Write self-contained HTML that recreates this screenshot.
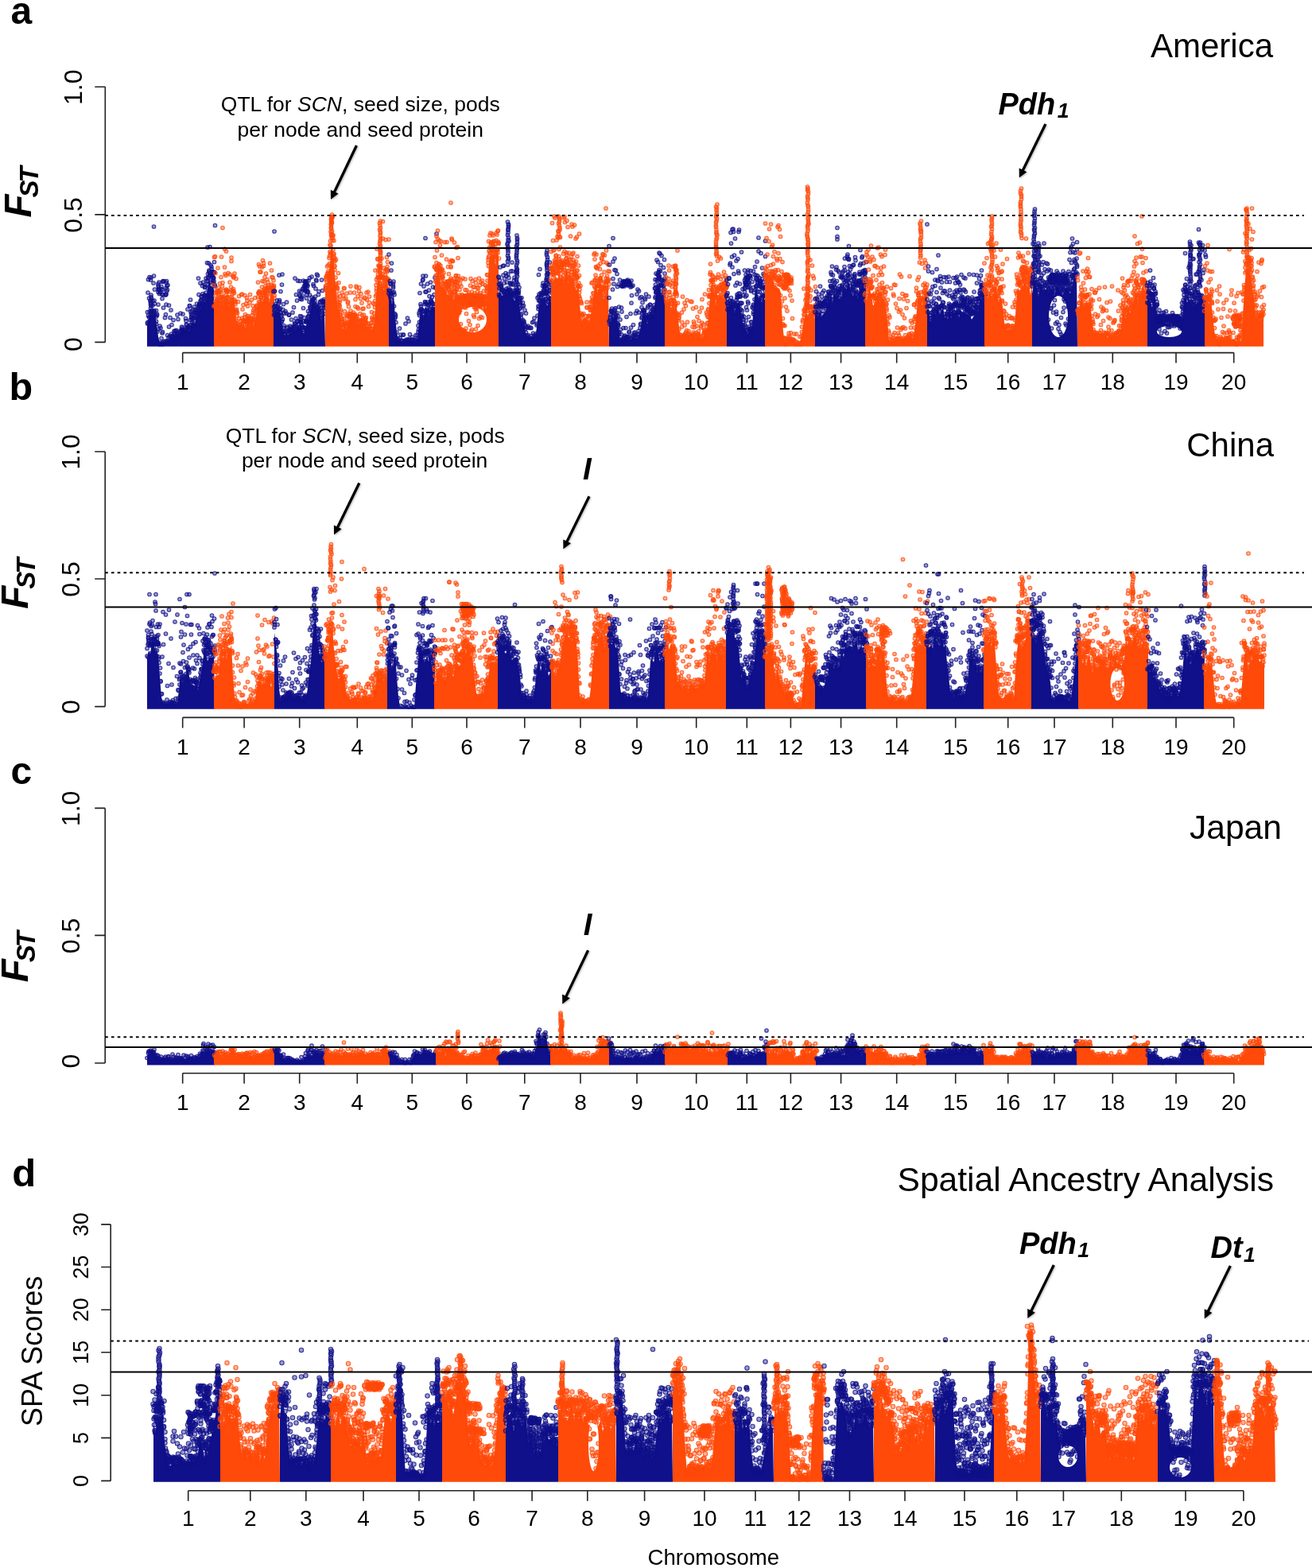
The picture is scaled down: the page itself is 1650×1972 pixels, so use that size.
<!DOCTYPE html>
<html><head><meta charset="utf-8"><title>Fst Manhattan plots</title>
<style>
html,body{margin:0;padding:0;background:#fff;}
svg{display:block;}
text{font-family:"Liberation Sans",Arial,sans-serif;fill:#000;}
.ax{stroke:#222;stroke-width:1.6;fill:none;}
.dt{stroke:#000;stroke-width:2;stroke-dasharray:3.6 4.16;}
.sl{stroke:#000;stroke-width:2;}
.sb{fill:#10108a;}
.so{fill:#ff4a0a;}
.mb,.mo,.mbd,.mod{fill:none;stroke:none;}
.mbd{marker-start:url(#kbd);marker-mid:url(#kbd);marker-end:url(#kbd);}
.mod{marker-start:url(#kod);marker-mid:url(#kod);marker-end:url(#kod);}
.mb{marker-start:url(#kb);marker-mid:url(#kb);marker-end:url(#kb);}
.mo{marker-start:url(#ko);marker-mid:url(#ko);marker-end:url(#ko);}
</style></head><body>
<svg width="1650" height="1972" viewBox="0 0 1650 1972">
<defs>
<marker id="kb" markerUnits="userSpaceOnUse" markerWidth="8" markerHeight="8" refX="4" refY="4" overflow="visible"><circle cx="4" cy="4" r="2.3" fill="#10108a" fill-opacity=".42" stroke="#10108a" stroke-opacity=".8" stroke-width="1.1"/></marker>
<marker id="ko" markerUnits="userSpaceOnUse" markerWidth="8" markerHeight="8" refX="4" refY="4" overflow="visible"><circle cx="4" cy="4" r="2.3" fill="#ff4a0a" fill-opacity=".42" stroke="#ff4a0a" stroke-opacity=".8" stroke-width="1.1"/></marker>
<marker id="kbd" markerUnits="userSpaceOnUse" markerWidth="8" markerHeight="8" refX="4" refY="4" overflow="visible"><circle cx="4" cy="4" r="2.7" fill="#10108a" fill-opacity=".42" stroke="#10108a" stroke-opacity=".8" stroke-width="1.1"/></marker>
<marker id="kod" markerUnits="userSpaceOnUse" markerWidth="8" markerHeight="8" refX="4" refY="4" overflow="visible"><circle cx="4" cy="4" r="2.7" fill="#ff4a0a" fill-opacity=".42" stroke="#ff4a0a" stroke-opacity=".8" stroke-width="1.1"/></marker>
</defs>
<g id="pa">
<path class="sb" d="M185 435.7L185 405.9L187 400.6L189 394.6L191 398.5L193 395.4L195 394.8L197 407.9L199 423.2L201 430.9L203 429.5L205 429.8L207 430.4L209 430.9L211 430.2L213 427.5L215 422.5L217 424.4L219 422.3L221 425L223 421.6L225 423.5L227 417L229 418.1L231 418L233 415.9L235 411L237 415.7L239 415.9L241 405.2L243 405.4L245 406.9L247 398.8L249 393.8L251 389.9L253 385.8L255 379.3L257 380.6L259 378.1L261 363L263 349.5L265 360.2L267 358.4L269 364.1L270 435.7Z"/>
<path class="mb" d="M185.5 407l0-14.5 0 13 .5-37.5 .5 29 0-45.5 1 23.5 0 24 0 5.5 .5-12.5 0-43.5 1 49.5 0-19.5 .5 2.5 0-3 0-26 0 31 0 4.5 .5-3 0 8 0-21.5 0 20.5 0-42.5 0 24.5 .5 24.5 0-3 0-19.5 0 24 .5-5.5 0-4 1-11.5 0 5.5 0 14 1-42 .5 36 0-107 0 107.5 0-45.5 .5 43.5 0-12.5 .5 4 0-18 0 32 2 2 0 6 0-13.5 0 17 1-12.5 0 1.5 .5 20.5 1-34 0-26 0 2.5 0 8 .5-6 0 3 0 49.5 .5-50.5 0-8.5 .5 76 0-61.5 0-5 .5 45.5 0 23 .5-65.5 .5 45 1-49 0 62 0-65 .5 9.5 0 61 .5-12 0-43.5 .5 57.5 0-78.5 0 63 0-53 .5 6 0-17 .5 76 0-42.5 .5-33.5 1 77 .5-31 .5-28.5 0 58 .5-58.5 0 25 .5-40 0 27.5 0-13 0-8 .5 4.5 0-13 0 77 .5-71 .5 69 0-64 0 57 0 9 .5-72 .5 71 .5-5 .5-13.5 0 20.5 0-47.5 1 39 .5-23.5 1-9.5 0 35 .5-5 .5-11.5 0 14.5 .5-.5 .5 2.5 1-1.5 0-21 1 17.5 0-3.5 1-.5 .5 4.5 0 5 .5-9.5 .5 6 .5-6.5 0 7 1-26.5 0 24.5 .5-2 .5-17 0 21 .5-3 .5 7 1-4 .5-5 .5-1 0-22.5 1 20.5 .5-3.5 .5 3.5 0 1.5 .5 3 .5-7 0 5.5 0-22.5 1 21 .5 2.5 0-4 1 2 .5 2.5 .5-18.5 .5 3 .5 10 0-5 0-.5 1.5 4 0-23 1 21.5 0 6 0-4 1.5-28 0 28.5 0-28.5 0 27.5 .5-.5 0-9 .5 16.5 0-42 0 31.5 .5-16 0 16.5 .5-11 0-3 .5 7 0-2.5 .5-8.5 .5 14.5 0-9.5 .5-7 0 11.5 .5 8.5 1-23 0 14 .5 6 .5-12.5 .5 5 0 11 .5-19.5 0 2.5 .5 17 0-15.5 0 5.5 .5 .5 0-6.5 .5-11.5 0 8.5 1 3.5 .5-6.5 0 1.5 .5 4.5 0-43.5 .5 35 0-1 0-13.5 1 12 0-.5 0 .5 .5 5.5 .5-9.5 0-22.5 0 31.5 1-10.5 0-4 .5 9.5 0-5 .5-5 .5-13 .5 10 0 12.5 .5 1 0-28 1 17 0 4 .5-17.5 0 21.5 .5-9 0 2 0-11.5 .5-1 .5 17.5 0-3 .5-25 0 18 1-14.5 .5 18.5 0-.5 0-41 .5-19.5 .5 42.5 0 9 0-13.5 0-4.5 .5 13.5 .5-8.5 0-18.5 .5 9 0 1.5 .5 1.5 .5 4 0-1.5 0-35 1 53 0-30 .5 29 .5-24 0-3 0 19.5 .5-7.5 .5-1.5 0-4.5 .5 11 0-7.5 .5 10.5 0-13.5 0 1 .5 6 0 .5 0 .5 .5 3.5 .5-11 0 0 0-13 .5 28.5 .5-74.5 0 76.5"/>
<path class="so" d="M269 435.7L269 382.5L271 378.3L273 382.6L275 376.6L277 385.1L279 372.9L281 383.7L283 378.3L285 371.1L287 385.4L289 384L291 380.5L293 373.1L295 380.2L297 402L299 404.8L301 412.4L303 413.7L305 409.6L307 409.9L309 413L311 405.5L313 408.9L315 408.6L317 407.6L319 409.4L321 403.5L323 391.9L325 378.9L327 380.5L329 381.8L331 379.7L333 368.1L335 373L337 370.3L339 382L341 362.3L343 368.7L345 376.5L345 435.7Z"/>
<path class="mo" d="M268.5 358.5l.5 26.5 .5-61.5 1 61 0-62 .5 49.5 0-28.5 0 35.5 .5 2 .5-15 0 2 1 9.5 0-1 0 7 .5-15.5 .5 7 0-9.5 0-28.5 .5 32.5 .5-3.5 0-4 0 16.5 0-11.5 .5 13.5 1-24 0 10.5 0 17 0-10 0 7.5 .5-17 1-16 0 30.5 .5-5.5 0-50.5 .5 48 .5 3 0-14 .5 13.5 0-87 0 69 .5 21 1 0 0 7 0-18 0 12 .5 2.5 .5-44 0-23 .5 31.5 .5 36 .5-34 0 18 .5 6.5 0-7 0-48 .5 51 .5 7 0 .5 0 4.5 .5-5.5 0-7.5 .5-.5 .5 23 0-4.5 0-40.5 1 23.5 0 13 0 3 1-38 0 34 0-24 0 24.5 .5-6 0 9 1-21.5 .5-32.5 0-4.5 .5 50 0 3 .5 4 0-16 .5 11.5 0-10 0 3 .5-22 .5 16 .5-14.5 0-1.5 0 19 .5 2 .5 8.5 0-33 .5 46.5 .5-11.5 0 3.5 0-2.5 1 12.5 0-42 .5 41.5 0-1.5 0 13 0-14.5 .5 8.5 .5-4 0 13.5 1-27.5 1 32 0-11 0-28 0 38 .5 2.5 .5 2.5 .5-7.5 .5 .5 0 2 .5-7 .5 12 0-45 1-.5 0 39.5 0-2.5 0-7 .5-11 .5 14 .5-19.5 .5 30.5 0-9.5 0 7 .5-8.5 .5-.5 0-3.5 .5 6 0-33.5 .5 32 0 12 0-20 1-13.5 1-7.5 0 29 0 4 0 1.5 .5-31 0 19.5 .5 3 0 4.5 0-20 1 12.5 0 5 0 2.5 .5-5 1 5.5 0-4.5 0-20.5 .5 23.5 0-33.5 .5 39 0-8.5 1-1 0 6.5 .5-.5 0-29 .5 26 0-6.5 1-12 .5 9 0 8 0-11 .5 15 .5 .5 .5-3.5 0-14 .5 12 .5 2 0-8 0-20 1 22.5 .5-12 .5-1 0 4.5 0 2.5 0-5.5 1 4 .5-34.5 0 18.5 .5-5 .5 0 0 0 0-36 0 47 .5-11.5 0-1.5 .5-31.5 0 31.5 .5-24.5 0 38 .5 2.5 .5-8.5 0 0 0-32 1 39.5 0-7.5 .5-38 0 25 0 16.5 .5-24 0 25.5 .5-51.5 0 41 0 2.5 .5-2.5 .5-34 0-3.5 .5 23 0 10 0 2 .5 5 .5-22.5 .5 18 .5-3.5 0-3.5 .5-15.5 0 29.5 0-5.5 .5-3 1-13.5 0 17 1-4 0-9.5 0 4 0 2.5 .5 0 0 7.5 .5 10 1 4 0-9 0 7 .5-50 0 35 .5-1.5 .5-2.5 1-22 0 18 .5-9.5 0 14 0-3.5 1-10 0 14.5 .5 5 0-7.5 .5 3.5 0-12 .5 6.5 0 2 .5 10.5 0 3.5 .5-8.5"/>
<path class="sb" d="M344 435.7L344 394.9L346 394.9L348 393.9L350 391.1L352 392.7L354 403.8L356 413.7L358 421.8L360 419L362 421.5L364 419.1L366 418.5L368 417.3L370 414.2L372 416.7L374 410.3L376 415L378 408.3L380 414.6L382 419.3L384 411.4L386 406.4L388 404.4L390 391.6L392 383.4L394 380.9L396 381.3L398 389.7L400 386.7L402 392.5L404 403.4L406 389.6L408 391.6L409 435.7Z"/>
<path class="mb" d="M344 366.5l.5 29.5 0-10 .5-95 0 99.5 .5-24.5 0 26 .5-7.5 0 10.5 .5-12.5 0 3 0 4 2 5 0-2.5 0-14 .5 18 0-10.5 0 .5 .5 5.5 .5-3.5 .5-6.5 .5-35.5 .5 31.5 0 11 0-9 .5 13 .5-5 .5 6 0-27 1 30 0 8 0-6 .5-40.5 0 46 .5-59 .5 56.5 .5-12 0 26.5 .5-4 0-29.5 .5 27 0 7 .5-22.5 .5 30.5 .5-4.5 .5-28.5 0 26 1-23.5 .5-14 0 36.5 0 1.5 .5-5.5 .5-1.5 1 9 1-4.5 0-19.5 0 0 .5 19.5 1-5.5 .5 9 0-3.5 0-.5 .5-1 .5-12 0 14 0-4.5 1.5-18.5 0 21 .5-1 .5-1 .5-25.5 0 24 1-4 0 10 .5-66.5 0 60.5 0-3.5 1 11.5 0-10.5 0-7.5 .5-30 1 7.5 0 37.5 0-11.5 .5 9 .5-60 .5 51 .5 8 0 2 .5-6.5 .5-36.5 0 42 0-47 0 46 .5-9 0-49.5 .5 19 0 25 .5 4.5 0-26 .5 28.5 0 1 0-38.5 .5 41 0-34 0 24 .5-21.5 0 33 1-46 0 8.5 0 39.5 .5 3.5 .5-62 0 58.5 0-7.5 0-41.5 0 25 .5 27 0 7.5 .5-62.5 0 40 .5-35.5 0 48 .5-58 0 7 0 51.5 0-46.5 .5-11.5 0 .5 0 4 .5-2 0 1 0 7 0-.5 0 40.5 .5-1 0 .5 .5 0 0-51 0 21.5 0-16.5 .5 5 0 7 0 33 0-36.5 .5-.5 0-8.5 .5 46 0-44.5 0 44.5 .5-12.5 0-24.5 0 32 0-1 .5-.5 0-44.5 1 26.5 .5-8.5 0 23 0-44.5 .5 38 0-1.5 1 4 .5-9.5 0 5 .5-11.5 0-26 0 34.5 1-5.5 .5 2.5 0-2.5 .5-19.5 .5 2 0 21.5 0-5.5 1.5 2.5 .5-5 0 10.5 0 1 .5-21.5 .5-11 .5 1 0 37 .5-45 0 38 .5 4 .5-40.5 .5 39 0 1.5 .5-16.5 .5 19.5 0-23.5 .5 18 0 6.5 1-11.5 0 13 .5-12.5 0 17 .5-6 .5 8.5 0 2.5 .5-24 0-26 .5 35.5 0 8.5 .5-30.5 .5 14.5 .5-.5 0-1 .5 5 0 4.5 .5-9 0-2.5 .5 10.5 0-3.5 1 11 .5-32.5 0 20"/>
<path class="so" d="M409 435.7L409 364.7L411 360.5L413 342.6L415 333.5L417 303.2L419 318.2L421 345L423 372.1L425 387.5L427 390.4L429 404.8L431 414.5L433 409.1L435 413.9L437 407.5L439 402.2L441 401.8L443 406.6L445 404.4L447 403.8L449 406.5L451 407.4L453 405.9L455 399L457 407.1L459 405.3L461 410.7L463 416.5L465 417.1L467 415L469 414.2L471 402.3L473 371.1L475 353.2L477 353.2L479 359.3L481 360.2L483 365.7L485 351.6L487 354.5L489 368.3L489 435.7Z"/>
<path class="mo" d="M409 364.5l.5-5 .5-10.5 0 2.5 .5 13 0-17 .5 6.5 0 4.5 .5-12.5 0-11 .5 8.5 .5 4 .5-6.5 0 3 0-10.5 1-9 .5-2.5 0 9.5 .5-23.5 0 8.5 .5 2.5 0-16 .5-11.5 0 17.5 .5-21.5 0-2.5 0 33 0-22.5 0-13.5 0-5 0 10 0-5 0-7.5 .5 1.5 0 3.5 0 14.5 0-14.5 0 17 0 2.5 .5-25 0-1.5 0 18 0-10.5 0-10 .5 3 0 29.5 0-30 .5 23 0 3.5 .5 15 0-18 .5 26.5 0-2.5 .5-17.5 0 16.5 .5 15 0-7 .5-2.5 0 15 0-4.5 0-6.5 .5 29.5 .5-9 .5-22.5 0 34 .5 13.5 0-11.5 0-6 1 10 0 5.5 0-11 .5 1.5 0 17 1-36 0 39.5 .5-27.5 0 33.5 1-9 0 4 0 1 .5-7.5 0 18 .5-3.5 0 3.5 0-23 .5 17 1 17.5 0-6.5 .5 2 0-34.5 .5 36.5 .5-3 .5-30 0 40 .5-2 0-12.5 0 11 .5-45.5 .5 13.5 0 33 0-46.5 .5 29 .5 15.5 0 0 .5 10.5 0-12 .5-30.5 0 42 1-48 .5 27.5 0 14.5 0-10.5 .5 10 0-4.5 .5-26.5 0 15 0-13.5 .5 17 .5 8.5 0-21 0 12 1-2.5 .5 10 0-7.5 .5 1 0-30.5 0 28 .5 8.5 0-44.5 0 31 .5 12 .5-8 .5 2.5 0 9.5 0-6 .5 0 1 2 .5-7.5 0-2.5 0 12.5 .5-3.5 0-5 .5-29 .5 28 0 3 0 4.5 1-18 0 10 0-19 .5 25 0-1 .5 9 0-12 0-37.5 .5 1.5 0 42 .5-5.5 .5-11.5 .5 19 0-33 .5 15.5 0 22 .5-8 .5 2 0-37.5 .5-5 0 45 .5 3 .5-15 .5-19 0 27.5 .5-33.5 1 11.5 .5 21.5 0-6 0 6 .5-14 .5 12 0 10.5 .5-23 .5 8 .5 9.5 .5-31.5 .5 1.5 0 26 .5 4 0-5 0 1.5 .5 3 .5 .5 0-6 .5-31.5 0 45.5 .5-36.5 .5 29.5 .5 3.5 0 4 .5-47 .5 47 0-28.5 .5 25.5 .5-30.5 0-7.5 .5 41 0-3.5 .5 7.5 0-.5 1-11.5 .5 8 .5-8 0-13.5 .5 8.5 0 8.5 0-10.5 1 18 0 .5 .5-36 0 20 1 12 0-19.5 .5 9 0-20.5 .5 4 0 12 0-20 .5-38.5 .5 32.5 .5-14 .5 4.5 0 7.5 0-19 0 14.5 .5-53 1 42 0-6 0-23.5 0 .5 .5 23 0-4 0-5 .5-6 1 1.5 0 14.5 0-15.5 .5 14 0 7.5 0-75.5 0 8.5 0 51 0-33.5 .5 19.5 0-12 0 28.5 0-59 0 28 0 16.5 0-24.5 0 20.5 0-27.5 .5 38 0 9.5 0-35 0-9.5 0 19 0-1.5 0 31 0-16.5 0-53.5 0 8.5 0 61.5 0-56.5 0 44.5 0-34.5 0 19.5 0-27.5 0 23 0 30.5 0-9 .5 19 .5-9.5 .5-22.5 0 27.5 0-3.5 .5 0 .5 10.5 0-15 .5 5 0-49.5 0 59 0-80.5 .5 84.5 .5-26 .5 14 .5 18 0-8.5 .5-11.5 .5-3 0 9 0-14 0 14 .5-53.5 .5 52.5 0-5 0-10 .5 10.5 .5-11 0-15 .5 18 0-1.5 0-4.5 .5 16.5 0-22.5 .5 23 .5 1 0 6 0-8.5 .5 17 0-67"/>
<path class="sb" d="M489 435.7L489 371.6L491 372.4L493 383L495 367.5L497 400.3L499 417.3L501 428.1L503 428.3L505 431.6L507 430.1L509 430.2L511 429.4L513 429L515 429L517 429.5L519 427.9L521 430L523 429.8L525 426.4L527 404L529 391.2L531 393.7L533 398.9L535 384.6L537 389.9L539 396.7L541 391L543 385.9L545 387.6L547 387.9L547 435.7Z"/>
<path class="mb" d="M489 320l0 45 0 4 1-3.5 .5 .5 0 5.5 0-18 .5 3.5 0 16.5 .5-17 0 19.5 0-7 .5-29 .5-9 0 53.5 0-15 1 12 .5-13.5 .5-6 0-5 0 3 .5-6 .5 13.5 0 17.5 .5-14.5 .5 24 0 6 1-4.5 0 2.5 .5 7 1 12.5 .5 12 .5-4.5 1 2 0 2.5 1 2 .5-19 0 17.5 .5-5.5 1-4 .5 7 1.5 3 .5-2.5 .5-7.5 .5 11 0-11 1 8 .5 0 1-22 .5 21.5 .5 1.5 0-3 1.5-27 .5 27 .5 2 .5-25 0 23.5 .5 2.5 .5-4 .5-5.5 .5 10 1 0 .5-3 .5 1 .5-4.5 1 7 0-4 1 5 .5 0 .5-3.5 1-1.5 .5 2 0-7.5 1 8.5 1-4 0-4.5 1-12 0 8 .5-3 .5-20.5 .5 2.5 0 8.5 .5-14 0-22.5 1 14 0 7 .5-.5 0-32 0 28 1 4 1 3 0-39.5 0 38.5 .5 4.5 0-48.5 0 4.5 1 47 0-38.5 .5 31 1-11.5 0 3 .5-83 0 67.5 0 13.5 .5-33.5 .5 20 .5 15 .5 7 .5-9 0-23 0 33.5 0 .5 .5-8 .5 12.5 0-2.5 .5-9 .5-19 .5 7.5 0 17.5 0 2.5 1-3.5 .5-34 0 29.5 .5-4.5 0-1 0-1.5 .5 1.5 .5 3 .5-8.5 .5 7.5 .5 7.5 0-27.5 .5 29 0-7.5 1 3 0-15 .5 18.5 .5 .5 0-40.5 .5 13 1.5-68"/>
<path class="so" d="M547 435.7L547 353.4L549 349.4L551 341.8L553 350.3L555 361.2L557 363.2L559 364.1L561 371.7L563 372.1L565 371.9L567 367L569 373.1L571 378.3L573 363L575 364.1L577 386.2L579 383.4L581 390.7L583 391.8L585 384.1L587 373.5L589 380.3L591 374.2L593 380.6L595 375L597 385.2L599 389.6L601 379.4L603 382L605 379.1L607 391.8L609 376.6L611 388.8L613 363.7L615 329L617 321L619 318.9L621 320.9L623 333.9L625 317.5L627 321.7L627 435.7Z"/>
<ellipse cx="594.5" cy="402" rx="17.5" ry="16" fill="#fff"/>
<path class="mo" d="M546.5 336l0-1 .5-11.5 .5 30.5 .5-49.5 0 42 .5-8 0 14 .5-15.5 0 2.5 0-9 0-33.5 .5 18 .5 30.5 0-6.5 .5-49 0 10.5 .5 34.5 0 6.5 1 4.5 0-13 0-1 .5 5.5 0-35 0 40.5 1 5 0-6.5 0-33 .5 45.5 0-20 0 3.5 .5-34 0 46.5 0 13.5 .5-23 0-1.5 .5-18 0 40 .5-16.5 .5 4.5 0-10 0 8.5 .5 1 0 7.5 .5 .5 0 4 0 8 .5-25.5 .5 25 .5-5.5 0-8.5 .5-49.5 0 64 .5-11.5 .5 0 0 6.5 .5 0 .5-37.5 .5 47 0-3.5 0-10 0-55 .5 49.5 .5 19 0-18.5 .5-19 0 24 0 1 0 3.5 .5-6.5 0-4 .5-9 0 19 .5-3 0-6 0 3.5 1 9 0-37.5 .5 22.5 0 16.5 .5-33.5 0 1 0 25 0-106 0 95 .5-22.5 .5 39 0-66.5 .5 52.5 0 2.5 0-53.5 0 69 .5-42.5 0 29 0 12.5 .5-41 .5 47 .5-8.5 0 10 .5-14 0 4 0 3.5 .5-20 0-45.5 .5 53 0 3.5 0-6 .5-.5 .5-1 .5-7.5 0 .5 .5-35.5 0 53 .5-14.5 0 5 0 4.5 .5-4 .5-45 .5 14 0 49 0-13 .5 48 0-61.5 0 31.5 .5-27.5 .5 24.5 0 18 0-19 .5-10 0 6.5 0 11.5 .5-9.5 0-16 0 23.5 .5-6 0 11 0-5.5 0-4.5 0 4.5 .5 2 0-30 0 55.5 .5-32 0 11 0-26.5 .5 26 0 28 .5-36 0 8.5 0-6.5 0-9.5 .5 8.5 0 0 0 38 0-35 0-2 0-1 .5-29 0 22.5 0 6.5 .5-7 0 7 0-2 .5 4 0 35 0-42 0 4 0-4 0 9 0-5 .5-2.5 0-2.5 0 43.5 0-41.5 .5 7.5 0 1 0-5.5 0-1 .5 2 0 3 0-10 0 44 .5-34 0-4 0-27 0 13.5 .5 8.5 0-1 0 15 0-5.5 0-2.5 0-4 0 1 .5-3.5 0 40.5 0-31.5 0-7 .5 7.5 0-9 0-1 0 22.5 .5-29.5 0 17.5 .5-9 0 6 0-4.5 0 1 .5-4.5 0 2 0-2 0 1.5 0 1 .5 3 .5 7 0-8.5 0-2.5 0-2 0 0 .5 32.5 0-24.5 0-3.5 0 4 0-11.5 1 4.5 .5 4.5 0 31.5 0-31.5 .5 .5 0-18.5 0 13 0-.5 .5 7 0-2.5 0-25.5 .5 66 0-42.5 0 8 .5-5 .5 3.5 0-4.5 0-1 0-8 0 47.5 0-33 .5-7 0 4 0-25 0 17.5 0 1.5 0 5.5 0-5.5 .5 5 .5 1.5 0-18 0 14.5 0-3 0 3.5 0 .5 .5 0 0-3.5 0 23.5 0-22.5 0 8 .5 .5 0-5.5 .5-5.5 0-10.5 0 25.5 0 12 .5-22.5 0-7 0 5.5 .5 8 0-4.5 0-4 .5-1.5 0 4.5 0 11.5 0-37 .5 30.5 0 4.5 0 27.5 0-35 0-23.5 .5 25 0-6.5 .5 18.5 0-21 .5-10 0 19.5 0-6 0 12.5 0-11.5 .5-4.5 0-4.5 0 12 .5 30.5 0-35 0 2.5 .5-5.5 0 6.5 0 1 0-16.5 .5 13 0 1.5 .5-6 0 29.5 0-18 0-32.5 .5 23.5 .5 9 0-3.5 0-20.5 0 18 .5-8 0 6 .5 24 0-43.5 0 20.5 .5-3.5 0 5 0 4 0-10 0 3 .5 3 0 2.5 0-3 0-4 .5 2 0 8 .5-10 0 5.5 0 .5 0-25.5 0 29 0 17.5 .5-17 0 .5 0-5 0-21 .5 20.5 0-1.5 .5-3.5 0 14.5 0-8.5 0-5 .5 8.5 0-5.5 0 6.5 0-6 0-.5 0-10.5 .5 8 0 8 0-5.5 0-2 .5-1.5 0 7.5 .5-22 0 14.5 0 9 0 .5 0-9.5 0 43 .5-34 .5-10 0 46 0-41.5 1-11 0-5.5 .5 2.5 0-17 0 16 .5 53 0-61.5 0 14 .5-21 .5-19.5 0 4 .5 4 0-10.5 0-20.5 .5 12 0 6.5 .5-10.5 .5-15.5 0 22 1-25 0 12 0 12.5 .5-3.5 0-5.5 .5 7.5 0-11 1-11 0 11 .5 2.5 0 4 0 3 .5-5.5 0-13 .5 7.5 .5 20 0-7.5 .5-12.5 .5 6.5 0 12 .5 8 0-3.5 0-13 .5 5.5 0 2 0-14.5 0 28.5 1-42 0 25.5 0 5.5 0-21.5 1 11.5 0 0 0-19 0 19.5 1-.5 0-23.5 0 27.5 .5-14 0-14 .5 15.5 0 1 .5 18.5"/>
<path class="sb" d="M627 435.7L627 368.8L629 368.1L631 371.7L633 372.4L635 366.7L637 369.3L639 363.7L641 366.8L643 368.2L645 373.2L647 379.5L649 373.6L651 371.1L653 382.8L655 398.5L657 404.7L659 403.8L661 418.8L663 423.2L665 425L667 422.9L669 423.2L671 423L673 426.5L675 411.6L677 390.3L679 381.8L681 381.3L683 374.8L685 372.8L687 383.3L689 384.2L691 371.4L693 380.6L693 435.7Z"/>
<path class="mb" d="M627 348l.5 22.5 0-13 0-8.5 .5 23.5 0-10 .5-10 .5-16.5 0 22 .5-1 .5 5 .5 12 0-13.5 0 7 0-2.5 0-5 1.5 4 0 1 .5-30.5 .5 11.5 .5 21 0 9 0-42 .5 22 .5 10.5 0 2 0-18 0 20 .5-5 1 5.5 0-27.5 .5 28.5 .5-25 0 21.5 0-5.5 .5-8 .5 11 0-58.5 .5-12 0 33 0-23 0 7 0 20.5 0-54 0 42.5 .5-20 0 16.5 0-30 0 4.5 0 22.5 0 30 0-34.5 0-21 .5 72.5 0-63.5 0-16.5 0 1.5 0 42.5 0 38.5 0-40.5 0-38.5 .5 17.5 0 62 0-15.5 1 15.5 .5-9 0 8 .5-8 .5 11.5 0-26.5 0 16.5 0 12.5 1-2.5 .5-37.5 .5 41 0 1 0-15 0 1 0-17 1 28 0-3.5 .5 15 .5-28 0 19 0-2.5 .5 12 0-32 1 28 0-11.5 0 6.5 1-5 0-24.5 0 19 .5 12.5 0-38 0 15 0-26 0-2.5 0 18 0-31 0 58.5 0-34.5 0 25 0-38 0 32.5 .5-38 0 25 0 5 0 20.5 0-10 0-59.5 0 22 0 49 .5-19.5 0 16.5 0-62.5 0 6 0 62 0-57 0-8 0 26 0-2.5 0-28.5 0 43 0-4 1 29 0 7 0-17 .5 13 0-2 .5-2.5 .5 9.5 0-14 0 18 .5 9 0-8 .5 1 0-6.5 .5 5 0-4.5 .5 20.5 0-9 .5 13 .5-25.5 0 20 .5 12 .5-21.5 .5 17.5 0-22 .5 24.5 .5-20.5 .5 21.5 0-2 1 4.5 0-18.5 .5 24 1 4 0-24 .5 17 0 10.5 .5-9.5 .5 11 1-13 0 16 .5-4.5 1-9 1 12.5 .5-13 0 14.5 .5-4 .5-10 1 14 .5-21 1 13.5 0 8 .5-22.5 .5 17 .5 2 0-23.5 .5 26.5 1 2 0-6.5 1 1.5 0-4 .5-10.5 .5-2 .5-10 0-22.5 1 10.5 0 3.5 .5-15.5 0 5 0-32.5 .5 24.5 0 16 1-7 0-1.5 0-39 1 35 0-5 0 14.5 .5-8.5 0-4 .5 9 .5-11 .5 2.5 0 7.5 .5-19 0 18 .5-10 0-11.5 .5 9 1 4.5 0-9.5 0 1.5 0-3 .5 7.5 0-3 1-3.5 0 8 0 1.5 0 9.5 .5-19 0 17 .5-24.5 0 24 0-7 .5-14 0-9.5 0 4.5 0-32 0 40 0-37.5 0 48.5 0-35.5 0 35 0-37 .5-16.5 0 22 0 26 0 21.5 0-44.5 0-5 0 31.5 0-37 .5 19 0-25 0 49 0-20 0-9.5 0-16.5 .5 17.5 0 35 .5-34.5 0 35 .5-5.5 .5-20.5 .5 11 0-3 .5 4.5 0-36 .5 45.5 0 .5 .5-20.5 0-17.5 .5 20 0 10 0 7.5"/>
<path class="so" d="M693 435.7L693 347.8L695 355.9L697 351.3L699 347.9L701 351.5L703 344.9L705 351.9L707 349L709 356.5L711 343.2L713 337.3L715 356.7L717 350.7L719 354.8L721 341.8L723 360.1L725 365.7L727 357.8L729 381.5L731 403.4L733 409.3L735 412.1L737 408.5L739 409.8L741 405.8L743 395.5L745 383.4L747 367.9L749 351.9L751 368.3L753 363.1L755 363L757 361.9L759 376.5L761 371.2L763 360.6L765 356.9L766 435.7Z"/>
<path class="mo" d="M692.5 337l0 14.5 .5-35 .5 37 0-14.5 .5 6.5 0-13 .5-52 .5 57 0 4 .5-39 0 41 0 0 0 0 0-5 .5-23.5 .5 31 0-.5 0-7 .5-66.5 0 42 0 19.5 .5-6 .5 6 0-59.5 0 77 0-20.5 1 12.5 0-13.5 0-3.5 0-4 .5 15 0-16 .5-19 0 30 0 2 .5 6.5 0 12.5 .5-11 0-6 0-38.5 .5 46.5 .5-7 0-38 0-8.5 .5 53 0-49 0-3 0-19.5 0 9 .5 41.5 0 11.5 0-2.5 0-5.5 0-12.5 .5-37.5 0 7.5 0-9.5 0 54.5 0-50 0 19 0 42.5 .5-51 0-2.5 .5 24.5 0 25 0-37.5 0 50.5 .5-1 0-19 .5 6.5 0 4.5 .5-6.5 0 3 .5-1.5 0-5.5 .5-2 0 2 0 22.5 1-10.5 0 14 0-23 .5-13.5 0 32 0 0 .5-77 0 72 0 8 .5-17.5 0 3 .5-23.5 0-43.5 0 59.5 0-1 .5-51.5 .5 50 0 3.5 .5 11.5 .5-19 .5-7.5 0 6.5 .5-4 0 9 0-1 0 4.5 0-55.5 1 63 0 4 0-59 .5 64.5 .5-9 0 8 .5-17 0-5.5 0-8.5 .5 15.5 0 14.5 .5 3.5 0-20.5 .5 4 .5 13.5 0-22 0 27.5 0-57 .5 49 .5 7.5 0-31 0 30 0 3.5 .5-74 0 60.5 0 10.5 .5-14.5 .5-19 0-34.5 0 49 0 4.5 1-11.5 0-9 .5 16 .5 10 0-9.5 0-4.5 0 8.5 .5-55.5 0 62 .5-13 0 21.5 0-11.5 .5 4 .5-46 .5 51.5 0-7.5 0-15 .5 34.5 0-16 0 2 .5-51.5 0 60 0-17.5 .5-18 0 17.5 0 8.5 .5 .5 .5 10 0 1 .5-26 .5 22 0 4.5 0 12 .5-26 0-52.5 0 79 0-5 .5-4 .5 11.5 .5-16 .5 34.5 0-14 0-1 .5 25 .5-22.5 0 14 .5 1.5 .5 14.5 0-5 0-10.5 .5 6 0 6 1-13.5 0 13 1 3.5 0-4.5 .5-3.5 0 1.5 .5-1.5 0 10.5 1-11.5 0-4.5 .5 12 .5-23 0 22 0-28.5 .5 27 0-20 .5 15.5 .5 11 .5-3.5 0-12.5 .5 9 0-9.5 .5 8 .5-19 .5-.5 .5 12.5 0-7.5 0-1.5 .5-9.5 1-23.5 0 29.5 .5 4 0-9.5 0-6 .5 4.5 0-23.5 1 13.5 0 7.5 .5-7 .5-49 .5 40 .5-41.5 0 7.5 0 26 .5 10 .5-16 0 6.5 .5-17 .5-15.5 0 16.5 0 21 0-7.5 1-12.5 .5 29 .5-7 .5-3.5 0 4.5 0-26.5 0 32.5 .5-13.5 0 6 1-1 0 1.5 .5-21 .5 12.5 0-1 0-18.5 0 18.5 0 3 1 10.5 0-10.5 .5-28.5 0 21.5 .5-20 .5 38.5 0-4 .5-41 0 45.5 0-3 .5-1 0-40.5 0 46.5 .5-37.5 .5 45 0-19.5 .5-13 0 20.5 .5-.5 0-1 0-40 0 50.5 1-1 0-4 0-11.5 0 9 .5-102 0 88 .5-35 0 39.5 0 3 .5-27 0 24 .5-7.5 0 6 .5-1.5 0 10.5 .5-29.5 .5 8.5 0 12.5 .5-2 .5 6 .5-16"/>
<path class="sb" d="M766 435.7L766 402.5L768 405.2L770 398.1L772 400.7L774 398.1L776 399.5L778 412.2L780 426.5L782 425.4L784 426.9L786 425L788 425.1L790 426.2L792 428L794 426.5L796 424.4L798 423.9L800 428.9L802 426L804 419.6L806 410.1L808 397.6L810 395L812 400.4L814 407.4L816 400.6L818 396.1L820 395.1L822 395.7L824 375.7L826 364.3L828 360.7L830 355.8L832 374.7L834 375.3L836 366.6L836 435.7Z"/>
<path class="mb" d="M766 404l0-29.5 0-65 .5 23.5 .5 75 .5-9.5 0 4.5 0-2.5 .5-4.5 .5-4.5 0-1 1 1.5 0-4 0 5 1-29 .5-35 0-29.5 0 51 0 47 1 1.5 0-5.5 0-36.5 1-32 0 14.5 0 51.5 0-2 .5 14 .5-8.5 0 5.5 0-12.5 .5-47.5 .5 56.5 0 2.5 1-5.5 0-49 .5 16 0 46 1-9 0 10.5 0 2 0-1.5 .5-51 .5 28.5 0 31.5 .5 2 .5-67.5 .5 50 .5 12.5 .5 13 0-68.5 .5 61.5 0-33.5 .5 39.5 0-34.5 0-32 1 70.5 0-75 0 4.5 .5-1.5 0 .5 0 71 .5-76.5 0 59 0-57.5 0 70.5 .5-70.5 0 70.5 .5-71.5 0 1.5 0 4.5 .5 63 .5 2 0-3 0-67.5 .5 3.5 0-2.5 .5 57 0-54.5 .5 65.5 .5-66 0 41 0-45.5 .5 72 0-1 .5 1 0-67 0-3 .5 4 0-5 0-2 .5 2 0 69.5 .5 3 0-72.5 0 69.5 .5-5.5 0 12.5 .5-75.5 0 62 0-62.5 .5 4 .5-1.5 .5 4 0-2.5 0 72 0-36 .5 31.5 0-14 .5-59 0 28 .5-21 0 11.5 .5 54.5 .5-4 .5-63 .5 64 0-14.5 0 18 1-8 .5 3 0 6 0-6.5 .5 7.5 0-10.5 1 6 0-30 1 35.5 .5-59.5 0 54.5 0-33.5 .5 37 .5-64 .5 59.5 0-2.5 .5-4.5 .5 3 0-53.5 0 27 1.5-18 0 37.5 .5-4.5 .5-1 .5-33.5 .5 13 0 13.5 .5-1.5 0-4.5 .5-13.5 1 9.5 0 2.5 0-2.5 1.5-15 0 23 0-8 0 7.5 0-5.5 1-15.5 .5 19.5 .5-26 .5 30.5 0-1 0-3 .5 5.5 .5 4 .5-19 .5 16 0-18 .5 15.5 .5-2.5 0-25 .5 22 .5 2 .5 0 0-14 .5 .5 .5 8.5 .5 7 1-10 0 5 1 5 .5-3.5 0-1.5 0-4.5 0 4 .5-5 .5-1.5 .5-3.5 .5-21 .5-11 0 23 0-12 .5-4.5 0 15 .5-29 0 23.5 0 .5 .5-2 0 .5 .5-5.5 0-34 0 25 1 1.5 0-8.5 .5 17.5 0-33 0 16.5 .5 4.5 .5-8.5 0 18 0-18 .5-24 0 31.5 0-10 0 7.5 .5 .5 .5 11 0-39.5 .5 39 0-17 .5-7.5 0 18 .5 7 .5-37 0 52.5 0-2.5 .5-19 0 7 0 16 0-22.5 .5 17.5 1 3 0-8.5 0 8 .5-19 0-17.5 0 23.5 0-1 .5 8.5 .5-41 .5 26 0 12 0-20.5 0 6"/>
<path class="so" d="M836 435.7L836 373.6L838 378.2L840 385.5L842 376.6L844 393.8L846 387.5L848 390.8L850 381.2L852 393.2L854 411L856 424.2L858 422.9L860 422.3L862 419.8L864 424L866 422.5L868 426.3L870 426.5L872 421.8L874 425.3L876 423.4L878 425.1L880 422.2L882 426L884 425.7L886 421.8L888 420.5L890 406.9L892 385.1L894 363.3L896 359.1L898 371.2L900 383.2L902 374.8L904 375L906 374.6L908 372.7L910 375.6L912 371.3L914 371.1L914 435.7Z"/>
<path class="mo" d="M836 369l0-4 1.5-16.5 0 27.5 0-3 .5 7 .5-22.5 0 25.5 .5-28 0 24.5 .5-23 .5 26 1-.5 0-31.5 0 17 0-33.5 .5 47.5 0-6.5 0-35 .5 27 .5-9 0 13 1 6.5 0 8.5 .5 6.5 .5-37 0 36 0-9.5 0-4.5 .5-17 0 21 .5 8 0-.5 1-36 0-18 0 42.5 .5-4 0 18.5 .5-10 0 4 0-8.5 .5 1 .5-9 0-34 .5 48.5 0 1.5 .5-48.5 0 28 0-26.5 0-4.5 0 28.5 0-2 0-3 0 11 0-22.5 0 10 0-21.5 .5 14 0 19 0-14 0 14 0 14.5 0-41.5 .5 10 0 6.5 0-14 .5 26.5 0-30 0 32.5 .5-28 .5 51.5 0-80.5 0 79 .5-13 .5 15 0 7 .5-3 .5 .5 0 13.5 .5-17.5 .5 24 1 3.5 0-1.5 0-.5 1.5-29 0 31.5 0-13.5 .5-5.5 .5-32.5 .5 51 1-35 0 32 .5 1.5 .5-13.5 0-28 .5 39 1-35.5 0 33.5 .5 4 .5-6.5 0 9 .5-47 .5 27.5 .5 20 1-3.5 0-5 0 3 1.5 6 0-4.5 .5 3 .5 4 0-49 .5 43 0 4 .5 2.5 .5-49 1 31.5 .5-23 0 34 .5-4 0 3 .5-16.5 .5 15.5 0-13 .5 4.5 .5 12 1 0 .5-5 0-32 .5 23.5 .5 14 .5-3 0-22.5 1 28.5 .5-6 0-4.5 0 3.5 0 7 .5-23.5 1-11.5 0 31 1 0 .5-11 0-2 1-23 0 40.5 .5-21.5 0 19.5 0-49 1 51 .5-19.5 .5 12.5 .5-2 0 .5 .5-4.5 0 1.5 .5-46 .5 47.5 0 7 .5-2.5 .5-5.5 .5-23.5 .5 2.5 0 16 .5-5 .5-.5 0-7.5 .5-8.5 .5-1.5 .5 10.5 0-34.5 0 8.5 .5-2.5 0 11 1-8.5 0-1.5 0-26.5 .5-13 0 10.5 .5 10 0 6 1-5 0 10.5 .5-18 0 6 1 2.5 0-7 0 4.5 0 8.5 .5 6.5 .5-8.5 .5 2.5 .5 10.5 0-.5 0 3 .5-8 .5-14.5 0 19 0 1.5 0 1.5 1-54 0-36 0-3.5 0-20 0 51 0-25.5 0-13 0 37 0-2.5 0 72 0-75 .5-15 0 3 0 57 0 11.5 0-59.5 0 11.5 0-18.5 0-16 0-13.5 0 51 0 63.5 0-109 .5 52 0-54.5 0 7.5 0 91 0 .5 0-48.5 0-19 0-37 .5-5 0 38.5 0 78.5 .5-25 0 14 0-35 0 37.5 1-20.5 0 16.5 0 13.5 .5-1.5 .5-50.5 .5 36.5 0 2.5 .5 5 0 10.5 .5-5 .5-47.5 0 26 0 12 .5 12 0-17.5 0 13.5 1-23.5 0 10 0 3.5 0 3 1-7 0 5 0 11 .5-6.5 .5-6 .5 4 0-22.5 .5 14.5 0 10 0-11 .5 2 0 1 .5 12.5 0-8 .5 0 0-16.5 0 25 .5-17.5 0-4.5 0 7.5 .5 5 .5-2 0 .5 0 9.5"/>
<path class="sb" d="M914 435.7L914 384L916 388.3L918 383.6L920 375.1L922 386.2L924 393.6L926 385.6L928 380.8L930 383L932 394.5L934 406.4L936 413.4L938 414.3L940 420L942 416.4L944 417.5L946 409.8L948 382.5L950 363.1L952 364L954 378.3L956 371.7L958 380.8L960 372.2L962 378.3L963 435.7Z"/>
<path class="mb" d="M913.5 372.5l.5-20.5 0 19 .5 10 .5-12.5 0 7 0 14 .5-9.5 0 1.5 0 3 0-27 1 31 .5-39 0 35.5 0-34.5 .5 36.5 .5-54 0 45.5 .5-47.5 0 51.5 .5-90 .5 82 0-68.5 1 17 0 55.5 .5 1.5 0-91.5 0 47.5 1-48 0 92 0 6 .5-3 0-91.5 .5 94 0-41 .5-23.5 0 68.5 1-89.5 0 82 0 2 0 4 .5-5 0-24 .5 33.5 .5-64.5 0 56.5 0-7 1-3 0-19 0 15 .5 9.5 0-7.5 .5-47 0 48 .5-32.5 0 43 .5-40.5 0 25.5 0-77.5 .5-2.5 0 84 .5 12 .5-16 0-12 0 32.5 .5-16.5 0-.5 0 8.5 1 17 0-8.5 0-8 .5-64.5 .5 80.5 0 2.5 0-19 .5 10 0 5.5 .5 12 0-45 .5 8 0 39.5 0-5.5 .5-3.5 .5-4 .5 17.5 .5-63 0 10.5 0 4 0-5.5 0-21.5 .5 72 0-3.5 0 10.5 0-63 .5 17 0-23 .5 6 0 3 0-1 0-12.5 0 65 0-55.5 0 0 .5 48 0-16.5 0 29 .5-66 0 22 0-13.5 .5-5.5 0 37.5 0-41 0 71 .5-72.5 .5 32 0-29 0-8 .5 12.5 0 6.5 0 0 0-7 0-4.5 0 31.5 0-41.5 .5 83.5 0-25 0-49 .5 66.5 0-2 0-58 .5-8.5 0 12.5 .5 55 0-1.5 0-3 0-64 .5 67.5 0-67 .5 2.5 0-9 .5 64.5 0-39 0 51.5 0-3.5 .5-9 0-40 .5 45.5 0 11 .5-35 0-32 .5 58 1-25 0 5 0 2.5 0-33.5 0 21.5 0-42 0 43.5 1-16.5 .5-22.5 0 31 .5-41 1 15 0 14 .5-5 0-13.5 0 14.5 1-8.5 0-23 0 21 .5 5 0 4.5 .5 16.5 0-29 .5 19.5 0-11 0 18.5 .5 6 0-81 0 17 .5 43.5 .5 17 0-27 .5 18 0-12.5 .5 2.5 0-2 0-2.5 .5 7 .5-41.5 0 35.5 0 7 0 18 1-4.5 .5-37.5 0 33.5 0-20 0 12.5 .5-3.5 0 12.5 .5 1 0-11 .5-7.5 0-10 0 17 .5 10.5 0 .5 1-26.5 0 26 0-11 .5 10.5 0 10 .5-59 0-19.5 0 63 .5 15.5 0-2.5 .5-17"/>
<path class="so" d="M962 435.7L962 351.2L964 347.9L966 349.5L968 353.3L970 347.8L972 351.3L974 358.9L976 367.7L978 364.4L980 362.4L982 368.3L984 406.1L986 426.1L988 429.8L990 428.5L992 426.3L994 426.1L996 429L998 427.1L1000 430.7L1002 431.4L1004 430.6L1006 428.9L1008 422.8L1010 408.8L1012 398.2L1014 393.5L1016 397.4L1018 391.1L1020 394.8L1022 389.1L1024 400.7L1026 389.6L1026 435.7Z"/>
<path class="mo" d="M962 347.5l.5-5 0-61.5 0 56 .5 8.5 0 3.5 1-1.5 0-8.5 0-39.5 .5 49 .5 1 0-29.5 .5 14.5 1 15.5 0 0 0-5 .5-41.5 .5-15.5 0 56.5 .5 9 0-3 1-3.5 0-6 .5-7.5 0-51.5 .5 67.5 .5-39 .5 31 0 11.5 .5-45 0 33 .5 5 0 3 .5-26.5 0 9.5 0 16 1 10 .5-15 0 3 0 16 0-12.5 0-33 .5 31 .5 14.5 0 2 .5-24.5 0 2 .5 23.5 .5 .5 0-13.5 .5 13.5 0-16.5 0-23.5 .5 2 0 37 .5-12 0-67 .5 67.5 0-13.5 0 12.5 .5-68.5 0 35 0 38.5 .5-5 0-5 1-58.5 0 69.5 .5-32.5 0 24 0-1 0 3 .5 6.5 0 13.5 0-74 .5 54.5 .5 33 .5-43.5 .5 37.5 .5-49.5 0 31 .5 47 0-7 .5 8.5 0-53.5 0 1.5 .5 5 0-11 0 73.5 0-15 .5-63.5 0 11.5 0-12 .5 14.5 0 65.5 0-62.5 .5 12 0-27.5 0 62 .5-57 .5 80.5 0-71.5 0 .5 0-15.5 .5 6 0 6.5 0-13.5 0 15.5 0 64.5 0-68.5 0 73.5 0-44.5 0-36 0 9.5 .5-14.5 .5 4 0 4 .5 1.5 0 72.5 0-36 0-45.5 0 3.5 .5 8.5 0 5.5 0-13.5 0-2 0 79.5 .5-81.5 .5 78 0-67 .5-4.5 0-2.5 0-2.5 0 8 0-2.5 0-2.5 0 69 .5 7.5 0-.5 .5-60.5 .5 58 .5-52 0-17.5 0 1.5 .5-4 0 67 0 8.5 .5-75.5 0-2.5 .5 7.5 0-4 .5 25.5 0 51 .5-28.5 .5 26 .5 1.5 1-.5 .5 1.5 0-9 2 13 .5-13 0 9.5 1.5 2 1-.5 2-7.5 0 9 .5 .5 1.5-10.5 .5-11.5 0 6.5 1-15 0 2 1.5-9 0-32.5 0 27 .5 9.5 .5-5 .5-3 0-3 0 2.5 .5-13.5 0 8.5 1-15.5 0 5 0 7 .5-1 .5 3 0-.5 0 0 0-88 0-2.5 .5 24.5 0 11 0-82 0 127.5 0 6 0-145.5 0 124.5 0-28.5 0 60 0-5 0-3 0-41.5 0 35.5 0-92 0 13 0-59 0 131 0-100.5 0 94 0-50 0-58.5 0 135.5 0-38.5 .5-45 0 58.5 0-116.5 0 9 0 114 0-23.5 0-74 0 41.5 0-28.5 0 13 0 33 0 33.5 0-27.5 0 14.5 0-117 0 53.5 0 58.5 0 7.5 0-19.5 0 24 0-59 0-19 0 38 0-69.5 .5 15 0 57.5 0 3 0-63.5 0 41.5 0-28 0 94.5 0-130.5 0 106 0-67.5 0 118 0-86 0-2.5 0-65 0 143.5 0-127.5 .5 84.5 0-63 0-9.5 .5 90.5 0 23 1.5-58.5 0 45.5 0 13 0-.5 0-7 1 12 0-25 .5 21.5 .5 8.5 0-1.5 .5-59.5 1 51 0-38 0 43 .5 4 .5-44 .5 46 .5-5.5 0 4.5 0-5 1 1.5 0-31 .5 14.5 0 8 0 2.5"/>
<path class="sb" d="M1025 435.7L1025 394.5L1027 387.6L1029 399L1031 391.8L1033 398.9L1035 395.8L1037 393.3L1039 389.2L1041 380.1L1043 377L1045 373.4L1047 380.7L1049 362.3L1051 373.4L1053 373.4L1055 376.5L1057 375.9L1059 370.6L1061 361.6L1063 368.4L1065 362.4L1067 351.8L1069 363L1071 368.9L1073 372.4L1075 363.9L1077 373.1L1079 376.2L1081 360.8L1083 363L1085 359.7L1087 355.5L1089 357.9L1089 435.7Z"/>
<path class="mb" d="M1025 376l0 16.5 .5-7 1-19 0 20 1-1.5 0-10 0 20.5 .5-19 0 4 1 15 0 5.5 .5-31 .5 21.5 0-6.5 0 1.5 .5-5.5 0 12 0-12.5 1-20.5 0 25 .5 0 0-4 0 2 1 17 0 1 .5-15 0-13 .5 12 0-7 0 7.5 .5-17.5 0 15.5 0 11.5 .5-4 .5-10 .5-15.5 .5 16.5 0-2 1 0 0-1 .5 6.5 0-3 .5 2 0-10 .5 13 .5-8.5 0 1 0-4.5 .5 8.5 .5-12 0 2.5 1 9.5 0-17 1 5.5 0-1 0-4.5 .5 2 .5 10.5 .5-26 0 23.5 0-2 .5-15.5 .5 .5 0 9 0-26.5 .5 2.5 0 17 .5-2.5 0 8 .5-32.5 .5 18.5 0 19 0 4.5 .5-12 0-19 0 16 1-10 .5 14 0-8 1 3 .5 .5 0-6 .5 19 0-2 .5-33.5 .5-3 0 30 .5 5 0 4 0-21.5 .5-67 0 11 0 3.5 .5 65.5 0 4 .5-30 0 23 .5 5 0-2 .5-.5 .5-1.5 0 6.5 0-28.5 0 32.5 .5-15.5 1 18.5 0-15 0-15 1 28 0-7.5 0-19.5 .5 17 .5-6.5 0-12.5 0 1.5 .5 12.5 0-3 0-15 0 20 1-22 0 8 .5 3 .5 12 .5 2 0-30.5 .5-10.5 0 29.5 0-14.5 0 28 .5-2.5 .5 2 0-.5 .5-14 .5 4.5 0-4.5 .5 9 0-15 .5-24.5 .5-2.5 0 5 0 34.5 .5-13.5 0 0 0 4.5 0-8.5 1-32.5 0 17 0-1 .5 30 .5-6 0-5.5 0-9.5 .5 25.5 .5-21 0 25 .5 2 .5-13.5 0 15 .5-32 1 28.5 0 8.5 .5-25 0 13 0 2.5 .5-6 0 .5 0-24 .5-.5 .5 19 0-2 0 11.5 .5 5.5 0-21 .5 2 0-3.5 .5-21 0 34 0-3.5 .5-26.5 0 40 .5-2 .5-11 .5 16 0-11 0-1.5 0 18 0-23 .5 14.5 .5-10.5 0 2 .5 13.5 0 2 .5-19 .5 0 0-2.5 0 17 .5-17 .5-8.5 0 .5 0 12.5 0-15.5 .5-8.5 .5-19 .5 40.5 0 4 0-27.5 .5 28.5 0-16 0 8.5 0 10 .5-.5 .5-38 .5 27 0-5 0-23.5 .5 33 0-.5 .5-14.5 .5-9.5 0 11 0 15.5 .5-.5 0 1 .5-14 .5-4 .5 4 0 5 0-9.5 .5 2.5 .5 9 .5 3 0-24.5 0 28.5"/>
<path class="so" d="M1088 435.7L1088 369.5L1090 379.2L1092 363.2L1094 364.2L1096 371.3L1098 384.5L1100 382.1L1102 378.6L1104 367.7L1106 380.3L1108 376.3L1110 375.6L1112 379L1114 386.4L1116 402.2L1118 428.7L1120 428.9L1122 428.4L1124 428.3L1126 426.8L1128 423.4L1130 423.2L1132 427.1L1134 426.2L1136 425.2L1138 424.7L1140 425.4L1142 426L1144 424.9L1146 423.4L1148 427.3L1150 414.5L1152 401.8L1154 378.1L1156 376.4L1158 379.5L1160 385L1162 371.1L1164 366.5L1166 371L1166 435.7Z"/>
<path class="mo" d="M1087.5 353.5l0 17 .5-20 .5 18 0-39.5 .5 49 0-18 1-43 0 3.5 .5 55.5 0 6 1-10 0-8 0-41 .5 40.5 0-49.5 .5 25 0 17 .5-5 .5 4.5 .5-28.5 0 31.5 0 3 .5-32.5 .5 22.5 0 3 0 1.5 .5-47 0 53.5 0 12.5 0-12.5 .5-8.5 .5 7.5 .5-1 0-37.5 0 48.5 .5 .5 .5-25.5 .5 41.5 0-16 0-.5 .5 0 0-45 .5 45 .5 3.5 0-6 0-34.5 .5 44.5 .5-5.5 0-39 0 41 1 6.5 0-30 .5 25 .5-13.5 .5 11.5 0-63 0 24.5 0 31.5 .5-.5 1 6.5 0-63 0 52 0-17 1 24 0 13.5 0-25.5 .5 18 0-.5 0-3.5 1-52 0 50 0 3.5 0 5.5 0-36.5 .5-5.5 1-14.5 .5 39 0 4 0 12 0-22 0-10 .5 23.5 .5-6 .5 12.5 .5 .5 0-41 0 46 0-19 1.5-41.5 0 47 0 3.5 .5-57 .5 67 0 3.5 0-17.5 1 21 0-5.5 0 8 .5-30 .5 40.5 0 4.5 .5-28.5 .5 30.5 .5 8.5 .5-19.5 0 22 0 13.5 .5-.5 .5-32.5 .5 27.5 .5 5 .5-8 0-61 .5 65 1.5 4.5 0-7 0 2.5 1-6.5 0-51 .5 2 0 57.5 .5-71.5 0 73.5 .5-13 1-60 .5 67.5 0-44 1 43.5 .5-38 .5 24.5 0 13.5 1-6.5 0 8 1-35 0 29.5 0 4.5 .5-50.5 .5-30.5 .5 81 .5-36 .5 24.5 .5 10.5 0-77 0 80.5 .5-16 1-17 0-26 .5 56.5 0 3 .5-17.5 .5-35.5 .5 53 .5-29 1 21.5 0-8.5 0-41.5 .5 55 1-39 0 37.5 0-53.5 1 52.5 .5 5.5 0-51 .5 47.5 1 1 0-6 .5-1 0 5.5 .5-78 .5 74.5 1-10 0-8.5 1 15.5 0 5 .5-18 0 22.5 1-5 0-2.5 .5 8 .5-1 .5-44.5 .5-1 0 18.5 0 11 .5-7.5 .5-6.5 1 0 0 2.5 .5-38.5 0 4.5 .5 20 .5-5 0-2 .5-27.5 .5 25.5 .5-6 0-.5 0-2.5 .5-20 .5 26 .5-44.5 .5 47.5 0-96.5 .5 19.5 0 18 0-7 0-23 0 15 0-20.5 0 41 0-8.5 0 63 .5-69 0 58 0-46 0-8 0 63.5 0-2.5 0-88 0 20 0-14.5 .5-1.5 0 4.5 0 82 0 8.5 0-107.5 0 20.5 1 77 0-44 1 51.5 .5-24.5 0 18 .5 2.5 0-12 1-1.5 0 6.5 .5-45 0 29.5 .5 5 0-24.5 0 31.5 .5-.5 .5-37 .5 30.5 .5 8.5 0-4 .5-8 .5 13"/>
<path class="sb" d="M1166 435.7L1166 388.7L1168 388.3L1170 404.2L1172 396.3L1174 391.9L1176 395.5L1178 386.8L1180 389.4L1182 394.5L1184 390L1186 385.5L1188 399.7L1190 405.9L1192 401.9L1194 384.9L1196 401.1L1198 395.3L1200 393.6L1202 389.6L1204 391.3L1206 399.8L1208 390.4L1210 393.8L1212 391.4L1214 394.9L1216 395.6L1218 396.2L1220 396.4L1222 401.7L1224 398.5L1226 396.1L1228 390L1230 393.4L1232 377.9L1234 376.1L1236 377.7L1238 381.7L1239 435.7Z"/>
<path class="mb" d="M1166 282l0 103.5 0-9 1 16 .5-57.5 0 6 .5 44 0-3.5 .5-12.5 .5 16 .5 11.5 .5 11.5 0-1 .5-37 0 30 1-6.5 0-14.5 0-14 .5 34.5 0-6.5 .5-50.5 .5 18 .5 34 0-9 .5 5 0-10 .5 8 .5-13.5 .5 16 .5-31.5 0 32 0-39.5 1 30 .5 5.5 0-5 0 7 .5-51 0 29 1 18 0-33.5 .5 1.5 .5 32.5 0-65 .5 53.5 0 14 1-12.5 0 14.5 0-3.5 1 11 0-50.5 0 38 .5-23.5 0-11.5 1 33.5 .5-29 0 29 0 1 1-16.5 0 11.5 1 5 0-4.5 .5 6 0 8 0-28.5 .5-17.5 .5 50 0-12 .5 13 0-33.5 .5 37 1-54 0 52.5 0 2 .5 1 0-50 .5 40 0 9 0-33.5 .5 26 .5-7.5 0 7.5 0-3.5 1-7.5 0 5.5 0 5 0-47.5 .5 24 0 10 .5 3 .5-30.5 0 34.5 0-24 .5 18.5 .5 12 0 2.5 .5-11 .5 0 0 12 .5-8.5 0 4 .5-8.5 0 9 0-23.5 .5 13.5 0-11 .5 15 .5-13 0-26.5 0 46 .5-3 0-8 .5-2 0 11 .5-20.5 0-6 0 15 .5 .5 .5 2 0-28.5 .5-6.5 0 33 0-12.5 .5 11 0-.5 .5 2 0-17.5 .5-17 .5 19 0-14 0 31 0-8 .5 10.5 0-1.5 .5 8.5 0-2.5 0-36 .5 37 0 1 .5-38 0 36.5 .5-6.5 .5-20 0-1 0 32.5 .5-3 0-35.5 .5 10 0 17.5 .5-11.5 0 5.5 0 1.5 .5-35.5 0 41.5 .5-11 0 8.5 .5-2 0-9.5 0 21.5 .5-11.5 .5-5.5 0-3.5 .5 9.5 .5-19.5 0 21.5 0-36.5 0 30 0 .5 1 9 0-23.5 0 16 .5-5 0 2 .5-28 0 28.5 0 13.5 0-5.5 .5-19.5 0 15.5 .5 11 .5-4 .5-3.5 0-2.5 0 4.5 .5-11.5 0 17 0-4.5 .5-5.5 0-9 0-.5 .5 14 0 .5 0-.5 .5 2.5 .5 .5 .5-4 0-42 0 52 .5-16 0-1.5 .5 5.5 .5-5.5 0 15 0-15.5 .5 12 0-.5 0-1.5 .5 4.5 0 .5 1-20 0 21 0-16 0-2.5 .5 15 0-5.5 .5 7.5 0-14.5 .5 13 0 1.5 .5-9.5 0-38.5 .5 38 0-16.5 .5 27.5 .5-2.5 0 1.5 .5-1 0 .5 .5-6.5 0-.5 0 5 .5-15.5 .5 4.5 0 5 .5-29 0 20 0 10.5 0-40.5 1 36 .5 8 0-15 0 14 .5-9.5 0 7.5 0-11.5 0 11 .5-10.5 .5-25.5 .5 18 .5 1 0-4.5 .5 8 .5-26.5 0 28.5 .5-19.5 0 3.5 0 11.5 0-6.5 .5-2.5 0-21.5 0 18.5 .5 12.5 0-10.5 .5 19 .5-8.5 0-12.5 1 19.5 0-3 .5-7 0 0 .5 5.5 .5-9.5 0 10.5 .5 3 0-7.5 .5 .5"/>
<path class="so" d="M1238 435.7L1238 361.8L1240 369.1L1242 376.3L1244 365.9L1246 371.2L1248 373.9L1250 368L1252 362.5L1254 369L1256 379.9L1258 372.6L1260 376.9L1262 395.1L1264 414.5L1266 415.7L1268 414.9L1270 418.7L1272 415.5L1274 414.6L1276 407.7L1278 382.8L1280 360.9L1282 366.8L1284 362.8L1286 360.7L1288 355.5L1290 354.3L1292 361.4L1294 358.5L1296 370.9L1298 355.5L1298 435.7Z"/>
<path class="mo" d="M1237.5 364.5l.5-33.5 .5 26.5 .5 0 0 5 .5-4.5 0 10.5 .5-16.5 0 14 .5 2 .5-43.5 .5 50.5 0 1 .5-30 .5 12.5 0-52 1 53 0-8 0 4.5 .5 13.5 .5-64.5 0 42 0 18 .5-6.5 0-3.5 .5-42 0 40.5 .5 6 0-23 .5 5.5 0 12 0 17 0-55 0-14 0-7.5 0 13.5 0-23 0 74 .5-48.5 0-6 0-13 0-14.5 0 94 0-37 0-34 .5 0 0-3 0 17 0 9 0 9 0-21 0 28 0-21 0-35 0-3 0 8 0 60.5 0-74 0 46.5 0 26 0-75 .5 93.5 0-36 0-3 0 38.5 .5-56.5 1 56.5 .5-2 0-48 .5 56 0-8 0-11.5 .5 12 .5-10.5 0-30 .5 42 0-5.5 .5-2 .5-3 0-48.5 .5 28.5 .5 35.5 0-14.5 .5-15.5 0 31.5 .5 4 0-38.5 .5 35.5 0-22 0 30.5 0-12.5 .5-25 1-1 0 22.5 .5-1 0-2.5 .5 5.5 .5-5 0-48 0 47.5 .5-.5 0 3.5 .5-22.5 .5-1 0 38 0-10.5 0-17.5 .5 27 .5-46 1 28 0 30.5 .5 6 .5-5 0 8 .5 11.5 0 1 1-2.5 0-27.5 1 30.5 0-17.5 .5 15 .5-84.5 0 92 0-17 0 14 .5-3.5 .5-2 .5 0 1 2 0 7 0 1 .5-21.5 .5 19.5 1-17 0 10.5 .5 5.5 .5 1.5 .5-17 0-1 .5 13.5 .5-3.5 0-23.5 .5 29.5 .5 0 0-5 .5 9 1-39.5 .5 22.5 0 8 0-27.5 .5 17 .5-34 .5 20.5 0-9.5 .5-8.5 0-23.5 .5 26 0-22 .5 9 .5-5.5 .5-2 0-26.5 0 32 .5 11 0-49 1 39.5 0-3 0 3 .5-.5 0-35.5 1-61.5 0 99.5 0-68 0-37.5 0 27 0-38 0 40.5 0-43.5 0 18.5 0-2.5 0 67 .5-56.5 0 9 0 67 0-73 0 16 0-22.5 0 83.5 0-58 0-10.5 0 81.5 0-87.5 .5 83 0-118 0 13.5 0 43 0-48.5 0 51 0 43 0-91.5 .5 52 0 38 0 14.5 .5 2.5 .5-19 0 27 0-16 0-5.5 0 1 .5-20 0 15 0-9 0 17 .5 8 1-24 0 20.5 0 1 .5 1.5 0-7 .5-9.5 0 1 0 18.5 .5-4.5 0-8 .5-1 0-4 0 6.5 .5-44 0 58 .5-16 0 1 .5-12.5 .5 33 0-26.5 0 11 0 15 1-45 0 34.5 0-6 .5 7.5 0-13 0 14.5 .5-16 .5 17 0-7.5 .5-6 0 17.5 0-9.5 .5-4 0 6.5 .5 4.5 0-1 1-5.5 0-2.5 0-6 .5 15 0-21 .5 2 0-1.5 0-2.5"/>
<path class="sb" d="M1298 435.7L1298 369L1300 357.2L1302 356.4L1304 362L1306 371.8L1308 360.7L1310 359.9L1312 365.7L1314 364.9L1316 368.5L1318 368.9L1320 366.7L1322 364.3L1324 364.1L1326 372.5L1328 361.9L1330 361.3L1332 365.3L1334 367.3L1336 370.7L1338 367.8L1340 362.4L1342 360.8L1344 366.6L1346 368.9L1348 360.9L1350 351.9L1352 343.6L1354 339.9L1355 435.7Z"/>
<ellipse cx="1331" cy="398" rx="12" ry="26" fill="#fff"/>
<path class="mb" d="M1298 355.5l0 4.5 .5-7 .5-46.5 0 42 0 6.5 .5-6.5 0-4 0-13 .5-9.5 0-21 0 35.5 .5-65 0 11.5 0 13 0 8 0 52.5 0-58.5 0 17.5 0 17 0 24 0-68 .5 50.5 0-48.5 0 20 0 19.5 0-61 0 50 0 2.5 0-14 0-41.5 0 12 0 2.5 .5 71.5 0-65.5 0 37 0 11 0 13 0-54 0-19 0 52 0-63.5 .5 50 0 30 .5 12 .5-28 0 31 0-43 0 36.5 .5 12.5 .5-5.5 .5-48 0 45 0-.5 .5 10 0-38.5 .5 9 0 6.5 0 16.5 .5-52.5 0 14 0 48 0-50.5 0-2.5 0 22.5 .5-25.5 0 19 0-2 0 35 0-30.5 0 6.5 0-17 .5-14 0 33.5 .5 15.5 0 1.5 .5-9 0-28.5 0 37 .5-6 0 8.5 .5-12 1 11.5 0-.5 0-14 .5-13.5 .5 20 .5 13.5 0-2 .5-4.5 0-30.5 .5 14 .5-37.5 0 60.5 0-11.5 1-16.5 .5 20 0 9 0-12 0 13 .5-1.5 0-9 .5 5.5 .5-32.5 .5 39 .5-29 0 19 0-5.5 .5-22.5 .5 34 .5-17 0 18.5 0-3.5 0 38 0-43 .5-20 0 72.5 0-47 .5-10.5 0 12.5 0-14 .5-2.5 .5 9.5 0 63.5 0-70.5 .5-1 0 3 0-6.5 0 2.5 .5 0 0 37.5 0-20.5 0-12.5 0-15 0 13 0 9 .5-7.5 0-4 0-4 0 41 .5-39.5 0 2 0 63 0-58.5 0-8 .5 6 0 11.5 0-8 0-11 .5 1.5 0 20.5 .5 0 0-1.5 0-20 0 1.5 0 8 0-2.5 0-7 0 2 .5 1.5 0 44 0-40.5 0 19 .5-20.5 0 4 0 3.5 .5-4 0-9 0 38.5 0-37.5 0 9.5 .5 15 0-16 0-8 0 0 .5 30.5 0-16.5 .5-12 0 0 0 4 0 9.5 0-12.5 .5 .5 0 56.5 0-60.5 0 12 .5-4.5 .5 41 0-42.5 0 39.5 0-44.5 .5-.5 0-6 .5 22 0-16 0 58 0-52 0-7.5 0 3.5 .5 7 0 7.5 0-4.5 .5-15.5 .5 17 0-7.5 0 60.5 0-60.5 .5-3.5 0-2.5 0 6 .5 15.5 0 40 .5-52 0-3 0-1.5 .5 65.5 0-48 0-8.5 0-14.5 0 9.5 .5-10.5 0 .5 0 9 .5-2 0 5.5 0-8 .5 15.5 0 33.5 0-36 0-14.5 0 71.5 .5-67 0 13.5 .5-14.5 0-2 .5 72.5 0-75 0-2 .5 18 0 .5 0-7.5 0-11.5 0 14 0-5 .5-2.5 0 40.5 0-40.5 0-11 .5 13 0 8 .5 14.5 0-21.5 0 32 0-35 .5 4.5 0-3 .5-3 .5 28.5 0-35 0 9.5 0 7.5 .5-13.5 0 59.5 0-40.5 0-18.5 .5 6 0-8 .5 6 0-.5 0 1.5 0 56 0-54 .5-.5 0-8.5 0 1 0 74.5 .5-70.5 0 3.5 0 2.5 .5 0 0 1.5 .5-5 0 11 .5 21.5 0 15 .5-38 0-21.5 .5 14.5 .5-11.5 0 20 0-38 .5 36 0-6.5 .5-38.5 0 50.5 0 4.5 .5-22.5 0-38 .5 51 .5-4.5 0-48.5 0 37.5 0-17 .5 27 .5-11.5 0-46 1 42 0-25 0 35.5 0-46 0 42 1-9.5 0 7 .5-19.5 .5 24 0-5.5 0-7.5 .5-9 0-10.5 0 28 1-15 0 14.5 .5-3 .5-17.5 .5 8.5 0-29 0 31 0-22 .5 31"/>
<path class="so" d="M1355 435.7L1355 390.2L1357 393L1359 375.9L1361 375.1L1363 386.6L1365 381.2L1367 380.8L1369 384.5L1371 382.5L1373 398.7L1375 414.7L1377 420.2L1379 422L1381 417.8L1383 421.1L1385 418L1387 420.1L1389 422.5L1391 419.7L1393 425.4L1395 419L1397 424.7L1399 424.6L1401 420.6L1403 423.6L1405 422.7L1407 420.6L1409 419.2L1411 401.1L1413 389.7L1415 400.8L1417 394.6L1419 384.9L1421 394.3L1423 387.7L1425 382L1427 373.5L1429 367.9L1431 382.2L1433 370.7L1435 367.6L1437 357.8L1439 363.3L1441 368.8L1443 380.7L1443 435.7Z"/>
<path class="mo" d="M1355 390.5l0-42.5 .5 4.5 .5 42.5 0-5.5 1 1 0-1.5 0-8 .5 0 0-62 0 68.5 1-69.5 0 55 1-2.5 0 8 0-17.5 .5 4 1 9.5 0-3.5 .5-2.5 .5-27.5 0 44 .5-29 .5 20 0 11.5 .5-4 .5-2.5 .5-17 0 8 .5 1 .5 1 0-24.5 0 23.5 .5-32 0 44 1-14.5 .5-32.5 0 6.5 0 26.5 0 .5 1-47 0 55.5 .5-38 0 40.5 1-34.5 0 34.5 0-12.5 .5 17 0-38.5 .5 36 1-8.5 .5 12.5 0-10.5 0 5.5 .5 14 0-34 1 42.5 0-4.5 .5-23.5 0 26.5 .5 10 0-7 1 14.5 .5-54 0 49.5 1-22.5 0-27 .5 51 .5-54 1 58.5 0-5 .5 3 0-23 1 22 0-24 1 28.5 .5-48.5 0-14.5 0 63 .5-6.5 .5 3 1-13 0 7 .5-29.5 1 36 .5-30.5 0 30 1-18 0-15.5 .5 37 0-35 .5 28 .5 5.5 .5-62.5 .5 59.5 0-1.5 1 .5 .5-29 .5 29 0-39 1 48.5 .5-10 0 4 .5-24 0 12 .5 5 .5 5 1-20.5 0 25 .5-46.5 0 48 1.5-5 0-.5 0-6 .5-55.5 0 64 .5 2.5 .5-6 .5 4 0-18.5 1-1 .5 18 0-19.5 .5-1 0 18.5 .5-1 .5 6 .5-7.5 1 6.5 0-5 .5-1.5 1-53.5 0 56.5 .5-30.5 0 26 .5-.5 .5-1 0-6 1 9.5 .5-35 0 33 .5-7 1-12 0 5.5 0-36 0 34.5 .5-14.5 .5-37.5 .5 36.5 0 7.5 .5-25 0 12.5 0-4 .5-16 0 20 0 8.5 .5-31.5 0 37 .5-4 .5-26.5 .5 7.5 0 18.5 .5-5.5 0 10.5 0-6 .5 9.5 0-12 .5-16.5 0 23.5 .5-17 1 12 0-1.5 0-33.5 .5 4.5 0 15 0-20.5 .5 26 .5-.5 0 6 .5-5.5 0-26.5 1.5 39 0-15.5 .5-23 0 30 .5 4 0 1.5 .5-11 0-28 0 36 1 .5 0-4 .5-14.5 0-22 .5 36.5 .5-1 0-5.5 .5-34 0 27.5 .5-34.5 0 30 0-6 .5-62 0 31.5 .5 45.5 0-11 .5 7.5 0-17.5 1-21.5 0 22.5 0 1.5 0-31.5 .5 27.5 .5 5.5 0 13.5 .5-5.5 0-18.5 0-40 .5 51.5 0 21.5 0-8 .5 5 0 2.5 0-18.5 .5 .5 .5 10 0 3.5 .5-6 .5-63.5 0 53 .5 14.5 0-49.5 .5 42 .5 4 .5-17.5 .5-79.5 0 51 .5 33 0-43 0 38 .5-20.5 0 24.5 1-12 0 12.5 .5-4 0 4.5 0-2 .5-1.5 0 1 1 1 .5 5.5 0-2 0 14.5 .5-48 .5 16.5 0 25 .5 5.5 .5-9 0 10 0-10 0 4.5 .5 3 .5 12.5"/>
<path class="sb" d="M1443 435.7L1443 377L1445 376L1447 380L1449 386.5L1451 369.1L1453 376.1L1455 391.8L1457 402.2L1459 400.5L1461 402.7L1463 406.6L1465 404.8L1467 407.5L1469 407.8L1471 400.3L1473 411.3L1475 403.9L1477 406.6L1479 408.4L1481 404.7L1483 410.1L1485 406.1L1487 399.8L1489 376.2L1491 372L1493 380.6L1495 373.6L1497 384.3L1499 382.2L1501 385.9L1503 378.5L1505 384.9L1507 379.6L1509 379.4L1511 379.9L1513 381.2L1515 385.4L1516 435.7Z"/>
<ellipse cx="1470.5" cy="417" rx="15.5" ry="7" fill="#fff"/>
<path class="mb" d="M1442.5 359l.5 21.5 .5-25 .5 12 0 13.5 .5-7.5 0 1 .5-8.5 .5-6.5 0 3 .5 6 0 6.5 .5-18 0 12 0-29 .5 14 .5 27.5 0-3.5 0-8.5 .5 1 0 5 .5-3 0-3 1 8.5 0-6 0-13 1 18 0-27.5 .5 13 0 .5 .5 7.5 0-8 .5-4.5 1 11.5 0-3 .5 2.5 0 6.5 .5 10 .5-1.5 0-.5 .5-4 .5 3.5 .5 14.5 0 4.5 .5-8 0 9 0 .5 .5-.5 .5-5.5 0 6 0 0 .5 0 0-13.5 0 24 0-14.5 .5 4.5 0-4 0-1 0 2 .5-2.5 .5 5.5 0-2 0-2.5 0-1.5 0 7 0-7 .5 2.5 0 .5 .5-.5 0 4.5 0-4 0 18 0-17.5 0 1 0-1.5 0 3.5 .5-3 0 0 .5-8 .5 5.5 .5 6 0-7.5 .5 5.5 0-1 .5-2.5 0-6.5 0 6 0-2.5 1 2 0 5 0-4 .5 2.5 0-3 0 17.5 0-16 .5 1 .5-2 0 7 0-9 0 8.5 .5-14.5 0 10.5 .5 0 .5 17 0-15.5 1-3.5 0 11.5 0-13.5 .5 4.5 0 6.5 .5-12 1 5.5 0 9 0-12 0 2.5 .5-4 .5 2 .5 3.5 0-3 0-2.5 0-.5 .5 8 0-2.5 0-4 .5 11 0-2 .5-8 0 .5 .5 2 .5-4 0 6 0-2.5 0-8.5 .5 5.5 0-2 0 2.5 0 4 .5-3.5 0-2 0-1 .5 2.5 0 0 .5-2.5 0 1.5 0 4 .5 .5 0 7 .5-6 0-6 0 1.5 .5-1 0 6.5 .5 0 .5 .5 0-5.5 0-2.5 .5 5.5 .5-2 0-2 1-1 0 1 0-1.5 .5 8 0 .5 .5-.5 0-5 0-.5 .5 5 0-2 .5 4.5 0-8 0 3.5 0 5.5 0-5.5 0 1.5 0-3.5 .5 2.5 0 2 .5-3 0 10.5 0-7 .5-2.5 0 7 0-4 0-6.5 .5-3 .5 9 .5-5 .5 11.5 0-26.5 0 17.5 0-22.5 .5 5.5 0 26.5 .5-18 0-3 .5-4 0-23.5 0 13 1-11 0 13.5 0-9 1-8.5 0 12 .5-16 0-40 .5 45.5 0-6 .5 9.5 0-2 .5 10 .5-25 0 23 0-3.5 .5-9.5 .5 22.5 0-16.5 .5 1.5 1 4.5 0-6.5 0-29.5 .5 39 .5-41.5 0 35 0-15 .5-47.5 0 56 0-22 0-30 0-6.5 0 27 .5 14 0 35.5 0-23.5 0-28.5 0 14 0-6.5 0-19 0 5 0 16.5 0-18.5 0 5 .5 23 0 34 0-49 0-12 0-8.5 0 38.5 .5-36.5 0-6 0 71 0-17.5 0-8.5 .5 27.5 0-11 0 10.5 1-11.5 0 2.5 .5 12.5 0-58.5 .5 50.5 0 11.5 .5-16.5 0 13.5 0-59 .5 48 0 6 0-15.5 .5 20.5 1-19.5 0 2 0-7.5 0-.5 0 15.5 1-29.5 0 35.5 0 2 .5-7.5 0 11 0-17 .5-11 0 28 .5-41 .5 19.5 0 10.5 .5-7.5 .5-26 0 27 0 2.5 0 4.5 .5-70.5 0-16.5 0 82.5 .5-51 0 60.5 0-26 0-32.5 0 7.5 .5 24.5 0-47 0 28 0 23.5 0-38.5 0 22 0-28 0 23.5 0 18 0-16 .5-15 0 20.5 0 26 .5-11 0-42.5 0 33 0 27.5 0-66.5 0 64 0-70.5 0 43 0-21 0 5.5 0-24 1 71 0-7 .5-20.5 0 26 .5-6.5 .5-58 0 61.5 0 9.5 .5-76 0 70 .5-35 0 35 .5 .5 0-2.5 .5-37.5 1 43 0-67 0 69.5 .5-4 0 2.5 .5-62.5 .5 2.5 0 61.5"/>
<path class="so" d="M1515 435.7L1515 390.2L1517 376.1L1519 381.7L1521 382.2L1523 377.3L1525 395.8L1527 414.8L1529 425.9L1531 426.9L1533 429.9L1535 427L1537 426.7L1539 428.6L1541 426.9L1543 426.8L1545 425.4L1547 425.7L1549 429.1L1551 427.1L1553 428.6L1555 429.9L1557 425.4L1559 429L1561 429.4L1563 396.7L1565 363L1567 339.5L1569 340L1571 341.9L1573 346.8L1575 364.7L1577 373.4L1579 396.7L1581 401.2L1583 404.1L1585 403.9L1587 395.1L1589 398.8L1589 435.7Z"/>
<path class="mo" d="M1514.5 391l0-16.5 0 9 1-10 0-39 .5 44.5 .5-15 .5 10.5 0-10.5 0 2.5 .5 3 0 5 0 7.5 .5-51 .5 9 .5-31.5 0 66.5 1 4.5 0-24.5 .5 17 0 4 0 1 0-4 .5 4 .5 0 .5-35.5 .5 9.5 0 18.5 .5 3.5 0-2 .5-7 .5 16.5 0-1.5 .5-37.5 0 25 0 26.5 0-11.5 1.5 18 0 3.5 .5 0 .5 .5 .5 9 0 10 1-20 .5-1.5 0 24 1-2.5 0 4 .5-61.5 .5 14 .5 50 0 1.5 .5-41.5 1.5 39 0 5 0-73 .5 10 0 57.5 1-1.5 0-2.5 1-24 0 26 1.5 4 0-12 .5 10 .5-39 0 41.5 .5-49 0 29 .5 9 1 8 1-2.5 0 1 1-48.5 .5 41.5 0 9 .5-2 .5-27.5 1 26.5 .5-9 0 9.5 .5-7.5 0-104 1 110.5 0-4.5 0-29 1 38.5 .5-58.5 .5-5.5 .5 64.5 .5-30.5 .5 30 0-28 .5 28.5 0-11 0-18.5 .5 1.5 0 5.5 0 22.5 .5-48.5 0 16 0 10.5 .5-2 0 1.5 .5-9.5 0 11.5 0-12 .5 13.5 0-19.5 0 6.5 .5 13.5 .5 17 0-26 .5-1 0-28.5 0 60.5 0-30.5 .5-6 0 7.5 0-6.5 0 .5 0 10.5 0-.5 0 16 0-14 .5-1 0 19.5 .5-30 .5 3.5 0-33.5 .5 32.5 0 23.5 .5-28.5 0 7 0 23 0-23.5 .5-4 0 25 0-13.5 0-10 0 10 .5 21.5 0-30 0-4.5 0 .5 0 7.5 0 16.5 0-11.5 .5-11 0 1 0 8 0-9 .5 16.5 .5-15 0 21.5 .5-17 0 25 .5-19.5 .5-43 0 43.5 0 6.5 .5-23.5 .5-24 0 25 .5-25.5 0-52.5 .5 61 .5-19.5 0-44.5 .5 47.5 0 2.5 1-70.5 0 49.5 0-6.5 0-8 1 4 0-69 .5 8.5 0-8 0 77 0-33.5 0-30.5 0 7.5 0 19 0-21.5 0 48.5 0-32.5 0-20 .5-3 0 21.5 0 20.5 0-28.5 0 44 0-10 0-56.5 0 39.5 0-11.5 0-32 .5 24.5 0 4.5 0 9 0 20 0-40 0-11 0 45 0 10 0-13 .5 13 0 17.5 0-11 .5-3 0 9 .5-8.5 0-46.5 0 43 .5 9 0-2.5 .5-16.5 0 9 .5 14 0 2 .5 4 0-56 0 41 .5-1 .5 6.5 .5-21.5 0 14.5 0 15 .5-7.5 0-10 0 6 .5-29.5 0-39 0 77.5 .5 8.5 0 12 0-6 .5-5 .5-57.5 0 71 .5 5 0-15 0 6.5 .5 15 .5-4 0 7.5 .5 6 .5-16.5 .5 26.5 0-17 0 9.5 .5 7.5 .5-1.5 .5-8 .5-11 0-31.5 .5 57 0 3.5 0 2 .5-33 .5 28 0-2 .5-67 .5 63 .5 9.5 .5-36.5 0 32.5 .5-3 .5 1.5 .5-65.5 0 61 .5-19 0 28.5 .5-7 0-67 0 67.5 0-69 0 59.5 .5-24.5 0 36 .5-5.5 1 3 0-5.5 .5-29 0 23"/>
</g>
<g id="pb">
<path class="sb" d="M185 891.7L185 828.9L187 817.9L189 822.6L191 807.9L193 809.1L195 818.2L197 821.5L199 824.2L201 851.8L203 876.4L205 884.2L207 886L209 884.6L211 883.7L213 886.6L215 885.2L217 884.1L219 884.7L221 885.8L223 883.7L225 867.2L227 849.7L229 858.6L231 857.8L233 853.3L235 840.3L237 844.8L239 855.5L241 861L243 861.5L245 864.4L247 856.6L249 868.2L251 855.9L253 846.5L255 832.5L257 816.1L259 821.9L261 831.3L263 826.1L265 826.4L267 827.1L269 824.2L270 891.7Z"/>
<path class="mb" d="M185 793l0 32 0-9.5 1-5 .5 16 0-24 0-4 0 3 .5 7.5 0-4 0 1.5 1-59 0 37.5 .5 27 0-1 0-28 .5 39 .5-11 .5-3.5 0-4 0-16 0 6.5 1 3.5 0 12 .5 .5 0-24 0 23 .5-5.5 0-23 .5 22.5 .5 1 .5 6.5 0 3.5 1-11 0 6.5 .5-9 0-43.5 .5 61 0-9.5 0-49 0 61.5 .5-53 0-20.5 0 58.5 .5-17.5 0 21.5 .5 14.5 .5-21 0-3.5 0 18 .5-10.5 .5-22.5 0 24.5 0 1 .5-12 0 10 .5 1.5 0 16 0 2.5 .5-16 0 21 0-45 1 58.5 0-62 .5 55 .5 16.5 0 .5 1 16 .5-.5 .5-46.5 .5 58.5 .5-1.5 0-113.5 .5 41 1 77 0-2 0-1 2-87.5 0 91 0-115 1.5 112 0-5 .5-17.5 1 24.5 .5-52.5 0 49.5 .5-117 1.5 117.5 0-2 1 5.5 0-85 1 80 0-22 .5 23 1-3.5 .5 3 0-44 1 45 .5 .5 .5-103 1 102.5 0-6 1.5-28 .5-77.5 .5 110 .5-15.5 0 10.5 .5-9.5 1-14 .5-101 0 107.5 0-27 .5 19 .5-7.5 .5-10.5 0-34 0 44 .5 3 0-53.5 1-11 0 67.5 0 5 1-35.5 .5 30.5 0 3.5 0-23 .5-20.5 0 45 .5-6 .5 3.5 .5-55.5 0 41.5 0-76 .5 89.5 1-5.5 0-62.5 .5 48 .5 5.5 0-91 .5 27 .5 63.5 .5 2.5 0-24 0 28 .5-3.5 1 5 0-19 0 15 0-94.5 1.5 66 0 41 0-69 .5 71 .5 1 0-59.5 .5-12.5 .5 79 .5-9 .5-15.5 0 16 .5-46.5 0 14.5 .5 31.5 0 5.5 1-20 0 25 0-.5 1-8 0-5 .5-45 .5 50.5 0-27.5 .5 24 0 4.5 .5-2 .5-33 0 34 0-23.5 .5-48 .5 77 .5 3 1-3.5 0-73 0 67 .5-59.5 0 30 1 24 0-5.5 .5 6.5 .5-4.5 0-6.5 .5 0 .5 0 0-10.5 1-25 0 29.5 0-4.5 1-13.5 0-21 .5 23 0-8.5 .5-7.5 .5 5.5 0-5.5 0 18 1-20 0 16 .5-3 0-6.5 .5 14.5 0-12 0 .5 .5 15 0-22 .5 18 0-24 .5-9 0 24.5 0 3 1-11.5 0 9 .5-3.5 0 1 0 9 0-15.5 .5 2.5 0-22.5 .5 29.5 0 0 0-30 .5 36 .5-3 .5 6 0-14.5 0 5.5 .5 3.5 .5 12 0-41.5 0 29.5 .5-44 0 26.5 0 30.5 .5-49.5 0 36.5 .5 3.5 .5 4.5 0-27.5 0 0 .5 20.5 0-5 .5 7 .5-43 .5 34 0 8.5 0-99.5 .5 97"/>
<path class="so" d="M269 891.7L269 853.3L271 852.1L273 849.2L275 849.2L277 826.4L279 826.8L281 829.5L283 815.5L285 829L287 816.3L289 816.9L291 811L293 850.2L295 877L297 883.7L299 883.8L301 886.6L303 886.8L305 884.7L307 883.4L309 884.2L311 885.9L313 886.8L315 884.8L317 883.9L319 885.1L321 877L323 864.7L325 857.1L327 857.7L329 862.4L331 860.6L333 861.7L335 852L337 855.4L339 858.1L341 864L343 851.7L345 858.6L346 891.7Z"/>
<path class="mo" d="M268.5 844.5l.5 0 .5-26 0 22.5 .5-4.5 0 16 .5-13.5 0-23.5 .5 30 0-22.5 .5 19.5 .5-1 0-8.5 .5 11.5 0-22.5 0 19 .5-1.5 0-.5 1 14.5 0-13 .5 7.5 0-6 0-31.5 0 26 .5 6.5 .5-31 .5 19 0-3 .5-10 0-19 .5 17.5 0-12 .5 8.5 .5-21 0 37 0-5.5 1-48.5 0 47.5 0 2.5 1-5 0 2 0-12 .5 1.5 0 18 0-14.5 .5-20 .5 23.5 0 .5 .5-13.5 0 16 0-37 .5 24 0-17 0 14.5 .5-4 .5 10.5 .5-2 .5-10.5 0 15.5 0 12.5 .5-5.5 .5-24 0 9 .5 15 .5-13 0-32.5 0 39.5 0 1 .5-34.5 0 9 1 27.5 0-47.5 .5 34 0-18 .5 30 .5-10 0-3 .5-5.5 .5-2.5 0 7.5 .5-28 0 25.5 0-32.5 .5 34 0 4 .5 12.5 0-1.5 .5 3 0 15.5 0 8.5 .5-86.5 1 103 0-2.5 .5-7.5 .5 20 .5 4.5 .5 10.5 0-5 1.5 0 0-1 0-53.5 1 61 .5-66 0 65 .5-50.5 .5 22.5 0 24.5 1-13.5 .5 14 1 1 .5-42 0 45.5 .5-1.5 .5-13 1-36.5 .5 36 1 9.5 .5-1 .5 3.5 .5-2 .5-19.5 .5-31 0 54 1-51.5 .5 52 1-30.5 0-29.5 0 60 1.5-7 .5 6.5 .5-8.5 0 6.5 1 .5 0-19 .5 8 .5 9 1-4 0 2 .5 4 .5-14 .5-26 1.5 23 0 15 1-5.5 .5-30.5 .5 22 .5-50 .5 31 .5 12 0 4.5 .5-11.5 0-53 0-29 1 85.5 0-47.5 .5 20.5 .5-15 0 35 .5 7 .5-7.5 0 7 .5-10 0-6.5 0 8 .5 12.5 .5-23.5 .5 15 .5-68.5 0 61.5 0 5.5 .5 10.5 0-10 .5-36 .5 46 1-47 0 46 .5-3 0-37.5 .5-42.5 .5 78 .5-4.5 0 8 .5-50 .5 35 0 9 1-5 0-37 .5 41 .5-1 0 3 .5-10.5 0 14.5 .5-77.5 0 43 1 24.5 0-25.5 .5 32.5 0-5.5 .5 1.5 0-7 .5 10 0-6.5 .5 8.5 .5-76.5 .5 73.5 .5-2 0-43 .5-26 0 66 .5-2.5 0 4.5 .5-26 .5-49 .5 81.5 0-24 .5 28 0-7 0-8.5 .5 3"/>
<path class="sb" d="M345 891.7L345 795.6L347 810.5L349 827.2L351 866.1L353 880.7L355 877L357 877L359 878.9L361 874.7L363 875.5L365 875.2L367 875.1L369 879.8L371 878.8L373 879.8L375 876.8L377 874.8L379 878.7L381 880.1L383 880L385 878.3L387 865L389 845.9L391 832.3L393 802.3L395 784L397 775.8L399 806L401 817.7L403 829.5L405 834.3L407 837.4L409 829.8L409 891.7Z"/>
<path class="mb" d="M345 789l0-6.5 .5 3 0-19.5 1 38 .5 .5 0 3.5 0-43.5 .5 14 0 35 .5-4 .5 14 0 1.5 .5-39.5 .5 45.5 0-23 0-.5 0 42 1.5-3 0 17 .5 21 1-7.5 0-40 .5 20 0 25 .5-29 0 26.5 1.5-18.5 0-7 .5 23 .5-9 0 10 .5-47 1 47 0-1 0-1 1-50 0 49.5 .5 6 1-10.5 0-11 0 19 .5-2 .5-4.5 1.5 5 0-5.5 0-.5 .5 3.5 .5-21.5 0 17.5 .5 7 .5-6.5 .5-1.5 0 4 1 2 .5-13 .5 14 0-6 .5 2.5 0-14.5 .5-13.5 0 33 1-3 .5 4 0-58.5 .5 57.5 .5-13 .5 16.5 0-7 1 4 0-50.5 .5 26 .5 20 0 5 1-5.5 .5 3 0-19 0 20 .5-51.5 0 53 1-5 .5-34 0 30.5 1-24 0-13.5 .5 46 .5-8.5 .5 8.5 .5-17.5 0 16 .5-4 0-7.5 .5-36 .5 53 .5-18.5 1 13.5 0-.5 .5 4 .5-55.5 0 50 .5-1 .5-17 0 15.5 0 2.5 .5-34 .5 33.5 .5-41.5 .5-19 0 45 .5 2 0-8 .5-10.5 .5 11 0-10 .5-.5 1-1.5 0-24 0 19 0-46 .5 46.5 .5-8 .5-5 0-36.5 .5-14.5 .5 37 0-32.5 0 35.5 1-16 0-33.5 0 19 0 15.5 .5-6.5 .5-19 .5-24.5 .5 11.5 0-20.5 0 2 0 5.5 .5 25 0 15 0-.5 0-42 0 22 0-13.5 .5 15 0-17 .5 25.5 0 .5 .5-6 0-27 .5 21 0 14 .5-39.5 0 50.5 0-18.5 1.5 30 0 5.5 0-17.5 .5 11.5 0 4 0-8.5 1-2.5 0-2 0 18.5 .5-2 0 17 .5-26 .5 17 0-3.5 .5 10.5 0-14 0 16.5 .5-2 0-34 .5 36.5 0 5 .5-20.5 .5 16 0-2 0-11.5 .5 20 0-13 .5 4 0-6.5 0-1.5 1 19 0-8.5 .5 .5 .5 3.5 0 2 0-10.5 .5 .5 0 9 .5-7"/>
<path class="so" d="M408 891.7L408 822.8L410 832.6L412 820.2L414 810.4L416 794.7L418 788.3L420 817.1L422 832.9L424 847.3L426 857.7L428 847.5L430 844.8L432 852.3L434 858.7L436 874.7L438 876.8L440 879.7L442 881.5L444 877.6L446 880.2L448 879.3L450 883.8L452 881.3L454 884.6L456 883.7L458 880.4L460 881L462 881.1L464 882.6L466 878.4L468 880.4L470 872.4L472 864.7L474 848.6L476 844L478 853.5L480 841L482 856.1L484 855.4L486 851.8L488 858.4L488 891.7Z"/>
<path class="mo" d="M408 827l0-14 .5 5 .5 3.5 0 5 1-40.5 0 44.5 0-8 0-.5 1-37.5 .5 38 0-6.5 0-10.5 .5-18 .5 18 0-2 .5-2 0 .5 0-10 0 14 0-10.5 .5-16.5 0 33 .5-20.5 0 10 .5-5.5 .5-57.5 0 55 0-5.5 0 7 .5-73.5 0-5.5 0 66.5 0-74 0-5.5 0 41 0-20.5 0-31.5 0 8 .5 13.5 0 5.5 0 76.5 0-108 0 18.5 .5 78.5 0-100 0 26 0-16 0 94.5 0-99 .5 7 0 44.5 0 42.5 0-13 .5 6 .5 9 0-56.5 .5 41 .5-44.5 0 70.5 .5-6 0 1.5 0 28.5 .5-60.5 .5 49 .5-66.5 .5 64.5 0 14.5 0-85 0 99 .5 0 .5-26 .5 19 0 9 .5-2.5 .5 .5 .5 1 0 7.5 .5-25.5 0 37 .5-6 0-61.5 0 68 .5 .5 .5-100 .5 87.5 0 5 1-3.5 .5-27 0 28 0-14 .5 12.5 .5-117 0 116.5 0-5 .5-66 0 70 0-137 .5 84.5 0 59.5 .5-8.5 0-25 .5-3.5 0 37 1 5 .5-38 0-35.5 .5 72 1 4 0-7.5 0-12 0 25.5 .5-57 1 31.5 0 36 1 3.5 0 3 .5-4.5 .5-5 .5 11 1.5-4 .5-12.5 .5 19 .5-3.5 1-11 .5 2 .5-8.5 0 16.5 .5-3.5 .5 3 .5-15 .5 17.5 0-18 1.5 15 .5-15.5 .5 12.5 .5 5 1-4 .5 9 .5-14.5 0 8 .5-7.5 0-12.5 .5 17.5 .5 6.5 1-3 .5-4 0-12 .5 17.5 0 2 .5 3.5 .5-19 1 14 0-1 1-3 0-10 .5 10.5 .5-164 0 160 0 2 1 1.5 .5-7 0 5.5 0-7 .5 12.5 .5 .5 0-19.5 .5 17.5 1-21 0 20 .5-1.5 1-2.5 0-17 .5 22.5 0-17.5 1 11 .5 7 .5-2.5 .5-27 .5 8 0 15.5 .5 3.5 .5-26.5 .5 29.5 0-15 0 2.5 .5 5 0-26 .5 7.5 1 13 .5 1.5 0-9.5 0 2 .5-8.5 0 10 .5-18.5 1 .5 .5-98 0 100.5 0-59.5 0 49.5 .5 3 0-10 .5 17 0-16.5 .5 12.5 .5-48 .5-47 0 96.5 0-107 0 15.5 .5 2.5 0 8 0-20 0 6.5 0-4 .5-5.5 0 103 0-94 0 8.5 0 62 .5 27 0-86 0-14.5 .5 103 .5-9 .5 2.5 0-52 .5 18.5 .5 30.5 .5-27 0 32.5 1-78 .5 84.5 .5-106 0 105.5 0-31.5 0 27.5 .5-32.5 .5 32.5 0-7 .5-41 0 4 0 43 .5-109 0 112 .5-59.5 0 53 1-5 0 12 .5-44 .5-.5 0 39.5 .5 6 0-12 .5 17 0-106"/>
<path class="sb" d="M487 891.7L487 831.1L489 829L491 827.8L493 841.4L495 835.1L497 821.2L499 852.1L501 875.6L503 888.9L505 889.2L507 889.5L509 888L511 887.5L513 888.5L515 889.5L517 887.8L519 886.7L521 889.5L523 861.5L525 842.3L527 817.6L529 822L531 815.7L533 834.1L535 832.3L537 822.9L539 831.9L541 822L543 838.1L545 830.9L547 831.1L547 891.7Z"/>
<path class="mb" d="M487 781.5l.5 48.5 0 4.5 0-9.5 .5-35.5 .5 33.5 0-33 0 26.5 .5-12.5 .5 21 0-9.5 0 12.5 .5-58 0 49 0-9 .5 2 1 2.5 0 8.5 0-23.5 0 32 0-12.5 0-53 .5 49 0 3 .5-56 .5 63.5 0 14.5 0-40 .5 32 0-64 0 56 0 0 .5-62 0 14.5 .5 65 .5-30.5 0 18 .5 8.5 .5-49.5 0 23 0 11 .5-8 0-3.5 0-2 0-21.5 0 23 1.5 23 0-3.5 .5-1.5 0-31.5 0 57 .5-19.5 1 32.5 0-31.5 1 43 0-31 1-8 2 0 0 48.5 1.5-38.5 0 18 .5 21.5 2.5-17 .5 11 0 5.5 1.5 .5 .5-45 .5 38.5 2.5-27.5 0 34.5 1-5.5 1-23.5 1 27.5 1-34.5 .5-4 .5 40 2 0 0-9 1-5.5 .5-1 0-18 1.5-57 0 34.5 0 10 .5 11.5 .5-12 .5-21.5 .5-4 0-20 0-12 .5 42 .5-13.5 0 2 .5-45.5 0 47 .5-8.5 0 6 .5 8 0-21.5 0 2 1 17.5 .5-62 0 62 .5-4 .5 1.5 .5-19 0 6.5 0-18 .5 37.5 0-64.5 0 61.5 0-64.5 0 14 .5-5.5 0 3 0-13.5 0 78 .5-70.5 0-10.5 0 60 .5 18.5 .5-8.5 0-13.5 0 15.5 .5 7.5 .5-12 0 .5 .5-.5 0-67.5 0 56.5 .5 9.5 0-2.5 .5-49.5 0 55.5 0-12 .5 .5 .5-41.5 0 42.5 0 7 0 1.5 .5-1 .5-29.5 .5 30.5 0 2.5 .5-34.5 0 32 .5-14.5 .5 19.5 0-17.5 0 11 .5-12 0-36.5 .5 47 0 9.5 0 2 1-30 0 8 1 25 0 3 .5-48 0-31 .5 71 0 10.5 .5-34.5 0 26.5 0-7 .5 .5 .5-2 .5-7.5 0 7.5 0-3 .5 3.5 0 1 .5-8"/>
<path class="so" d="M546 891.7L546 847.4L548 860.6L550 844L552 848.7L554 845.8L556 850.4L558 856.2L560 856.2L562 848.2L564 846.3L566 847.2L568 842.3L570 852L572 836.3L574 832.6L576 836.7L578 837.9L580 831.3L582 823.2L584 815.1L586 822.5L588 809L590 818.8L592 825.5L594 823.8L596 846.9L598 861.2L600 880.1L602 875.1L604 878L606 873.6L608 872.5L610 862.7L612 854.7L614 854.1L616 836.6L618 832.4L620 831.7L622 834.1L624 832.4L626 839.7L627 891.7Z"/>
<path class="mo" d="M546 839.5l.5-15.5 0 18.5 .5-37.5 0 45 1-17.5 0 26.5 0-41.5 .5 41.5 .5-6.5 .5-16 .5-18.5 0 27.5 1 2 .5-31.5 0 33 0-44 0 38 .5 8 .5-8 .5-7 0 11 0-29 1 3.5 .5 21 .5 1.5 0 8 .5-12 .5 1 0-26 .5 39.5 0-49.5 .5 10.5 0 28 0 2 .5 5 .5-9 0 6 .5-31.5 0 42 .5-65.5 0 67.5 .5-5.5 .5-49.5 .5 48 .5-13.5 0-26 0 40.5 .5-23.5 0 15.5 0 1 1-6.5 .5-2.5 0 8 0-30 1 18.5 .5 7.5 0 3.5 .5-113.5 0 0 .5 117 0-14 .5 6 .5 8.5 0-12.5 0-23 1 29.5 .5-2 0-17.5 0-19 .5 33.5 0 7 .5-54.5 0 48.5 .5 16 .5-64 .5 62 .5-26 .5-16.5 0 34.5 .5-30.5 0 15 .5 8 0-4 0 1.5 .5-19 0 2 0-85.5 0 90 1-2.5 0 6 .5-91.5 .5 92.5 0-47.5 0 50.5 .5-6 0 13 0-24.5 .5-68 0 5 0 62 0 28 .5-10.5 .5-6.5 .5 20 .5-42.5 0 26.5 0 3 .5 11 .5-9.5 0-9.5 0 1.5 .5-55 1 63.5 0-72.5 0 69.5 0-5.5 .5-13.5 0 12.5 0-58.5 0 55.5 0-47 0 5 0 14.5 .5 32 .5-57 0 51.5 .5-10.5 0-3 0-43 0 7 0-5.5 0-4 0 3.5 0 46.5 0-34.5 0 46 .5-61 0 52.5 0-17.5 0-18 .5-14.5 0 9 0 2 0 42.5 .5-4 0-12 0-36.5 0 2.5 .5 3 0 17 0 29.5 0-2.5 .5-7 0 .5 0-35 .5-12 0 14.5 0-11.5 0 15.5 0-8.5 .5 51.5 0-56.5 0 1.5 .5 .5 0 10.5 .5 28.5 0-44.5 0-1.5 0 10.5 .5 38.5 0-33.5 0 20 .5-32.5 0 41.5 0-31.5 .5-5 0-2.5 0 16.5 0 31 0-42.5 0 41.5 0 4 .5-20 .5-25 0 2 0 .5 0 40.5 0-48 0 8.5 0-14 .5 8.5 0 41.5 0-24 .5-22.5 0 13.5 0 5.5 .5-18.5 0 53 0 2.5 0-48 0-4.5 .5-5 0 7.5 0 41 0 18.5 1-15.5 0 8.5 0-4 0 3 .5-57.5 0 5.5 .5 31.5 0-29 0 24 .5-30 0 1 0 36 .5 15 0 12 0-62 .5 48 0 1 0-41 0-5.5 .5 66 .5-17 0 22.5 0-68.5 0 67 0-75.5 0 48.5 1 12 .5 20.5 0 1 0 13.5 0-4.5 .5-5 .5-54 .5 78.5 1-24.5 0 27 .5-2 0-18 .5 18 .5 1 .5-19 0 9 1-48.5 .5 60 .5-51 .5 49 0-.5 0-4.5 0-11.5 1.5 15.5 .5-20 0-41.5 0 61 .5-3 .5-6.5 1-69 0 77 0-6.5 .5-55.5 0 53.5 1-3 0-35.5 .5-20 0 29.5 1 21 0 0 .5-30.5 0 4.5 .5 24.5 .5-16 .5 14 0-5 0-30 1 34.5 0-14 0-1 .5-20.5 0 15.5 .5 2.5 .5-5 0-2.5 .5-2 .5-30.5 0 32.5 .5-25 0-.5 0 34.5 .5-8.5 .5-1 .5 1.5 .5 0 0-4.5 .5-33 0 36 .5 9.5 .5-17.5 .5-9 1-15 0 39.5 0-5.5 .5-20.5 .5 28.5 1-3 0-34.5 0 28.5 0-20 .5 1.5 0 18 0 12 .5-2.5 .5 1 0-43.5 1 7 0 34 0-5 0-19 .5 20.5"/>
<path class="sb" d="M626 891.7L626 817.3L628 816.1L630 816.8L632 814.2L634 819L636 821.9L638 816.4L640 811.8L642 823.2L644 831.2L646 834.9L648 826.3L650 829.8L652 840.7L654 850.7L656 873.1L658 876.1L660 876.6L662 877.7L664 880.3L666 880.3L668 878.1L670 880L672 870.2L674 852.3L676 833.5L678 828.6L680 843.8L682 833.4L684 835.4L686 844.3L688 838.4L690 850.1L692 844.9L694 840.1L694 891.7Z"/>
<path class="mb" d="M625.5 820.5l0-42.5 0 33.5 .5-5 .5 2 .5-26 0 33.5 .5-7 .5 8.5 0 0 0-18 .5 4 .5 8 0 1 0-7.5 1 11 0-23 .5 22.5 .5-12.5 .5-1.5 0-25 0 35.5 0 2 .5-4.5 0-12 .5-6.5 0 10.5 .5-2 0 7.5 0-2 0 12 .5-.5 .5-2 0-14 .5-15 0 20.5 .5-23.5 .5 31 0 2 0-6 .5-32.5 0 13 .5 24 0-5.5 .5 5 0-21 1 10.5 0 13.5 0-12.5 .5 10.5 0-3.5 .5-15 .5 12.5 .5 2 .5-10.5 0 6 0 8 0-5.5 .5 7.5 1-.5 0 8.5 .5 1.5 1-6.5 .5-5 0 10.5 0 3.5 .5 6.5 1-12 .5-7.5 0 17.5 0 .5 0-13 .5-1 .5 12 .5-70.5 0 72.5 1-3.5 0-10 0 12 1-1.5 .5 2.5 0-10 0-14.5 1 28.5 .5-9 .5-7.5 .5 21.5 0-5.5 .5 3.5 0 3.5 .5 1.5 1 4 0 3 .5 9.5 .5 10.5 .5-8.5 .5 19.5 1.5-11 0 2.5 1 1 .5 .5 .5 2 1 .5 1-.5 0-4 0-4.5 1.5 12.5 0 1.5 .5-5.5 .5 7.5 1.5-3 .5-7 .5 7 0-4 1 1 1.5-.5 0 4 1-11 0 6 1-8.5 .5 4 .5-8.5 0-10 .5-2 .5-9.5 .5 3 .5-1 0-7 0-29 .5 35 0-29.5 .5 9.5 .5 2.5 1 3 .5-1 0-8 0-36 .5 17 .5 24.5 .5-22.5 0 25.5 0 .5 .5 18.5 .5-24.5 .5-25 .5 37 .5-7 0 5 .5-5.5 .5-2 0-10.5 .5-34 0 35.5 0 10.5 0 9.5 .5-19.5 .5 20.5 .5-11 .5 3 0-4 0-3.5 0 7.5 .5-24.5 .5 35 0-3 1-17.5 0 13.5 .5-11 0 8 0 11 0-9.5 1-6.5 0-32 .5 43 0-3.5 .5 3.5 0 6 0-28 1 25 0-2 .5 5 0-3 .5-4.5 .5-28 .5 18 0 16.5 0-6.5 0 3 0 3.5 .5-52 1-1 0 44 .5 1.5"/>
<path class="so" d="M693 891.7L693 837.9L695 836.2L697 847.5L699 851.3L701 840.9L703 840.5L705 828.8L707 809.5L709 806.2L711 798.5L713 794.8L715 801.7L717 804.3L719 806.5L721 802.5L723 801.3L725 810L727 835L729 875.1L731 881.5L733 881.8L735 882.4L737 882.2L739 883.6L741 880.5L743 865L745 837.2L747 819.9L749 809.3L751 814L753 797L755 802.8L757 793.5L759 810.4L761 814.9L763 800.9L765 799.8L767 797.1L767 891.7Z"/>
<path class="mo" d="M693 790l.5 41 .5 7 0-42 0 43.5 .5-3.5 .5-17.5 0-9 .5 26 0-1 0-3.5 .5-39 .5 52 0 6.5 .5-15 .5-14.5 .5 18.5 0-2.5 0 1 0-80.5 .5 78.5 0-2.5 0 15.5 .5-44 .5 44 0-86.5 .5 73 0-13 0 11.5 .5-34.5 0 45.5 1-9.5 0-35 .5 32.5 .5-3 0-25 0 35.5 0-68 0 71 1-51 .5 45.5 0 0 1.5-47.5 0 26.5 0 6.5 0-103.5 .5 43 0-50.5 0 5 0 6 0 2 0 2 .5-12 0 105.5 0-11 0-80.5 .5 63 0 14 0-74 0 79 1-20 0 10 0-53.5 0 38.5 0 21 .5-19.5 0 1 0 12.5 .5-8.5 .5-3 .5-7.5 0 12 .5-42 0 45.5 0-21 .5 15.5 .5 6 0-12 .5-6.5 .5 6.5 0 2 .5 1.5 .5-20.5 0 22 1 5 0-24 0 24.5 .5 8 0-31.5 .5 7 0 11.5 .5-37.5 0 35 .5 14 0-14.5 0 6 0 9 .5-20 1-2 0 6 .5 10.5 0-7.5 0 4 .5-12 0 11 .5 6 0-13.5 .5 15 0-13 0 11.5 .5 4 .5-5.5 0-14 1 10.5 0-3 .5-3 .5-.5 0-43 0 45.5 .5-2.5 0 8.5 .5-16.5 .5 22 0 3.5 0-55 .5 45 0 6 .5-5.5 0 9 .5 10.5 0 4 .5-12.5 0 12 0-74.5 .5 77.5 0 4.5 .5 15 0-8 0 17 .5 7.5 1 1 0 15 1 13 1.5-8 0 2 .5-1 1-4.5 .5 4.5 .5 1.5 1 4 .5-3.5 .5-1 1 .5 1 .5 1.5 2.5 0-5 1.5-.5 1 1.5 .5-20 .5 1.5 .5-14.5 .5-1 0-10 1-8.5 .5 5 0-18.5 .5 8.5 0-16 0 3 .5-8 .5 2.5 .5-3.5 0-16.5 0 17 0 13.5 .5-24.5 0 7.5 .5 4 0-19 .5-16.5 0 21.5 0 16 .5-12 0 13.5 0 .5 .5-36.5 0 6 0 22 .5 .5 .5-4.5 .5 20.5 0-6 0-2.5 .5-1 0-27 .5 15.5 0-8 0-11 .5 22 0-12.5 1.5 14 0-14 0 15.5 .5-9.5 .5 15 0 .5 0-17.5 .5-3.5 0-10 0 13 .5-5.5 .5 1 .5 9 .5-6 .5 9.5 0 3 .5 6.5 .5-26.5 0 35 0-13 0-7 0-18 0 27.5 .5 10 .5-4.5 0 4 0 6 0-11.5 0-27.5 .5 15 .5-6.5 .5-5 0 6.5 0 18.5 .5-6 .5-12.5 0-3 0 16 .5-24.5 0 25.5 .5-16.5 .5 8.5 0-22.5 .5 28.5 .5-15.5 .5 9 0-4.5 .5-4 .5 9 .5-20"/>
<path class="sb" d="M766 891.7L766 800.2L768 809L770 810.6L772 797.3L774 814.6L776 815L778 831.5L780 864.8L782 877.2L784 878.1L786 880.1L788 878.8L790 877.1L792 875.8L794 878.8L796 875.7L798 878.8L800 877.3L802 876.8L804 876.8L806 879.2L808 880.4L810 880.4L812 877.4L814 881.1L816 859.9L818 831L820 827.7L822 833.4L824 822.3L826 815.6L828 822.7L830 832.5L832 828.1L834 834L836 829.7L837 891.7Z"/>
<path class="mb" d="M766 777.5l0 21.5 .5-.5 0 7.5 .5-9.5 .5-6.5 0 22.5 .5-16 0-6.5 0 7.5 0-47.5 .5 0 0 3.5 0 39 .5 10 0-2.5 .5 10 .5-4.5 0-24.5 0 21 .5-17.5 .5 1 0 20.5 .5-15 0 4 0 3 1-19.5 .5 4 0 6.5 0 .5 .5 3.5 0 13 0 0 .5-45 .5 57.5 .5-13 0-4.5 .5 3 0 13 0-62 .5 53 0-29 0 28.5 .5 11 .5-8 .5 13 0-8.5 0 14 1-44.5 0 41.5 0 21.5 .5 .5 0-41.5 1 4.5 0 49.5 .5 13 .5-37.5 .5 18 0 20.5 0 1.5 .5-44 .5 42 .5 9 .5-42.5 .5 33 .5 2.5 .5-4 0 3.5 .5-12 .5 16.5 0-56.5 0 53 .5-46.5 0 47.5 1-18.5 0 20 .5-23.5 1 24 0-13.5 .5 9 0-30 0 29.5 1-49.5 .5 53.5 0-37 1 38.5 .5-32 0-69 .5 78 0-4.5 0 23 .5-52 .5 55.5 1 .5 .5-25.5 .5 6.5 0 13.5 0-20.5 1-33 0 58 .5-19.5 0-13 .5 24 .5 6.5 0-8 0 6 1 2.5 .5 2.5 0-26.5 1 14.5 0-6.5 0 13 1-7.5 1-22 0 2 0 34.5 .5-1 .5-28.5 .5-40 .5 66 .5-54 .5 43.5 0 10 1.5 1.5 0-35 0 10 1-16.5 0 43 .5 .5 0-9 0 6.5 .5-27 0 27 1-4 .5 7 0-32 .5 23.5 .5 7 .5-73.5 .5 10.5 0 40 .5 21.5 .5 2 .5-56 .5 45 .5-44 0 37.5 .5-7 0-34 .5-31 .5 57.5 0-5 .5-38.5 1 22.5 0-15.5 0 10.5 .5-10.5 .5 7.5 0 .5 .5-34.5 0 38.5 .5-7 .5 5.5 0-5 0-17 .5 14 .5 21 0-8.5 .5-7.5 0 5 .5-34.5 0 .5 .5 24.5 .5-6 0 7.5 0-2 0-35 1 30 0 13 0-39 .5 7 .5 23.5 0-9.5 .5 4 0 11.5 1-30 0 6.5 .5-6.5 0 27.5 0-2.5 .5 4 0 7.5 .5-10 .5-26.5 0 32 .5 12 .5-18.5 0-6.5 0 6.5 .5-28.5 0 29 .5 8.5 .5-11.5 0-20.5 .5 35 0-2 0 6.5 .5-49 .5 32 0 2 0-16.5 .5 23 0 8.5 0-8 1-2 0-9.5 0 21.5 .5-23 .5-4.5 0 7 0 15 0-14 .5 19.5 0-5 1-5 0-34.5"/>
<path class="so" d="M836 891.7L836 827L838 811.3L840 809.7L842 817.4L844 808.2L846 818.9L848 808L850 832.1L852 857.3L854 860.1L856 861.4L858 867.2L860 868L862 863.7L864 867.8L866 871.4L868 860.8L870 864.4L872 864L874 871.3L876 864.7L878 869.3L880 861.7L882 861.8L884 864L886 857.2L888 837.2L890 818L892 833.4L894 821L896 822.1L898 825.7L900 825.9L902 829.6L904 818.6L906 827.1L908 824.2L910 830.1L912 816.8L914 830.7L914 891.7Z"/>
<path class="mo" d="M836 823.5l.5-1.5 0-30.5 0-39 0 64 .5 4 .5-17.5 0-3.5 0-1 0-17 .5 4 0 16 .5 10 1-16 0 4.5 .5-1.5 0 9 .5-7 0-13.5 .5 13.5 0 5.5 0-3 0-61 .5-3 0-7 0 3.5 0 84.5 .5-83 0-18.5 0 100 0-95 0 7 .5-3.5 0 63 0-68.5 0 57.5 .5 25.5 0-.5 0-4 .5 5 .5-41.5 .5 26.5 .5 24 0-7.5 .5-23 .5 28.5 .5 3.5 .5 0 0-3 .5-22.5 0 10.5 .5-7.5 .5 8.5 0 17 .5 0 0-2.5 .5 18.5 0-12 1 18.5 .5-13 .5 15.5 .5-17 0 30 .5 5 .5-9 .5 10 0-11.5 1 12.5 .5-5 .5-1.5 .5-.5 0 3 .5-9 .5 14.5 .5-47 0 27.5 0-32.5 1 51 0 2 .5-34.5 .5 35.5 0 2 .5-14.5 .5 6.5 .5-3 .5-45 .5 43.5 .5 8 0-1 0-5.5 0 7.5 .5-27 1-13 0 43 0-.5 1 1 0-4 1-14.5 .5-14.5 0 39 0-13.5 .5-5.5 1-30 0 34 .5-3.5 .5 7.5 .5-58 .5 1 .5 57 .5-46 0 43 .5 3.5 0 2.5 .5 0 0-49.5 .5 50.5 .5-7 .5-6 .5 13.5 .5-7.5 0 7.5 0 1 .5-12.5 1-24.5 0 6 .5 29.5 .5-4 0-9 .5 14.5 0-5.5 0-28 0 32.5 1.5-6 0-8 1-18 0 24.5 .5-2 .5-27 0 23.5 1.5 9 0-9 0 1 .5 7.5 0-3.5 .5-54.5 0 56.5 .5-48.5 .5 47 .5-.5 0-1.5 1-5 0-4.5 0-19.5 .5 8 0-43 .5 48 .5-20 .5 5.5 .5 7 1-13.5 0-28.5 0 28.5 0-7.5 .5-1 0-24 1-7.5 0 44.5 0-10.5 .5-2.5 0-15.5 .5 34.5 0-3 .5-11 0-27.5 .5-7 .5 41 0-76.5 .5 65.5 .5-3.5 0 13 .5-41 0 32 1-7 .5 12.5 0-2 0-63 0 62 0-7.5 .5 15.5 0-82.5 0 11 .5 69.5 .5-7 0 10 0-71 0 35 .5 38 .5-52.5 0 37 .5-50 0 61 .5 2.5 0-12 1-47.5 0-1.5 .5 52 0 9 0-7.5 .5 1 .5-3.5 .5-66 0 66.5 0-2.5 0-69 .5-2.5 .5 66 0 12.5 0-78 .5 68.5 0 10.5 .5 4 .5-14 .5-36 0 52.5 .5-17 0 15.5 0-5 .5-10.5 .5 5 0-12 0 13 .5 7.5 0-69 .5 59 0 11 1-19.5 0 21.5 .5-7 .5-30.5 0 30.5 0 3.5 0-11.5 .5-43 0 45.5 1-7 .5 6.5 0 2 0 2.5 0-12.5 .5 14 1 11.5 .5-8"/>
<path class="sb" d="M913 891.7L913 798.2L915 791L917 787.2L919 800.3L921 795.2L923 796.1L925 805.1L927 811.9L929 814.1L931 838.5L933 853.7L935 847.9L937 848.7L939 864.5L941 860.7L943 849.8L945 845.4L947 841.2L949 830.6L951 806.8L953 792.2L955 798.9L957 805.1L959 800.3L961 805.4L963 814L963 891.7Z"/>
<path class="mb" d="M913 764.5l.5 24 .5-.5 0-23 .5 30.5 .5-12.5 0-23 .5 19.5 0 4 0-3 0 10.5 1-15.5 0 11.5 1-18.5 0 16 .5 7 0-6.5 0-34 0 42 .5 4.5 .5-7.5 .5 2.5 0-6.5 0-41.5 1 54.5 0-3.5 0-29.5 .5 31.5 .5-38.5 0 34.5 .5-7.5 0-46 0 8.5 0 5 .5-3.5 0 31.5 0-35.5 0-10.5 0 28 0-25.5 .5 49 0-44.5 0 14 0 9 0-4 0-3.5 0 23 0 11 .5 12.5 0-21.5 .5 3.5 .5 3 0-25 .5 31 0-2.5 0-7 0 21 .5-14.5 0-11.5 .5 27.5 .5-14.5 .5 0 0-14 0 24 .5 6.5 0-68 .5 16.5 0 34 0 14.5 .5-25 0 25 0-23.5 0 29.5 .5-23 0 2.5 0 7.5 1 8.5 0 8.5 0-30.5 .5 22.5 0 15 0-21 0 37.5 1 1.5 0-2 1-4.5 .5 21.5 0-20 0 9 1 6.5 .5-6.5 0-2.5 .5 4 .5 3.5 .5-3.5 .5-12.5 0 16.5 .5-22.5 .5 22.5 0 1 .5-27 1 6.5 0 28.5 0 3 .5-28.5 .5 19.5 .5 9 0-4.5 .5-19 .5 12.5 .5-.5 0-13.5 .5 13 .5-25 0 15.5 .5 6 0-23.5 .5 22.5 0-18 1 10.5 .5 4 0-33.5 .5 23.5 0 2.5 .5-2.5 .5-37.5 0 45 .5-6.5 .5-15 0 6 .5-.5 0-23.5 .5 25.5 .5-23.5 0 16 0-6 .5-80 0 81 0-4 0-29.5 0 12.5 1 2.5 0 5 0-19.5 0 27 .5-30 0 10.5 .5-4 0 8.5 0-60 .5 0 0 13.5 0 48.5 .5-13 1 2.5 0-.5 0-13.5 .5 21.5 .5 2 0 4.5 0-30.5 1 29 0-4 0-9.5 .5 2.5 0 15 .5-3.5 0-19 1 19.5 0-6 0-7 .5 9 0-2 .5-18 0-25.5 .5 53.5 1-8 .5-10 0 22.5 0-73.5 0 29 .5 38 0 1 .5 7.5 .5 .5 0-9.5 .5 16.5"/>
<path class="so" d="M962 891.7L962 825.4L964 824.8L966 816.9L968 820.6L970 820.3L972 828.7L974 843L976 854.2L978 840.6L980 852.9L982 860L984 868.2L986 868.8L988 872.6L990 870.8L992 868.8L994 872.6L996 871.5L998 880.7L1000 886L1002 889L1004 889L1006 889.5L1008 881.8L1010 857.6L1012 836.8L1014 821.5L1016 837.5L1018 828.3L1020 839.6L1022 833.7L1024 839.4L1026 833.9L1026 891.7Z"/>
<path class="mo" d="M961.5 826l.5-7 .5-34.5 0 39 .5 2.5 0-29 .5-7.5 .5-39 0 77 .5-60.5 0-30.5 0 36.5 0-44 0 95.5 0-30 0 11 0-53.5 0 2 0-5 0 15 0 22 0-44 0 72.5 0-35.5 .5 18 0-50 0 11.5 0-37 0 63 0-24 0 28 0-70 0 84 0-3 0-23 0-53 0 22 0 25 .5-1.5 0-12.5 0 5.5 0-30.5 0 2.5 0 41 0 16.5 0-65.5 0 55.5 0-42.5 .5 58.5 0-11.5 .5 29.5 0 2.5 0-13.5 0 7 0-98 0 67.5 0-56.5 0 78 0-61.5 0 73.5 0-79 0 58 0-21 .5 18 0-62.5 0 61 0-20 0-5.5 0-32.5 0 17 0 53 0-3 0-76.5 0 57 0 4.5 0-30 0 9 0-3.5 0-25 .5 40.5 0-8 0-21 0 50.5 0-52.5 0 34 0-39.5 0-19 0 53 0 28.5 0-44 0-5 .5 60.5 0-95 0 70 .5 33 0-65 0-21.5 0 43.5 0-47.5 0 62 0-60 0 10 0 8 0-3 0-9.5 .5 2 0 41 0-52 0 75 0 12 0-46 0-24.5 0 8 0 28 0 1 0 12 0-30 .5 58 0-60.5 0-14.5 0 25 0-5.5 0 8.5 0 22.5 0-8 0-31 0 26 0-57.5 0 73.5 0-56 .5-1 0 76.5 .5-9 0 4.5 0 2 1 16 0-19.5 .5 16 .5-52.5 0-8 0 65 .5-10.5 0-41.5 .5 43 0-3 0 10 .5-1 .5-2.5 0 21.5 .5-35.5 0 31 .5 4.5 .5-62.5 0 65 .5-10.5 .5-13.5 0-20.5 .5 30 0-2.5 1-5.5 .5 15.5 .5-5.5 0-26 0 38.5 .5-20.5 1 19.5 .5 3.5 .5 5 0-2 0-38 .5 25 .5-21.5 0-81 0 28 0 2 .5 91.5 0-111 0 1.5 0-13.5 0 126 .5-127.5 0 19.5 0-2.5 0-11.5 0 11.5 0-9 0 17 .5 96.5 0-99 0 12.5 0-24.5 0 16.5 0 2 .5 94.5 .5 6.5 .5-122.5 0 23 0 57.5 0-70 0-8.5 0 81.5 0 36.5 0-95 0-6.5 .5-14 0-10.5 0 26.5 0-22.5 0-6.5 0 0 0 47.5 .5-44.5 0 19 0 1.5 0-7 0 118 0-86.5 1-29.5 0-14 0 3 0 14 .5 116 0-20 0 19 .5-127.5 0 24.5 0-18 0 113.5 0-104.5 0 2.5 0-14.5 0 112.5 .5-95 .5 98 0 6 .5-8.5 0-95 0-1.5 0 105 .5-115.5 0 103 .5-100 0 13.5 0-10.5 0 8.5 0 4 0-10 .5 70.5 0-81.5 0-1.5 0 110 .5 9 .5-45.5 0 5 0-64 0-7 0-5 0 14 0-4 .5-7 0 113.5 .5-31 0 30.5 .5-100 0-8 0 108.5 0-13.5 0 14.5 .5-37 .5-78 0 10 0-6.5 .5 3 0 45.5 0 65.5 .5-116 0 36 0 78 0-107 1 66.5 .5 48 .5-16 0 6.5 .5-31.5 .5 46.5 .5-2 0 4.5 0-40 1.5 38.5 .5-1 .5-16 .5 16.5 .5-39 0 41 1.5-10 0 7 .5-36.5 .5 40 0-42 1 33.5 0 2.5 1 1 .5-21 .5 4.5 .5-5.5 0-1.5 .5-6 0-54.5 .5 3.5 0 42 1-3.5 0-23 .5-1.5 0 12.5 .5-13 0 9.5 .5-16.5 .5 14.5 .5-3 0-10.5 .5 13 0 .5 .5-10.5 .5 0 0 24.5 0-8.5 1.5-38.5 0 24.5 0 8 .5 4.5 0 2.5 .5-11.5 0-23.5 0 24 1-13.5 0 20 .5 4 0-66 0 73.5 .5-32 0 25 0-9 .5 4.5 .5 3 0-8 .5 .5 .5-31 .5 16.5 0 20.5 .5-6.5 0 7 .5 9.5 .5 2.5 0-22 0 20 1-68 0 69.5 .5-12 0 7.5 .5-14.5"/>
<path class="sb" d="M1025 891.7L1025 853.9L1027 858.1L1029 862.9L1031 865.9L1033 860.7L1035 866.6L1037 861.2L1039 852.8L1041 850.9L1043 834.7L1045 835.4L1047 831.1L1049 841.1L1051 834.5L1053 840L1055 839.5L1057 825.8L1059 819L1061 826.3L1063 809.9L1065 815.8L1067 815.1L1069 812.6L1071 819.1L1073 812.1L1075 810.3L1077 802.6L1079 818L1081 815.3L1083 810.2L1085 819.9L1087 818.7L1089 813.9L1090 891.7Z"/>
<path class="mb" d="M1024.5 851l1-2.5 .5 5.5 1 3.5 .5 2 0-6.5 1 5.5 1 8 0-22 0 20 0-2.5 .5-7 1-3.5 0 13 1.5-14 0 4 0-2.5 1 2.5 .5-3.5 0 3.5 .5 1 0-3 .5 15.5 .5-28.5 0 .5 .5 25 0 .5 1-25.5 0 15.5 .5 1 .5-6.5 0-14.5 .5-12 .5 27 0-24 .5 19 .5-17 .5 24.5 .5-11 0 10.5 .5-17 0 2.5 .5-.5 0-5 .5-4 0-28.5 .5 20.5 .5 18 .5-5.5 0-46 .5 9 .5 43 .5-86.5 0 37 .5 35 .5 9 .5-8 0 2.5 0-12.5 1 15.5 0-3.5 .5-.5 0 17.5 .5-90.5 0 86.5 .5-13 .5 7.5 .5-2.5 .5-37 0 33.5 0 7.5 .5-50 .5 43.5 0 8.5 0-22 1-59.5 0 82 0-46.5 .5 35.5 0 12.5 .5-32.5 0 25 0-2.5 1-43.5 0 56.5 .5-9 0-14.5 .5-38 0 6.5 0 35 .5 4 .5-9 .5-45.5 0 56.5 0-21 0-53 .5 53 0-22 .5 24.5 .5 9.5 0-4.5 .5-15.5 0 18 0-13 0-41 .5 54.5 0-13.5 .5 6 .5-44.5 .5 34 0 9.5 0-.5 .5 9 0-38 .5 21 0-21.5 .5-27 .5 58 0-17 0 3.5 0 3.5 0-27 .5 23.5 0 4.5 1 17 0-3 .5-49 0 15.5 .5-5.5 0 36.5 .5-4.5 0 7.5 .5-11.5 0-6.5 .5 18 .5-26 0 17 .5-8.5 0-44 0 59.5 .5 0 1 4.5 0-4 .5-59 0 60 .5-45 0 48 0-60.5 .5 50 .5-17.5 0 11 .5-8.5 0 2 .5-14 0 25 0-6 1-5 .5 1.5 0 13 0 3 0-7 1-7 0-3.5 0 2 .5-45.5 .5 6 0 39.5 .5-10.5 .5 10.5 .5 3 0-12.5 0 7.5 0 6 .5 11 .5-5 0 12.5 .5-32.5 .5 30.5 0-11.5 1-3 .5 1.5 0-26.5 0 9.5 0 11.5 0-4 0 12.5 1-10.5 .5-4 0 3 0-14.5 0 15 .5 20.5 .5-1.5 .5-16 0 9.5 .5-8 0 6 .5 13 0-17 .5 .5 0 3.5 0 9 0-8.5 .5 12 0-16.5 1-3.5 0 6 0-14 0 17.5 .5-12 .5-4 0-40.5 .5 51.5 0 9.5 .5-15 0 1 .5-34.5 0 43 0 0"/>
<path class="so" d="M1089 891.7L1089 815.9L1091 827.4L1093 840.1L1095 825.3L1097 835.3L1099 837.7L1101 836.9L1103 823.9L1105 825.1L1107 832.9L1109 827.9L1111 820.6L1113 832.4L1115 860L1117 879.5L1119 883L1121 880.7L1123 879.2L1125 882.4L1127 880.2L1129 880.9L1131 880.2L1133 880.2L1135 878.1L1137 880.1L1139 882.9L1141 881.9L1143 878.7L1145 880.8L1147 864L1149 845L1151 812.8L1153 817L1155 816.7L1157 811.7L1159 813L1161 811.3L1163 815.7L1165 822.6L1166 891.7Z"/>
<path class="mo" d="M1089 818.5l0-20.5 .5 16 .5-2 1 1.5 0-32.5 .5 44.5 0-6 .5-19.5 0 25 .5 6.5 0 3 0-2.5 .5 8.5 .5-21 0-4.5 .5-33 0 51.5 0 .5 1-22.5 .5 5 0 8 0-5 0-4 .5 16.5 0-46 1 42.5 0-4.5 .5 5.5 0-31 0 31 1.5-2.5 0 14 0-17 .5 7 0 2 .5-23.5 0 22 .5 2 .5-50.5 0 53 .5-44.5 .5 32 0-6.5 .5 1 .5-1.5 0-27 0 32 1-8 0-34.5 .5 18.5 0 28.5 0-9 .5 5.5 0-7 .5 3 .5 6.5 0-37.5 .5 31 .5 7.5 0 7 .5-8.5 .5-5 0 10 0-9 0-20.5 .5-2.5 0 7.5 0 17.5 0-27.5 0-2 .5-4 0 7.5 0-6 0 40 0-28.5 .5 2 .5 22 0-16.5 0 4.5 .5-16 0-11.5 0 23 0 0 .5-17 0 27.5 0-6.5 .5-23 0 4.5 0 6 .5-12.5 0 18 0 16 .5 3 .5-18.5 0-14.5 0 39.5 .5 8 0-42 0 23 .5-32 0 2 0 8.5 0-4.5 .5 45.5 0-2 .5 24.5 0-13.5 .5-55 .5-3.5 0 78.5 0-36 .5-34.5 0-3 0 44 .5 40 1 4.5 .5-9.5 0-81.5 .5 91.5 .5-88.5 0 83 .5 5 0-8 .5 6 .5-20.5 0 17 1.5-37.5 0 36.5 0 .5 0-27 1.5 28.5 .5-4 0 7.5 .5-61 0 54.5 .5 8 .5-23.5 1-32 1 50.5 .5-10 .5-24.5 0 39.5 .5-8.5 1 3.5 0 2 .5-12 .5-2 0 14 1.5 1.5 .5-36.5 .5 31 1-1.5 0-27 .5-146 .5 126 0 53 .5-22 0 20 1-15 .5 16.5 .5-132 .5 103 0 33 1-2.5 .5-58.5 0 58 .5-45 .5 40 1 2.5 .5-38.5 0 34.5 1-140.5 .5 141.5 0 5.5 .5-1 .5-6 .5 1 0 1 .5-36.5 1 26 .5-14.5 .5-28.5 0 23.5 .5-67.5 0 36.5 .5 27 0-16.5 0 1.5 .5-13.5 0-6.5 .5-6 .5-4.5 0 10 .5-43.5 0 48 0-1 .5-33.5 0 39 .5-34 0 24 0-8.5 .5-11.5 .5 18.5 0 12.5 .5-37 0 14 0 22 .5-26.5 0 12.5 0-5.5 .5-7.5 0 5 0 16 .5-15 0 3.5 0-6.5 .5-49.5 0 22 .5 48 0-.5 .5-20.5 0-39 0 33.5 0 7 .5 16.5 .5-11 0-11.5 0 14 0-5.5 .5 18 .5-35 0 14.5 0-23 0 33.5 .5-3.5 .5 2 0 8.5 0-67.5 .5 61.5 0 .5 .5-25.5 0 22 .5-3.5 0 8 0-20 .5 15 0 8 .5-24 0 30.5 0-2 0-8 1-49.5 0 46.5 0-4 0 20 .5-49 0 38.5 .5-13 .5 19 0 1.5 .5-7.5 0-27.5 0 32 .5 9 .5-12 0-55 0 63.5"/>
<path class="sb" d="M1165 891.7L1165 810.7L1167 812.9L1169 815.6L1171 809.3L1173 816.6L1175 800.6L1177 803.7L1179 807.7L1181 811.4L1183 811L1185 803.2L1187 815.8L1189 810L1191 833.6L1193 849.8L1195 870.3L1197 872.4L1199 877.6L1201 873.8L1203 873.4L1205 874.4L1207 873.6L1209 874.9L1211 874.3L1213 876.1L1215 863.1L1217 859L1219 831.7L1221 828.2L1223 824.9L1225 836.1L1227 830.7L1229 846.8L1231 836.1L1233 846.2L1235 843.2L1237 832.5L1238 891.7Z"/>
<path class="mb" d="M1164.5 711l.5 96 .5 3.5 0-52 .5 9 0 39 .5-6 .5-.5 0-3 .5-25 0-22.5 0 58 0 12 .5 0 .5-3 0-70.5 0 56 .5-16 0-43.5 0 64 0-8 1 17.5 0-18 0-4 0-19 .5 21 0-11 0 9.5 .5 0 .5-.5 0 4 0 10.5 .5-12 0-15 1.5 32.5 0-53.5 0 46.5 0-16.5 .5 12.5 .5-5 0-27 .5 20.5 0 9.5 .5-7.5 0-15.5 .5 19 .5-3.5 0-16.5 0 28.5 0-22 .5-.5 0 16 .5 2 1-4 0-20 0 13.5 .5-17 0 24 0-75.5 0 79 .5-13 0 4 .5 22 0-48.5 .5-43.5 0 71.5 0 1.5 0-48.5 .5 40.5 0 15.5 .5 4.5 0 5.5 .5-6 0-1.5 0-31 0-9.5 0 34 1 16 0-17.5 .5-41.5 0 52 .5-42.5 0 34 .5 3 0-18.5 0 15.5 .5 1.5 0-28.5 1 35.5 .5-3 0-19.5 0 31 .5-8.5 0-7 0-17.5 .5 30 .5-27 .5 16 .5-3.5 0 9 0-19 .5 7 0 .5 0 19.5 .5-39.5 .5 41.5 0-16.5 0-24 0 57.5 0-12.5 1 23 0-5.5 .5-19 0-68.5 1 91.5 0 9.5 .5-30 .5 14 .5 13 0 14.5 1 4.5 .5 7 .5-45 0 4.5 0 39 0-3 1-86 .5 85.5 0-1 1-53.5 0 40.5 0 20.5 1-3 .5-16.5 0-92.5 0 107 1.5-.5 .5-42.5 0 42.5 0-2.5 0 2 .5-2.5 1 .5 0 3.5 1-3 .5 8 .5-8 .5-3.5 0 3 1 4.5 0-8.5 .5-38.5 .5 51.5 0-136 0 134.5 0-44 .5 39 1 4.5 .5-118 .5 112.5 0-5.5 0-70 1 51.5 0 32 0-3.5 .5 .5 1-4.5 .5-19 .5 22.5 .5-19 0-1 0 9.5 .5-1.5 .5-11 .5-21.5 0 15.5 0 7.5 1 6 .5-35.5 .5-30 0 45.5 0-34.5 0 28 .5-6 .5-7.5 0 3.5 .5-5 .5-30 0 40.5 .5-34.5 .5 33.5 .5 3 .5-12 0 3 .5-7.5 0 8.5 0-14 .5 22.5 .5-36.5 0 30 .5 8 0 2.5 1-57.5 0 50 1-62 0-10.5 .5 69.5 .5-6 0 12.5 0-1.5 .5 11.5 0-2.5 0-19 .5-21 0 34 .5 13.5 .5-7 0 5.5 .5-58.5 0 54.5 .5-9 0-18 0 15.5 .5-72.5 0 68.5 .5 5 .5-33 0 42 .5 9.5 0-61.5 .5 50 0 10 1.5-6.5 0-76 .5 78.5 0-34 0-16.5 .5 48.5 .5-68 .5 56 0 1 0 1 0-21.5 1.5 13.5 0 4.5 0 10.5 .5-63.5"/>
<path class="so" d="M1237 891.7L1237 817.2L1239 803.8L1241 810.4L1243 809.1L1245 805.7L1247 813.3L1249 802L1251 810L1253 837.4L1255 863.9L1257 877.8L1259 877L1261 883.1L1263 882L1265 876.9L1267 877.6L1269 880.3L1271 875.4L1273 879.3L1275 879.4L1277 844L1279 818.5L1281 804L1283 809.1L1285 816.4L1287 810.5L1289 807L1291 796.3L1293 797.6L1295 796.3L1297 805.3L1298 891.7Z"/>
<path class="mo" d="M1237 816.5l0 1.5 0-62 .5 43 .5-4.5 .5-26 .5-13 0 49 0-7.5 0-16.5 .5 11.5 .5 11.5 .5-35 0 35 .5-28.5 0 25.5 .5 2 0 7 .5 1 0-19 0-15 1 4 0 32 .5-5 0-10.5 0 3.5 .5 3.5 0-51.5 .5 14.5 0 15 0 12.5 .5 9 0-50.5 1 57 0-13.5 0 0 .5-10 0 29.5 .5-42.5 .5 29.5 0-12.5 0 11.5 1-6 0 11.5 0-20.5 .5 19 .5-11 0-42 0 39.5 1-38 0 47.5 0-18 .5 11.5 0 1.5 0 4 1 5.5 0 7.5 0-4.5 .5-.5 .5 29 0-29.5 0 28 1 18 0-12.5 .5-1 0 10 0 8 .5-8 0 15.5 .5-5.5 .5 16.5 1 1.5 0-30.5 0 12.5 1 20 0-39.5 .5 8.5 .5 24 .5-2.5 0-23 .5 35 .5-48.5 .5 26 .5 19.5 0-34.5 .5 36.5 .5-2.5 0-11.5 1 16 0-16 .5-15 .5 26 .5-20 .5 17.5 .5-3.5 .5 3.5 0-29.5 1 28 0 5.5 1-21 0-12.5 0 28 1 3.5 .5-25 0 24 .5-2 .5-5 .5 3 .5-1.5 .5-34 0 37 0 4 1-14 .5 13.5 .5-1 .5-14 0 19 1-38 .5 14 0-26 .5 11.5 0-38.5 .5 31.5 0 1 0-16.5 .5 2.5 .5-18.5 .5-7 0 5.5 0-2.5 .5 6 0-17 .5 9.5 0 4 .5-25 0 19.5 0-36.5 0 16 .5 23.5 0-16.5 .5-16.5 0 10 0 28 0-37.5 .5 20.5 .5-55.5 0 62 .5-6 0 10 0-17 0 20 0-19 .5 30 0-6.5 .5-50 0 47 .5-16.5 0 3 0-21 0 24.5 0 7 .5-1.5 0-56.5 0-18 .5 8 0 3 0-8.5 0 18.5 0 2 0 53 .5-1.5 0 12 0-73.5 0 2 0 48.5 .5-58.5 0 70.5 0-3.5 .5 13.5 0-21.5 0 10 .5-43 0 39.5 0 3.5 .5-30 .5 20 0-47.5 .5 65.5 0-9 0 9 .5-60.5 .5 27.5 0 22.5 0-10.5 1-1 0 8 0-40 .5 34.5 .5-11 0 20 0-39 0 23 0 8.5 .5 5.5 0-15 .5 14 0-13.5 1 6.5 0 12.5 0-74 0 46.5 0 10 0-29 .5 39 .5-4 .5-49 0 53 0-21 0 22 1 9 0 0 1-41.5 0 30 0 6 0 6 1-22 0 27.5 0-19"/>
<path class="sb" d="M1297 891.7L1297 791.9L1299 802.4L1301 803.4L1303 808.5L1305 799.2L1307 794L1309 792.7L1311 804.7L1313 815L1315 834.9L1317 843L1319 847.2L1321 858.3L1323 878.9L1325 881.4L1327 878.6L1329 875.7L1331 877.4L1333 877.8L1335 880.2L1337 876L1339 878.9L1341 878.4L1343 878.2L1345 882.5L1347 879.6L1349 862.4L1351 845L1353 829.5L1355 824.7L1357 816.5L1357 891.7Z"/>
<path class="mb" d="M1297 764l.5 16.5 0 10 0-10 0 3.5 .5-20.5 0 20.5 0-30.5 .5 19.5 0 25 0-17 0 1.5 1 10 0-24.5 0 23.5 0-10 .5-22.5 0 20 0 11.5 0-43 .5 42 .5-21 0 12.5 0-2 .5 25 0-37 0 18.5 0-12.5 .5 28 .5-20 0 21 0-14.5 .5-29.5 0 51 0-25.5 0 4.5 .5 2.5 0-14.5 .5 26 0 2.5 .5-19 0-1.5 0 .5 .5-13.5 0 16 .5-12.5 .5 3 0 9 0-8.5 .5-3.5 0 23.5 0-23.5 .5 18.5 .5-10 0-6 0-25.5 0 4 .5 42.5 0-18.5 0-2.5 .5-.5 0 16 1-5.5 0-16.5 0 14 0 2 .5 11 .5-3 .5-18 0 27.5 0-31.5 .5 24 0 3.5 1-8.5 0 15 0-19.5 .5 7 0 16 0-63 1 76 .5-3.5 0-10 0 14.5 0 7 .5 7 .5-2 .5-7 0-.5 .5-16.5 .5-8.5 0 36.5 .5 4 0-15.5 .5 10.5 0 2 .5-26 0 20.5 1 14 0-5 .5 7 0-40 0 34 .5-64 .5 60.5 0 9.5 .5-1.5 0-38.5 .5 53.5 .5-29.5 0-3.5 0 46.5 1-26 0-9 .5 37.5 1 1.5 .5-2.5 0-4.5 0-43.5 .5 52 .5-2.5 .5-10 1-49.5 0 51.5 .5-10 .5 14.5 .5 1 .5-27 1 5 0-28.5 0 48.5 1.5-1.5 0 1.5 0-2 1 6.5 0-12.5 .5-21 .5 28.5 .5-.5 0 5.5 .5-5.5 0 0 0 1 1-43.5 .5 43.5 1 0 0-33 .5-23.5 0 0 .5 31.5 .5 30 0-4.5 0-53 1 16 .5 35 .5-6 .5-10 .5 16.5 .5-.5 .5-1.5 0 .5 .5-40.5 .5 45.5 .5 4 0-20.5 .5 18.5 0-24.5 .5 8.5 .5 11.5 1 6.5 .5-14 0 10 0-4 .5-12 .5-36.5 0 36.5 1-20 0 9 1-55.5 .5 43.5 0 4.5 0-28.5 .5-55.5 0 12 0 61.5 0-6 .5-11.5 .5 10 0-4.5 .5-10.5 0 0 0-7 1 6.5 0-2 .5 6.5 0-24 .5 36 0-8.5 0-37.5 .5 39.5 0-8.5 0-17 0 22 0-18 .5 7 0 12 .5-55.5 0 40"/>
<path class="so" d="M1356 891.7L1356 815.6L1358 827L1360 831.4L1362 834.6L1364 822.2L1366 837.1L1368 828.2L1370 823.9L1372 837.5L1374 846L1376 827.8L1378 838.1L1380 840.7L1382 837.8L1384 835.8L1386 838.2L1388 830.3L1390 838.1L1392 843.5L1394 842.2L1396 826.4L1398 836.6L1400 839.6L1402 826L1404 829.7L1406 838.4L1408 841.2L1410 840.2L1412 830.6L1414 829.5L1416 799.2L1418 811.7L1420 806.4L1422 817.2L1424 806.7L1426 801.9L1428 798.4L1430 810.3L1432 818.9L1434 817.2L1436 812.4L1438 806.6L1440 816.2L1442 812.6L1444 818.9L1444 891.7Z"/>
<ellipse cx="1405.2" cy="860.3" rx="8.7" ry="20.6" fill="#fff"/>
<path class="mo" d="M1356.5 786.5l0 27 0-7 .5 14.5 0 1.5 .5-24 .5 16 .5 13 0-8.5 0-11 0 2 .5 16.5 0 7 .5-16 0 11 0-17.5 .5 15.5 .5-3.5 .5 6 0-10.5 0-10 .5 29.5 0-15 .5-10 .5-13.5 .5 26 0-1.5 .5-18.5 .5 5.5 0-6 0 5.5 0 0 .5-24 0 40 .5-7 0 1 .5-3.5 0 15 .5-5.5 .5-13.5 0 7 1-.5 0-8 0-14.5 0 9 .5 8.5 0 1.5 0-1 .5 11.5 .5-18.5 .5-1.5 0 3 0 5 .5-21.5 0 13.5 0 8.5 1 6 0-3 0-33.5 .5-10 .5 65.5 .5-66 0 58.5 .5 4 .5 3 0-17.5 0 23 .5-7.5 .5-31.5 0 22 .5-11 .5 5.5 .5-5.5 0 6.5 .5 3 0-37.5 0-16.5 1 57 0 2.5 .5 5.5 1-8 .5 8.5 0-58.5 0 7.5 .5 41 0 13.5 .5-22.5 0 12.5 .5-67 .5 63.5 0 3 0-2.5 0-20.5 .5 23 .5-4.5 0 6.5 .5-8.5 0 6.5 .5-21.5 .5 25 .5 1 .5-4.5 0-18 .5 20 0 .5 1-20.5 0 18 .5-16.5 0 19.5 0-9 1 4.5 .5-10 0 14.5 0-36.5 .5 38.5 0-10.5 .5 3 .5-7.5 0-10.5 .5 30 0-51 1 40.5 0 3.5 .5-69 0 79 0-5 .5-42.5 0 19.5 0 13.5 .5 5.5 .5 8.5 0 1.5 0-50 0 47 1.5-31 .5 14 0 3.5 .5-3 0-2 0-3 0 54 .5-56.5 .5 24 0-16.5 .5-18 .5 61 0-40.5 .5 .5 0 3 0-25 .5 35 0-21 .5 56.5 0-43.5 0 3.5 0-10.5 .5 12.5 0 41 1-46 0-3.5 .5-15.5 0 46.5 0 2 .5-36 0 1 .5-20 .5 17.5 .5-4 .5 20.5 0-14.5 .5-3.5 .5-12 0 46.5 .5-23.5 0-7.5 0 9.5 .5-.5 0 30 0-48 .5 56 0-52 .5 15.5 0-.5 .5-7.5 .5-21.5 0 31.5 .5 18.5 0 4.5 0-30.5 .5-8.5 .5 15 0-12 0 2 .5 9.5 0-6.5 0 39 1-48.5 0 43 0-43.5 .5 1 0-5 0 0 .5-.5 .5 37 0-39 .5-3.5 0 34.5 .5-30.5 .5 4.5 0 0 0 24 0-15 .5-8.5 .5-8.5 0-31 .5-21 0 33.5 .5 1.5 .5-11 0-13.5 .5 28.5 .5 4 0-19.5 .5 19.5 .5-1.5 0-55.5 .5-4 0 48.5 0 13 1-.5 .5-7.5 0 13 0-47.5 0 52 0-49.5 .5 29 0 20.5 1-6 .5-16.5 0 20 0 4 .5-7 0 8 0-71.5 1 60 0-56.5 0 45 0-55 0-3 0 29.5 0-43.5 0 35 0 32.5 0-65 .5 8.5 0 18.5 0 41 0-51 0 55.5 .5-67.5 0 14.5 0 3 0 45.5 0-46 0 8 .5-28 0 62 .5 10.5 0-26 .5 19.5 0 1.5 .5 9 .5-22.5 .5 19 .5-9.5 .5-15 0 21 .5-7.5 0 19.5 0 .5 0-39 .5 38 .5 8.5 0-23 .5 10 .5 16 0-36 0 16 .5 13 0-13.5 0 2 0-49 .5 45 .5 7 0 7 0 6.5 1-1.5 0-10.5 0-46.5 .5 9 0 52.5 .5-25.5 0 20 0 5 .5-44.5 0-24.5 .5 59 .5-5.5 .5-36 0 30.5 0-1.5 .5 9 0-26 0 22.5 0-9 1 0 0-20 .5 22.5 .5-6 0-8.5 0 26 .5-13 .5-48.5 0 65.5 0-9 0 8 .5 3.5 0-28 0-4 0 29 .5-17 0-20.5 .5 26.5 0-7 0 24 .5-5.5 0 5 .5-40.5 0 27.5 .5-8 0 24 .5-17.5 0 18.5 0-72 .5 20"/>
<path class="sb" d="M1443 891.7L1443 840.6L1445 844.9L1447 844.4L1449 844.8L1451 852.1L1453 851L1455 860L1457 862L1459 870.6L1461 872.7L1463 872.2L1465 875.4L1467 875L1469 874.4L1471 877.2L1473 876.6L1475 873.1L1477 871.6L1479 870.3L1481 876.1L1483 872.9L1485 863.1L1487 845.1L1489 822.2L1491 820.5L1493 830.7L1495 825.3L1497 835.4L1499 831.9L1501 826.5L1503 821.4L1505 814.5L1507 818.9L1509 822.2L1511 827.4L1513 821.9L1515 824.8L1515 891.7Z"/>
<path class="mb" d="M1441.5 767l1 21.5 .5 53 1-41 .5 41.5 0-10.5 .5 7.5 .5 5 0-4 .5-36 0 33 .5 7 1-22.5 0 18.5 .5-2.5 0 1.5 .5-64.5 0 62.5 0 1.5 1 7 .5-11.5 0 12 0-31 .5 25.5 1 7 0-28 .5 27.5 .5-1 .5 4 0-70 0 63 .5 13 .5-89 .5 53 0 30 0-9 .5 15 .5-22 .5 23.5 0-48 .5 51.5 .5-2 .5-37.5 0 47.5 0-9.5 1 1.5 0 4.5 .5 1 .5 3 0-22.5 .5 22 0-9 1 16.5 0-21.5 .5 15.5 0-6 1.5 3 .5 3.5 0-4.5 .5 3 0 2.5 .5-7.5 .5 11 .5-4 .5-.5 .5 3 0 5 .5-5.5 0-17 .5 10 .5-8.5 0 12 1 5.5 0-5 0-15 1 17.5 0-7.5 .5 3.5 0 8 .5-12 1 14.5 0-13.5 .5 9 .5 2 0-6 0 0 1.5 6 0-14 0 4.5 1-2 0 3.5 .5 0 0 0 0-4 1 9 .5-8 0-6 .5 8 .5 .5 0 2 .5-2.5 0-2 .5-18 .5 23.5 .5-6.5 1 8.5 0-2 0-30.5 1 34 .5-33.5 .5 23 0 12.5 0-12.5 0-5 1-20 0 20.5 .5 6 0-16.5 .5-22.5 0-65 .5 82.5 .5 8 0-32 1 24.5 0 3.5 0-43 .5 15.5 0-11.5 0 14 1-23 0 20.5 .5-10.5 0 5 .5-2 0-7.5 0-4.5 1 7.5 0 0 0 6.5 1-2.5 0 4.5 .5-1.5 0 9.5 .5-25 0 20.5 0-39.5 .5 48 0-6 .5-18.5 0 6.5 1 17.5 0-1 0-52 .5 39.5 0-9 0 7 .5 5 .5 9.5 0-47.5 .5 40.5 0 9 .5 3 0-9 .5-2 0 3 .5-21.5 0-28 .5 55.5 .5-10 0-1 .5 2.5 0 4.5 1 2.5 0-33.5 .5 30.5 .5-6.5 0-17.5 .5 22.5 .5-20 0 19.5 0-47.5 .5 36.5 0-3 .5 7.5 1.5-21 0 10 0-27 0 30.5 .5-.5 0-27.5 1.5 39 0-7 0-3.5 .5 12.5 .5-7 0-15.5 0-23.5 .5 42 0 0 .5-7 .5-36 0 43.5 0-48.5 .5 57 0 .5 .5-1.5 0 2.5 .5-63.5 0 49 0-7.5 0 1 1-22.5 0 25.5 0-5 .5-28 0 36.5 .5-4.5 0 6.5 1-83 0-6.5 0 90.5 0-93 0 46 0-51 .5 23.5 0-31.5 0 104.5 0-75.5 0 7.5 0 72 0-105.5 .5 92.5 0-71.5 0-18 0 4.5 0 16.5 0 6.5 0-14.5"/>
<path class="so" d="M1514 891.7L1514 830.5L1516 846.8L1518 839L1520 831.2L1522 838.8L1524 832.7L1526 853.4L1528 875.3L1530 885.6L1532 885.5L1534 884.9L1536 886.6L1538 884.2L1540 884.8L1542 884.1L1544 884.2L1546 886L1548 884L1550 885.7L1552 887.3L1554 885.3L1556 884.7L1558 883.3L1560 885.5L1562 860.1L1564 834.6L1566 818.8L1568 828L1570 842.6L1572 836.4L1574 830.2L1576 828.3L1578 822.2L1580 823.7L1582 822.5L1584 832.4L1586 829.2L1588 834.4L1590 831.1L1590 891.7Z"/>
<path class="mo" d="M1514 820l.5 5.5 0 11.5 0 3 0-51 1 51.5 .5-94 0 100.5 .5-113 .5 102.5 .5 10 0-6.5 .5-2.5 0-87.5 1 57 0 24 0-5 .5-51.5 .5-12 0 64.5 1 0 0 2 0 8 0-77 .5 76 .5-57.5 1 43.5 0-89 0 96 .5-.5 .5 2 0-7.5 .5-26 .5 38.5 0 10 0-30.5 .5 39 0-8.5 1 0 0-56.5 .5 75.5 0-60.5 1 69.5 0-55.5 .5 68.5 1-55 .5 23 .5 31.5 .5-20.5 .5-15.5 1 37.5 0-60 .5 58 .5-53.5 .5 56 .5-55.5 .5 43 0 13 2-3 0-33 1-22 0 56.5 .5-10.5 .5 12.5 1-1.5 0-7 1 1 0 1 1-17 .5 18.5 1-52.5 0 52 .5-20 .5-25.5 .5 46 1-4 0 9 .5-2.5 .5-55.5 .5 43 0 11.5 1.5-2 0-47 .5 18.5 1 31.5 0-33 1 29 1-36 0 42 .5-3.5 1.5 2 0-19 .5-12.5 1.5 32 0-3.5 .5 2 0-8 1 3.5 .5 1.5 1-13.5 0 18 1-8.5 0-7.5 .5-2 0-1.5 .5-59.5 0 44 1.5-13 0 3 0-92.5 .5 80.5 .5-2 0-3 0-45 .5 28.5 0-3 .5 7.5 0-4 .5 3.5 0-4 0 .5 1-58.5 0 66 0-62.5 .5 70.5 0-10.5 1 0 0 3.5 .5 3 .5-51.5 0 60.5 .5-5.5 0-.5 0-4 .5 20.5 0-144.5 0 59 0 69 0 3.5 0 7 .5-5 .5-9 0 10 .5-39.5 .5 32 0 15.5 .5-19.5 0-49.5 0 47 .5 20.5 0-16.5 .5 3 0-3 .5-40.5 .5 49.5 0-21 0 16.5 0 7.5 .5-11 0 12.5 .5-52 0-24 .5 62 0-2 0-3.5 .5 8.5 .5-54 .5 59 0-23.5 0 13 1-2 0-7 0 16.5 1-17 0 14 .5-.5 0-11 .5-8 .5 18 .5-11 0 6.5 1 2 0-44.5 0 9.5 .5 43 1-36.5 0 36.5 .5-2.5 0 11.5 0 0 .5-17 .5 8 0-57 0 44 1 14 0-39 0 37.5 .5 0 .5 .5 0-70 .5 82 .5-9 .5-29 0-32.5 0 65.5 0-16 .5-.5 .5 7.5 0-15 0 3"/>
</g>
<g id="pc">
<path class="sb" d="M185 1339.5L185 1327.4L187 1324.6L189 1323.9L191 1325.1L193 1323.2L195 1325.7L197 1327.9L199 1327.9L201 1331.4L203 1331.4L205 1329.2L207 1331.4L209 1332.5L211 1331L213 1331.8L215 1333.8L217 1332.8L219 1333.5L221 1332.5L223 1332.4L225 1334L227 1330.4L229 1332.4L231 1333.4L233 1334.2L235 1333.4L237 1328.6L239 1328.8L241 1329.7L243 1331.9L245 1333.3L247 1332L249 1331.5L251 1329.4L253 1325.1L255 1321.8L257 1328.1L259 1324.3L261 1322.6L263 1324.8L265 1324.5L267 1319.9L269 1323.2L270 1339.5Z"/>
<path class="mb" d="M185 1330.5l1.5-6 .5-2 .5-.5 1.5 1.5 .5-2.5 .5 2 1-.5 .5 3.5 1-3 1 .5 .5-3.5 0 6 1 3.5 1-2.5 1.5 4.5 .5-4.5 1 1 1.5 4 .5 0 1 0 .5-3 .5 6 2-2 .5 1 2-3.5 .5-1.5 0 3.5 1 1 1.5-1.5 1-3 .5-.5 .5 4 1.5-1 1 4.5 .5-3.5 0 2 1-.5 .5-8 1.5 3 0 4.5 2-2.5 1-1 0 4.5 1-1.5 1-2 .5-4.5 1 7.5 1-3.5 1.5 1.5 0-1 1 1 .5-1 2-4 0 6.5 1.5 1 1-.5 .5 .5 0-6.5 1 6 1-5.5 .5 1.5 1 2.5 3-5 0 5 .5-1.5 1 2.5 1 0 1-2.5 .5-1.5 1 5.5 .5-4.5 1.5 1 .5-3 0 2.5 .5 0 2 1.5 .5-4.5 .5-3 1.5 1.5 1.5-1.5 .5-4 .5-6.5 .5 7.5 0-9.5 .5 13 .5 2 1-2 0-8.5 1.5 5.5 0 2.5 1-3 0-2 1-3.5 .5-3.5 0 11 1-3 .5 1.5 0 4 1.5-12 0 14 .5-6.5 1.5-2.5 .5-5.5 .5 10 1-1 .5-6.5 1 7.5"/>
<path class="so" d="M269 1339.5L269 1327.1L271 1331.1L273 1326.1L275 1325.3L277 1326.7L279 1330.2L281 1328L283 1328.1L285 1327.2L287 1330.6L289 1324.1L291 1323.2L293 1321.7L295 1321.8L297 1328.8L299 1328.7L301 1329.6L303 1329.3L305 1325.3L307 1328.8L309 1326.2L311 1326.8L313 1328.7L315 1326.8L317 1329L319 1330.6L321 1328.5L323 1327.9L325 1325.2L327 1326.5L329 1325.2L331 1323.8L333 1327.6L335 1324.9L337 1326.2L339 1323.9L341 1322.8L343 1322L345 1325L346 1339.5Z"/>
<path class="mo" d="M269.5 1327l1.5 1.5 .5 3 1-2.5 .5-6 .5 4 .5-2 1.5-2.5 .5 6.5 1 .5 0-7 1.5 5.5 .5 5 1-11 .5 4 .5-1.5 1.5 3 .5 1 .5-5 .5 2.5 1 4.5 1-5.5 .5 1 0 3.5 1.5 0 1.5-2 .5-5.5 .5-2 .5-.5 1.5 3.5 0-2 0-1 2 4 .5-4 1.5 7.5 1-.5 0-.5 1 4 1.5-5 .5 .5 .5 7 0-5 1-.5 .5 1 1-1 1-2.5 1.5 1 1.5 3 .5-2.5 1 .5 .5-2.5 1-.5 .5 4.5 1-3.5 1 1 .5 5.5 1-8 1 6.5 1.5-3.5 .5-2.5 1 9.5 1-4.5 0 0 .5-6.5 1 7 1-1.5 .5-4.5 .5 7 1-3.5 1 .5 1.5 .5 1-.5 1-1.5 .5 3 1.5-1.5 1-2.5 .5 3.5 .5-4 0-.5 1 4 1.5-4.5 .5-1.5 1 7 1-2.5 0 1.5 1.5-6 1 2.5 1-2.5 1-2 .5 3 1.5-1.5 1-.5 0 3.5 1.5 2.5"/>
<path class="sb" d="M345 1339.5L345 1320.8L347 1323L349 1322.3L351 1321.5L353 1328.7L355 1328.2L357 1333.3L359 1333.4L361 1330.6L363 1330.6L365 1331.1L367 1334.5L369 1333.4L371 1335.8L373 1332.6L375 1335.2L377 1333.1L379 1332.4L381 1335.4L383 1330.1L385 1331.3L387 1324.7L389 1326.9L391 1329L393 1328.2L395 1325.7L397 1326.4L399 1327.5L401 1326.5L403 1329.9L405 1324.2L407 1327.6L409 1327.3L409 1339.5Z"/>
<path class="mb" d="M345.5 1319.5l1 3 1-1.5 .5 6 1-7.5 .5 .5 1.5 1 1 6 .5 1.5 0-1 1 0 1 3.5 2-.5 0-4.5 .5 8 .5 2 2 0 0-3.5 1-2 1.5 0 1 0 2 .5 1 4 1.5-.5 0-2 1 1 1.5 1 .5 1 .5-1 1 1.5 1.5-3 1.5 2.5 0-1 2 1 1 0 1-6 .5 6.5 1-2 1.5 .5 1-.5 .5-5.5 1 3 0 0 0-7 1 7.5 1.5-10.5 .5-1.5 .5 6 .5 2 1-4.5 .5 7 .5-1.5 .5-8.5 1-5.5 0 5 .5 9.5 0 2 1.5-8 .5 0 .5 1.5 1-3 .5 6 .5-3.5 1 2.5 0-6.5 .5 4 .5 3 1-4.5 .5 4 1 .5 .5-6 0 6 1.5 5 .5-11 0 5.5 1-2.5 .5-8.5 .5 10 1.5-.5 .5-1 0 6 1-1 .5-9.5"/>
<path class="so" d="M408 1339.5L408 1326.7L410 1329.3L412 1327.4L414 1326.9L416 1331.2L418 1327.8L420 1328.8L422 1326.8L424 1328.2L426 1324.6L428 1326.6L430 1327.6L432 1326.2L434 1325.3L436 1328.4L438 1327.5L440 1327.9L442 1327L444 1328.5L446 1326.5L448 1324.9L450 1327.1L452 1323.1L454 1324.9L456 1325.7L458 1325.6L460 1328.4L462 1328.2L464 1329L466 1328.3L468 1328.7L470 1328.1L472 1327.4L474 1327.2L476 1328L478 1328.6L480 1326.2L482 1321.2L484 1320.3L486 1320.1L488 1324.7L490 1319.2L490 1339.5Z"/>
<path class="mo" d="M409 1330.5l1-8.5 0 5.5 1 0 .5-1.5 0-7.5 .5 3.5 1 4.5 1 1 .5 0 0-4.5 .5 5 1 2 .5 1.5 .5-6 1.5 1.5 1 1.5 0-4 1 4 1-2 .5-4.5 .5 9 1-2.5 1-1.5 .5-4 .5 4 2-4 0 6.5 1 2 .5-11.5 1.5 10.5 0-3.5 1.5-4.5 0 3.5 .5-15 1 17.5 .5-3.5 .5 0 .5 3 .5-2.5 1.5 3.5 .5-2 0-8 1 7.5 1 1.5 .5-1 .5-1.5 1.5-6.5 0 9.5 1.5 2 .5-6.5 .5 7 0-7.5 1 3 1.5 1.5 1-3 .5-5 0 9 2-3 0 0 .5-4 1.5 6.5 1.5-5 0 2 1 0 1-.5 .5-4.5 .5 7.5 2 3 1-1.5 0-4.5 1 4 1 .5 0-3 1 1 1 1.5 0-1 1 1 1-2.5 0-3 1.5 6 .5-4 .5 1 0-.5 1.5-.5 1-2 .5 8 .5-4 1-.5 1-8.5 .5 8.5 .5-1.5 .5 .5 .5 0 .5 6 1-9.5 .5 7 1-2 1-.5 1-4.5 0-.5 .5-.5 1.5-1 0 2.5 .5-3 1.5 2 .5-5 2 6 0 5 1-3 .5 2 .5-5"/>
<path class="sb" d="M490 1339.5L490 1324.9L492 1326L494 1326.7L496 1326.5L498 1328.5L500 1329.4L502 1335.3L504 1337L506 1333.9L508 1335.3L510 1335.8L512 1334.5L514 1335.8L516 1336.2L518 1332.3L520 1330.2L522 1323.3L524 1326.4L526 1325.9L528 1326.9L530 1326.1L532 1322.3L534 1322.2L536 1324.6L538 1325.1L540 1325.1L542 1325.9L544 1330.7L546 1326.5L548 1326.4L549 1339.5Z"/>
<path class="mb" d="M490.5 1324.5l.5 1 .5 2.5 1-3 1 4.5 .5-6.5 1.5 6 1-5.5 0 6.5 1.5 0 1-3.5 1 4 .5 4 1-1.5 1 2 2 0 1-2.5 .5 2.5 2.5 1.5 1-4 1 4 1.5-1 2 .5 1-3.5 1.5 4 1.5-4.5 1.5-3.5 0 5 .5-6.5 1-.5 .5-4.5 1.5 6.5 .5-4 1-1 1 3.5 .5 1 1.5-3 1 4.5 0-4 0 3 1.5 0 1 .5 .5-9 1.5 2.5 1.5-2 .5 2.5 .5 .5 1.5 4.5 1-4.5 .5 3 1-2.5 1-2 .5 4 1 1.5 1-1 .5 .5 .5 3.5 1.5-3 1 2.5 .5-1 0-4 .5-1.5 0 2.5 1 1"/>
<path class="so" d="M548 1339.5L548 1322.6L550 1322.5L552 1322.1L554 1322.4L556 1324.9L558 1322.2L560 1328.8L562 1321.2L564 1320.6L566 1320.1L568 1323.5L570 1322.8L572 1322.2L574 1324L576 1326.9L578 1329.8L580 1329.1L582 1327.8L584 1330L586 1332.3L588 1331.3L590 1331.2L592 1331.3L594 1329.4L596 1329.5L598 1328.1L600 1329.2L602 1330L604 1329.9L606 1323.4L608 1321.5L610 1320.3L612 1323.3L614 1322.8L616 1325.4L618 1319.8L620 1317.8L622 1318L624 1322.4L626 1322.9L628 1319.6L628 1339.5Z"/>
<path class="mo" d="M548 1321.5l1.5-2.5 .5-1 0 1 1 7.5 1-1 .5-9 0 9 1-7.5 .5 5.5 .5 2 .5-6 1.5 6 .5-4.5 .5-5.5 .5 5.5 .5 1 .5-2.5 0-7 0 6 1 3.5 .5 4.5 .5-16.5 0 14.5 1-13.5 .5 8 0-.5 1.5 3.5 0-3.5 1-8.5 .5 10 .5-9.5 .5 11.5 .5 1.5 1 0 0-4 .5 2 .5-6.5 1 8 .5-2 0-6 1.5 4.5 1 4.5 .5-11 .5 4.5 .5 9 .5-3 .5-23.5 0 6.5 0-2.5 0 21 .5-27.5 0 5 .5 9 0-2 .5 19 .5 2 1-3 1-1 1 6 .5-6.5 .5 3.5 1 1 .5-7 .5 6 1-7 1 10.5 .5-2.5 0 5 1 0 1-3.5 1-4.5 0 3 1 0 .5 0 1.5-2 1 5 1-8 0 2.5 1 2.5 1.5 1.5 0-5 1.5 .5 0-3.5 1.5 6.5 .5 .5 1.5-3.5 .5 3.5 0-3.5 1 4.5 1-6 .5 2 .5-14.5 .5 13 0-.5 1.5-9 0 4.5 .5 .5 .5-5 .5 5 1-4 .5 5.5 1-1.5 1-5.5 0 7.5 .5-11.5 .5 11 .5-15.5 0 12 .5 2.5 1 1.5 1.5 5 0-5.5 .5 .5 0-12.5 1 10 .5-2.5 0-5.5 2 7 .5-2.5 0-7.5 1-1 .5 8 0-1 .5-8.5 0 13 .5 0 1.5-1 0-3 1 8 0-6 1 5 1-15 .5 7"/>
<path class="sb" d="M627 1339.5L627 1329.9L629 1331.8L631 1331L633 1327.8L635 1328.3L637 1329.7L639 1328L641 1327.2L643 1324.5L645 1326.6L647 1325.9L649 1326.9L651 1329.8L653 1327.1L655 1326.1L657 1327.4L659 1325.9L661 1327L663 1327.2L665 1325.3L667 1325.6L669 1327.1L671 1329.3L673 1321L675 1315.8L677 1300.2L679 1296.8L681 1311.2L683 1312.8L685 1304.3L687 1303.3L689 1315.6L691 1327.1L693 1325L693 1339.5Z"/>
<path class="mb" d="M627 1331.5l1-1.5 1-1 0 .5 1.5 .5 .5 3.5 .5-6 0 .5 1.5-3 1 3 .5-4 1 4.5 0-2 1.5 3.5 .5-5 0 3 2-.5 0-1.5 1 1.5 1.5-1.5 .5-2 1 3 .5-3.5 .5 4.5 1.5-2 1 .5 .5-4 .5 2 .5 1 1.5 5 .5-2 .5-2.5 .5 1.5 1.5-.5 .5-2 1.5 1.5 .5 1 1-7 1 9 .5-7 0 2 .5 3 1.5-2.5 1 1.5 1 2 1-4.5 .5 2 .5 2 1.5-5 0 4 1.5 .5 1-1.5 1 4 0-5 1 6 1-2 .5-4 0 1.5 1-5 1.5-12 .5 9.5 .5-7.5 0 1.5 1.5-11 0 2 .5-6 1 5.5 .5-8.5 1.5 10.5 1 3.5 0-1 1.5 1 0 3.5 0-2.5 1-9 .5 4 1 1.5 .5-5.5 .5-2.5 1 5.5 1 8.5 .5 5.5 1 7 1-3.5 0 4.5 1-4.5 .5 8.5 1.5-7.5"/>
<path class="so" d="M692 1339.5L692 1318.1L694 1317.7L696 1324.1L698 1323.1L700 1321.8L702 1321.6L704 1319.2L706 1315.8L708 1320.7L710 1321.8L712 1317.3L714 1324.2L716 1326.5L718 1329.4L720 1330.1L722 1332.1L724 1332.7L726 1333.3L728 1330.7L730 1330.3L732 1331.7L734 1332.2L736 1330.9L738 1332.4L740 1329.7L742 1333.1L744 1330.7L746 1330.4L748 1327.8L750 1326.7L752 1326.7L754 1318.5L756 1310.5L758 1309.6L760 1315.9L762 1312.7L764 1313.3L766 1310.4L767 1339.5Z"/>
<path class="mo" d="M691.5 1315.5l1 2 1.5-2 1 7 .5 2.5 .5-3 0-1.5 .5 2.5 1-9.5 .5 8.5 .5-1.5 1-.5 .5 4 .5-9 .5 9 .5-4.5 1-.5 1.5-6.5 0 10 .5-27 .5 20 0-10.5 0 2 0-31 0-2 0 13.5 0-7 0 3 .5 1.5 0 7.5 0-14 0 23.5 .5-6 0 3 0-8.5 0 25 0-22 .5 10 0 8 0-20 0 7 0 12 0-9 .5-17.5 0 5.5 0 16.5 0 10.5 0-30 1.5 32.5 1 4.5 .5 1 .5-4.5 .5 1.5 1-6.5 1 9 1-2 .5 6 .5-.5 .5-3.5 1 2.5 .5-1 0 2 1-5 1.5 10 .5 .5 .5-4 .5 4 .5-6 1 3.5 1 1 .5-.5 1.5-1 0 2.5 .5 .5 1-6 .5 7.5 .5-6 .5 3 1-5 .5 5 1 0 1.5-.5 0 2.5 1-5.5 0 3 1-6.5 1 7.5 .5-1 1 .5 1.5-3.5 .5 4.5 .5-8.5 .5 9.5 1-3 .5 5 .5-5.5 1 3.5 1-1.5 1.5-5 .5 2.5 .5 2 1-5 .5 2 1.5-.5 1 2 .5-6 0-7.5 1 9 .5-3 .5-14 .5 8.5 1-11.5 .5 8 1-2 .5-3 .5 6 1-10 0 4.5 .5 6.5 1-5.5 .5 9 1.5-8 0-1.5 1 6 .5-5.5 .5 6.5 .5-2.5 1-1 .5-2.5 1 2.5 0-2.5"/>
<path class="sb" d="M766 1339.5L766 1310.7L768 1317.1L770 1320.1L772 1326.6L774 1328.9L776 1329.6L778 1328.9L780 1332.9L782 1329.8L784 1331.5L786 1331.5L788 1330.4L790 1329.8L792 1330.9L794 1328L796 1332.1L798 1329.4L800 1328.4L802 1329.6L804 1331.5L806 1331.4L808 1329.4L810 1332.1L812 1333.1L814 1330.6L816 1329.7L818 1330.4L820 1326.9L822 1324.7L824 1322.8L826 1324.4L828 1322.4L830 1319.8L832 1320.9L834 1322.8L836 1320L837 1339.5Z"/>
<path class="mb" d="M765.5 1306l1 8 1-2 1 6 0-6 1 2 1 8 0-1 1-3 0 6 1 6 .5 4 1-5.5 1-3.5 1 8.5 1-11 .5 7 .5 1.5 .5 .5 .5-2.5 1 3.5 1-9 .5 7.5 .5 0 .5-1 0-5.5 1 9.5 1-8 .5 7 1-3.5 .5-8.5 1 12 .5 0 1-2 0-8 1 5.5 1 5.5 .5-2 .5-6 .5-5.5 .5 13.5 1-9 1.5 9 0 .5 .5-11 1 5.5 0-5 1.5 6.5 1-.5 .5-8 .5 8 1-2.5 .5-1.5 1 6.5 .5 1 .5-8 .5 6 1 .5 0-5.5 2 5.5 0-.5 .5-9 .5 8.5 1 .5 .5-2.5 1 5.5 .5 1 0-14 1 8.5 .5 4 .5-5.5 1-4 .5 6 1.5-1.5 1.5 0 .5 4.5 0-.5 1-5.5 .5-3 1 4 1.5-7 0-.5 .5 5 1.5-11 0 8.5 0 2.5 1.5-4.5 1 3.5 .5-5 0 5.5 1 .5 0-8 2-2.5 .5 7.5 1-5 1 7 0-4.5 1 4.5 1-9.5 .5 4 .5 3.5 .5-8 .5 3"/>
<path class="so" d="M836 1339.5L836 1319.8L838 1322.9L840 1319L842 1318.8L844 1321.9L846 1317L848 1323.3L850 1322.4L852 1323.9L854 1321.2L856 1316.5L858 1316.4L860 1318.3L862 1316.2L864 1318.8L866 1322.5L868 1323L870 1321.9L872 1324.4L874 1320.1L876 1318.7L878 1316L880 1324.4L882 1319.2L884 1320.6L886 1318.3L888 1325.7L890 1322.6L892 1322.8L894 1323.7L896 1325.6L898 1318.7L900 1322L902 1325.3L904 1319.9L906 1321.4L908 1320.3L910 1321.1L912 1325L914 1323.5L916 1315.7L916 1339.5Z"/>
<path class="mo" d="M836 1323l1.5-5.5 .5-4 .5 8 0 3 2-8.5 0-2 1 5.5 .5 1.5 0-8.5 1.5 9 1-1 0 2.5 .5-2.5 1-2 1.5-3 .5 1.5 0 5.5 .5-.5 1-1.5 0 5.5 2-5 0-.5 0 1 .5-17.5 1 15 0 6 1-3.5 1-2.5 0 4.5 1-4 .5-7 .5 2 1.5-1.5 1 1.5 1 3 0 5.5 .5-7.5 1-3.5 0 7 1-5 .5 7 1.5-4.5 .5-.5 0 5.5 1.5 1 1-4.5 .5 4 1-.5 .5 .5 .5-1 0-4.5 .5 7.5 1-1 .5-3 0-2 1.5 3 0-6 .5 3 .5 0 1.5-1 0 .5 1-5.5 1.5 11.5 .5-9.5 0 14 1-12.5 .5 2.5 0 3.5 .5-1 1-6 1.5 .5 .5 3 .5 3.5 0-6.5 1 .5 1.5 3.5 0 1 .5 9 0-6.5 1 4 .5-1 .5-15 0 1 .5 12.5 1-2.5 1-6 0-.5 .5 11.5 1.5-1 0-5 .5 5.5 .5-27 0 27 1-9.5 .5 0 0-1.5 .5-1 2 4.5 .5 6 .5 1.5 1-1.5 0-5.5 0 8.5 .5-11.5 1 8.5 1-9 .5 8 .5-5 .5-3 .5 5.5 .5-.5 2 1.5 .5-6.5 0 7.5 1-3.5 1-4.5 .5 8 .5-1.5 .5 7 .5-7.5 .5 7.5 0-4.5 1.5-7 0 4 1-8"/>
<path class="sb" d="M915 1339.5L915 1326.5L917 1326.2L919 1327.3L921 1326.4L923 1327L925 1326.9L927 1327.5L929 1327.9L931 1327.5L933 1330.3L935 1330.6L937 1329.8L939 1327.4L941 1328L943 1326.5L945 1327.3L947 1327.6L949 1327.9L951 1327.7L953 1325.1L955 1324L957 1324.8L959 1327.8L961 1323.1L963 1315.3L965 1315.8L965 1339.5Z"/>
<path class="mb" d="M915.5 1327l1.5-2.5 1 4 .5-4 .5 0 .5-.5 .5 .5 1.5 .5 .5-1.5 1 3 1-5.5 .5 7.5 .5 0 2-2.5 .5-4 .5 6.5 1-1.5 1 5 1-5.5 0-3 0 2 .5-5 .5 5.5 .5 7.5 2-4 0-4.5 1 6.5 .5 .5 0-4 1 1 1 2.5 1-10 0 8.5 1-1.5 1.5 3.5 .5 0 .5-7.5 1 1.5 0-.5 1.5 4 1 1 1-8 .5 4.5 .5 0 .5 .5 1 4 .5-11 1 8.5 .5-3.5 2 2.5 0-2 .5-4.5 1 4 .5-.5 1.5 1 .5-20 0 20 1 4.5 .5-5.5 1.5 2 .5-10.5 .5 7.5 0-6 1.5-8 0 8.5 1-22.5 0 18 1.5 0"/>
<path class="so" d="M964 1339.5L964 1324.6L966 1320.6L968 1327.3L970 1322.6L972 1322.8L974 1325.1L976 1321.4L978 1328.5L980 1327.1L982 1324.6L984 1326.7L986 1324.8L988 1323.9L990 1322.5L992 1328.1L994 1325.3L996 1326L998 1327.8L1000 1333.1L1002 1332.4L1004 1332.3L1006 1330.6L1008 1325.8L1010 1324.3L1012 1322.5L1014 1326.9L1016 1321.9L1018 1326.1L1020 1320.9L1022 1324.3L1024 1327.5L1026 1324.6L1027 1339.5Z"/>
<path class="mo" d="M964.5 1321.5l.5-1 0-4.5 1 3 1.5 3.5 0-11 .5 0 0 16.5 1.5-17 0 15.5 .5-1 1-5.5 0 3 .5-1 .5-12.5 .5 19.5 0-17.5 1.5 16.5 0-17.5 .5 8.5 .5 3 1.5-3 0-9.5 .5 8.5 .5 6.5 0 6 .5-7 1 6 0-10 1 9 1.5-11 0 6.5 .5-6.5 .5 4 .5 7 .5-2 1-3.5 .5 5 0-9 .5 6.5 .5-16 0 14 .5 1.5 .5-11 1.5 9.5 0-3.5 1.5 4.5 1-5.5 0 6.5 .5-1.5 .5 1 0 2.5 1.5-14.5 0 12 0 1.5 .5-15 1 16 .5 1.5 1-9.5 0 4.5 .5 1.5 .5-5 .5 5 1 8.5 1 .5 0-3.5 .5 3 2-3 1 5 .5-4.5 1-1 .5-.5 1 2 2-4.5 .5-4 .5-1.5 1 2 0-.5 1.5-8.5 0 5 1 6 1-14 .5 18.5 0-10 0-10 .5 6.5 .5 9 .5-6 1-.5 .5 8.5 .5-15 .5 15 .5-5.5 .5-5 0 1 2 7.5 0-10.5 .5 8 .5-3 .5 7.5 1 3 .5-8 .5 4 .5-14.5 0 10.5 1-2.5 1 1"/>
<path class="sb" d="M1026 1339.5L1026 1330.8L1028 1330.1L1030 1330.8L1032 1332.8L1034 1330.6L1036 1328.4L1038 1325.2L1040 1320.3L1042 1326L1044 1327.5L1046 1325.4L1048 1327.4L1050 1327.3L1052 1323.9L1054 1325L1056 1323.1L1058 1327.2L1060 1326L1062 1327.5L1064 1319.3L1066 1314.8L1068 1319L1070 1311L1072 1307L1074 1317.6L1076 1318.5L1078 1322.5L1080 1322.2L1082 1324.9L1084 1327.1L1086 1323.6L1088 1323.4L1090 1320.4L1090 1339.5Z"/>
<path class="mb" d="M1027 1331.5l.5-.5 2 1.5 .5-1.5 1 1.5 1.5 .5 0-.5 1-3.5 .5 3.5 1.5-3.5 1.5-.5 .5-3 1-4.5 1.5-1.5 1 3.5 1 0 0 3.5 1.5 5 .5-5 .5 1.5 0-9 2 7 .5-3 1.5 2 0 3 1-3 .5 1.5 1-3 .5-5.5 .5 9 1.5 2 0-5 1.5 1.5 .5-1 1-5 .5 4 .5-2 1 5 .5 4.5 1-4.5 .5-4.5 .5 8 1-9 .5 10 .5-9 0-2.5 1.5-2 .5 3 0-4.5 1-8.5 .5 6 0 6 1-2.5 0-2.5 1 4 0-6.5 1-.5 1-3 0-.5 1-2 .5-4 1.5 11.5 .5 2.5 0-6 0 3.5 1-1 .5 1 1 4.5 .5 1 1 5.5 0-7 .5 4.5 1 1 2-2.5 0 3.5 1-1 .5 0 .5-3.5 0 9.5 1.5-5.5 1-4.5 0 1 1 5.5 1 1.5 1-3 1-4.5"/>
<path class="so" d="M1089 1339.5L1089 1318.4L1091 1321.5L1093 1321.3L1095 1323L1097 1322.1L1099 1324.4L1101 1326.8L1103 1323.1L1105 1323.3L1107 1319.2L1109 1323L1111 1323.8L1113 1327.7L1115 1327.4L1117 1331.4L1119 1331.6L1121 1333.8L1123 1333.7L1125 1333.3L1127 1332.3L1129 1333.5L1131 1334.2L1133 1334.1L1135 1330.8L1137 1332.3L1139 1332.1L1141 1330.1L1143 1330.5L1145 1332L1147 1331.4L1149 1332.8L1151 1331.5L1153 1333.9L1155 1333L1157 1325.5L1159 1323.3L1161 1322.1L1163 1319.4L1165 1321.2L1166 1339.5Z"/>
<path class="mo" d="M1089 1316l1 6 1-2 1 5.5 .5-7 1.5 6 .5-5.5 .5 1.5 1 6 1-1 1.5 0 .5-9.5 0 9.5 .5 4 2-9.5 0 8 0-5 0 5.5 1.5-5.5 1 3 .5-5.5 2 5 0-5.5 1.5-1 0-2.5 1.5 9 .5 .5 1 1.5 .5-6 0 5.5 .5-5 .5 4 1-.5 1 1 0-2 2 5.5 .5 3 1.5 0 .5-5 .5 1 1.5 7.5 1-3.5 .5-.5 0-.5 1 2 2.5-5 .5 2 .5 5 1-2.5 1-1.5 .5 2 1 1 .5-3 2.5-5 0 6 .5 1 .5 .5 1-3.5 1 1.5 1.5-5.5 0 8 1.5-3.5 .5 2.5 1-4 1 .5 1 .5 1-1.5 0 5 1-.5 2.5-4.5 1 4 0-2 .5 5.5 1-6 1 1.5 1.5-1 .5 3.5 0-3.5 .5 3.5 2 0 .5-8 .5-.5 1 1.5 .5-1.5 .5-6 1 1 0-5 1 7.5 1.5-2.5 1-5 1 2.5 .5 1.5 .5-3 1.5-2.5"/>
<path class="sb" d="M1165 1339.5L1165 1324.3L1167 1326.6L1169 1324L1171 1328.2L1173 1325.9L1175 1329.6L1177 1323.9L1179 1322.6L1181 1322.8L1183 1324.9L1185 1323.5L1187 1322.3L1189 1323.5L1191 1325L1193 1318.4L1195 1324.1L1197 1323L1199 1323.2L1201 1319.6L1203 1317.5L1205 1323.8L1207 1324.9L1209 1316.9L1211 1318.8L1213 1321.4L1215 1325.7L1217 1322.5L1219 1319.8L1221 1317.3L1223 1321L1225 1320.6L1227 1322.3L1229 1328.3L1231 1328.9L1233 1323.2L1235 1325.6L1237 1329.9L1238 1339.5Z"/>
<path class="mb" d="M1165 1322.5l1.5 0 0 6 1.5-2 .5 1 1-2.5 1.5 .5 1-3.5 .5 7 0-1.5 .5-1.5 1-.5 1.5 6 .5-5.5 .5 1.5 1.5-5.5 1 4 .5-4 1 .5 1 0 1 6.5 1.5-7 1 .5 1.5 3 0-3.5 1 5 1-5.5 .5-1 2 3.5 .5-4 .5 6 1-4.5 1.5 2.5 .5-2 0 3 1.5 2 0-7 1-.5 1 2.5 .5-9 0 11.5 1-1 1.5-3 .5-5.5 1 3 .5-3 1 1 0 9.5 1-3.5 .5 3.5 1-3.5 .5 1 0 0 2-3.5 0-3.5 1.5 3 1-1 .5 0 0 2.5 .5-3.5 1 6.5 .5-2.5 .5 1.5 1.5 4 .5-3 .5-4 0-2 1 3.5 .5-5.5 1 5.5 1-2.5 1-.5 1.5 1 .5-.5 .5 1 .5 1 1-2 1.5 6 .5 1.5 .5 1 .5-2 .5 6.5 1.5-1.5 1-9.5 .5 5.5 1-2.5 1.5 1 .5 1 1 1.5 .5 3.5 .5-1 0-5.5"/>
<path class="so" d="M1237 1339.5L1237 1317.7L1239 1324.8L1241 1316.5L1243 1318.8L1245 1321.2L1247 1318.6L1249 1319.3L1251 1328.4L1253 1331L1255 1330.5L1257 1329.5L1259 1332.1L1261 1329.1L1263 1329.8L1265 1328.1L1267 1331L1269 1332.9L1271 1330.7L1273 1329.2L1275 1329.2L1277 1329.6L1279 1324.1L1281 1325.6L1283 1324L1285 1324.3L1287 1320.2L1289 1322.7L1291 1321L1293 1321.6L1295 1326L1297 1322.8L1298 1339.5Z"/>
<path class="mo" d="M1237 1314.5l1 4.5 1 .5 0 4.5 .5-2 1.5-2 .5 1 2 1.5 .5-1 .5 .5 .5-7 .5-3 0 9.5 .5 0 1-5 .5 4.5 .5-4.5 1 3 1 3.5 .5 5.5 1.5 3.5 1-2 .5-1 .5 3 1 0 1-2.5 1.5 3.5 1-1.5 1-2.5 1 1.5 .5-1 1 1.5 1-1 1-1 1 1 .5 2.5 2 2 0-1.5 1-2 .5 0 2-1 1-.5 1.5 2 .5 0 .5-.5 1.5-1 1.5-5.5 1 2.5 1-.5 .5-6.5 .5 3.5 1.5-10.5 0 12 .5-3.5 .5-7.5 .5-1 .5 14.5 1-5 .5 .5 .5 1 .5-7 1 5 0-5 1-1.5 .5 3.5 1 2 .5-4 .5 0 1 5 1 2.5 0-9.5 0 4.5 1 2 1 .5 .5 7 0-15 .5 14.5 1.5-8.5 .5 3 0 5 0-13"/>
<path class="sb" d="M1297 1339.5L1297 1324.7L1299 1326.4L1301 1327.1L1303 1327.3L1305 1325.9L1307 1324.9L1309 1325.4L1311 1323.2L1313 1328.1L1315 1324.1L1317 1330.7L1319 1325L1321 1327.5L1323 1325.9L1325 1329.1L1327 1326.6L1329 1326L1331 1325.3L1333 1329.5L1335 1326.1L1337 1326.7L1339 1325.8L1341 1325.3L1343 1326L1345 1328.6L1347 1328.5L1349 1324.5L1351 1319.5L1353 1322.9L1355 1316.6L1355 1339.5Z"/>
<path class="mb" d="M1298 1323l1 5 .5-4 .5 4 1 .5 1-1.5 0-2 1 4.5 1-4 .5 2.5 0-3.5 1-5.5 .5 3 1 6 .5-4.5 1 3.5 1-4 .5 5 1.5-3.5 0 .5 1.5-1 1 1 1.5-1.5 .5-2 0 6 .5 2.5 1-12 .5 8.5 1.5-1.5 0 0 .5 4.5 1.5 .5 1-5 .5 0 0-4.5 1 9 .5-11.5 1 14 1-4.5 1-8.5 0 8.5 2-2 0-3 .5 4.5 0 2 1.5-2 1-1 0 2 0-1.5 1.5 1.5 .5 1 1.5-6 0 0 .5 4 2-1 0-2.5 .5 2.5 .5-8 1 12.5 1-5 .5-2.5 .5 4 1 1 .5-1 1 2 .5-4.5 .5 6 1.5-5.5 0 2 1 0 .5-2 1.5-5 0 2 1-2 1.5-10.5 0 12.5 .5-5.5 0 2 .5-9 1 7.5"/>
<path class="so" d="M1354 1339.5L1354 1316.9L1356 1317.8L1358 1316.9L1360 1319.2L1362 1311.5L1364 1313.5L1366 1316.8L1368 1318.7L1370 1314.7L1372 1322.6L1374 1320.2L1376 1327.8L1378 1328.7L1380 1331.1L1382 1329.6L1384 1330L1386 1329.2L1388 1327.4L1390 1329.4L1392 1332L1394 1330.3L1396 1329.1L1398 1332.3L1400 1330.4L1402 1330.6L1404 1332.2L1406 1330.7L1408 1330.4L1410 1329.5L1412 1329.8L1414 1332.2L1416 1328.2L1418 1325.8L1420 1318.1L1422 1314.4L1424 1319.1L1426 1312.5L1428 1320.4L1430 1316.1L1432 1324L1434 1318.4L1436 1318L1438 1321.9L1440 1317L1442 1314.8L1444 1312.7L1444 1339.5Z"/>
<path class="mo" d="M1353.5 1315.5l1 3.5 1.5-5.5 0-.5 .5 7.5 1.5-11 0 3 .5 4 1 0 1-1 0 1 1-6.5 .5 1 .5 4.5 0-1.5 1 3 1.5-7 .5 3.5 .5-1.5 .5 5 2 3 0-4 .5 2 1.5-7 0-1 .5 3.5 .5 2 .5 9.5 1-1 1-1.5 1 3.5 1.5 .5 0 4.5 1-2.5 1 1.5 1.5 5 0-9.5 1 6 .5-3.5 1-2.5 .5 7.5 1.5-4.5 1-1 1 1 0 1.5 1-5.5 .5 1.5 1.5 1 .5 5 .5-3 .5-1.5 .5 2.5 2 2.5 1 1.5 0-6.5 0 .5 2 5 1-1.5 0-7 1 8.5 .5-2 .5-2.5 1.5 5 .5-4.5 1 .5 1 2 .5-.5 0-2.5 1 3 1-3.5 .5-2 1 4.5 .5 2.5 0-10.5 1 10 .5-5.5 .5 5 1-3 1 0 1-.5 .5 1.5 .5 3 2.5-2.5 .5-4.5 0 5.5 .5-4 2-4.5 0-5.5 1.5 0 .5 .5 2-.5 .5 5 0-6.5 .5 2 1.5-4 .5 1 .5-10.5 .5 8.5 .5 9.5 1-6 1 1 1 1.5 0-4 .5 5 .5 1 1 2 1-4 .5-1 .5-3.5 .5 6.5 .5-1.5 .5 3.5 1-4 0-3 1.5 2 0-4 1.5 0 1 1 0 3 2-6 0-1"/>
<path class="sb" d="M1443 1339.5L1443 1325.2L1445 1323.2L1447 1326.6L1449 1328L1451 1324.9L1453 1327.8L1455 1328.5L1457 1331.6L1459 1335.6L1461 1332.9L1463 1335.3L1465 1332.1L1467 1333.7L1469 1333.7L1471 1332.1L1473 1332L1475 1334.5L1477 1334.1L1479 1333.3L1481 1332.9L1483 1334.9L1485 1327L1487 1321L1489 1322L1491 1319.7L1493 1318.2L1495 1320.6L1497 1324.6L1499 1319.2L1501 1324.2L1503 1318.6L1505 1321.4L1507 1323.2L1509 1320.6L1511 1313.8L1513 1314.7L1515 1322.5L1515 1339.5Z"/>
<path class="mb" d="M1443.5 1327l0-6 2 .5 .5 3.5 1.5 3 .5 .5 1.5 .5 0-2.5 1-1.5 0 0 2-1 .5 5.5 .5-9 .5 8.5 1 0 1 2.5 1.5 2 1-2 1 3.5 0-3 2 2.5 .5 2 1-2 1 0 2-1 1 0 1 .5 .5-2 1.5 3 1-1 1 .5 1-4 1 3 2 2.5 1-4.5 0 2.5 1-1.5 2 1.5 1-1.5 1.5 3 .5-2 1-3.5 1-3 1.5-1.5 .5-5 0-1 .5 1 1-6.5 1 6.5 .5-6 1 9 .5-10 .5 4 0-5.5 .5 8 .5-5.5 1 .5 .5-6 .5 14 1-2 0-3.5 1 6.5 .5-8 .5 7.5 0-6 1 0 1-9.5 0 12 0 3 .5-2.5 0 4 .5-18.5 1 13 0-2 1 5 1-11.5 .5 13.5 .5 0 1-3 .5-2 0 4.5 1 2.5 0-6.5 .5-9.5 1 7 .5 3 0-1 2-6 .5 2 .5-2.5 0 2 1.5 7 1 3.5 0-8"/>
<path class="so" d="M1514 1339.5L1514 1325.9L1516 1328.4L1518 1324.5L1520 1327.3L1522 1331.3L1524 1330.5L1526 1332.9L1528 1334.1L1530 1333.3L1532 1331.1L1534 1334.5L1536 1333.2L1538 1331.1L1540 1332.8L1542 1332.7L1544 1332.3L1546 1332.6L1548 1335.3L1550 1330.4L1552 1331.7L1554 1332.5L1556 1330.8L1558 1335.9L1560 1334L1562 1327.6L1564 1327.6L1566 1322L1568 1325.9L1570 1321.3L1572 1322.2L1574 1320.8L1576 1319.5L1578 1314L1580 1310.7L1582 1312.3L1584 1309.3L1586 1320.4L1588 1322.5L1590 1323.3L1590 1339.5Z"/>
<path class="mo" d="M1513.5 1326.5l1 3 2-4.5 .5-2 1 4 1 1.5 .5-6.5 1 8.5 .5-2 .5-6 0 10.5 1.5-1.5 1.5 0 2 4 0-6.5 0 6.5 1-1 1-3 2 2.5 0-4 1 0 .5 4.5 1-2 2 .5 .5-4 .5 6.5 1.5-3 .5-2.5 1 2.5 1-1.5 0 3.5 1-3.5 1 .5 .5 3.5 1.5-1 1.5-1 1 1.5 .5-4 1 4 1-2 .5-.5 1.5-3.5 1 6.5 .5-2.5 1.5 1.5 .5-4.5 1.5 0 1.5-.5 .5 7 2.5-8 0 6 1-2 0-.5 1.5-6 0 5 1.5-.5 0-5 1-10 .5 8.5 0-4 1 .5 .5-3 1 8.5 .5-5 0 3.5 .5-5.5 .5 0 1.5-7 0 11.5 .5-4.5 .5-9 0 11.5 1-7.5 1 5 0 3 .5-4 .5-1 .5-7 .5 0 0 10 1-4 1.5 0 1-5 0-3.5 .5 4.5 2 1.5 .5 1.5 0-8.5 .5 4.5 .5-4.5 .5 4.5 1.5 6 1 1 0 6.5 .5-1.5 .5-4 1 3.5 .5 3.5"/>
</g>
<g id="pd">
<path class="sb" d="M193 1863.7L193 1785.7L195 1802.2L197 1792L199 1789.6L201 1786.9L203 1780.7L205 1778.7L207 1814.5L209 1828.4L211 1836.7L213 1844.8L215 1843.2L217 1835.9L219 1837.6L221 1841.2L223 1840.2L225 1840.6L227 1838.4L229 1839L231 1841.8L233 1843.7L235 1841.9L237 1838.2L239 1838.2L241 1836.4L243 1838.2L245 1836.2L247 1835.4L249 1828.8L251 1812.3L253 1817.2L255 1820.9L257 1833.2L259 1823.2L261 1829.9L263 1816.7L265 1807.7L267 1802L269 1787.8L271 1780.7L273 1756.2L275 1755.9L277 1759.3L277 1863.7Z"/>
<path class="mbd" d="M192.5 1750l0 16 1 3 0 15.5 0-10.5 .5 18 .5-31.5 0 22 0 16.5 .5 3 0-34.5 .5 32.5 .5-18.5 0-7 .5 .5 0-22 0 31 0-1.5 0-16.5 .5 21.5 .5-17 0-4.5 .5 6.5 0 14.5 0-19 0 7 .5 14.5 .5-44.5 0 5 0 40.5 0 2 .5-86 0 37.5 0-31.5 0 34 0-21.5 0 9 0 19.5 0-44 0-11 0 66 .5-2.5 0 23 0-48 0 34.5 0-4 0-10.5 0 13.5 .5-29.5 0-2 0 7 0 26.5 0-54.5 0 5 0-7 0-12 0-8 0 63.5 0-30.5 0 22.5 0-32 0 29.5 0 28 0-45 0-5 .5-26 .5 64 0 16.5 0-17.5 0 21 0-26.5 0 16.5 .5 9 .5-7.5 .5 6 0-14 0 6 0-9.5 .5 7.5 0-8.5 1 5.5 .5 7.5 0-2.5 1 19.5 0-8 0 9 .5-33 1 52.5 0-4.5 0-9 .5 20.5 1 3.5 .5 2 0 7 1 8 .5-11 .5 .5 0 0 0 4 .5 1.5 .5 2 .5-6 .5 13 0 .5 1-9 .5 1.5 0-3.5 1 0 .5 1.5 1-3 0-27.5 0 26 0-20 1 27 .5-4.5 0-35 0 33.5 1 2.5 0-3 1-26.5 0 35.5 1 0 0-8 1-18.5 .5 21 0 4.5 .5-12.5 .5 5.5 .5-1.5 .5 5.5 0-1.5 .5-17 .5 15.5 0 2.5 1-30.5 0 28 1 7 0-6 .5 1 .5 3 .5-13.5 1-25.5 0 39 .5 3.5 0 0 .5-22 .5 18 .5 1.5 1.5 .5 0-4 0-15.5 .5 22 .5-13.5 .5-38.5 .5 51 0-67 0 21.5 0 44.5 .5-39 0 12.5 .5-27 0-11.5 0 11.5 .5 49.5 0-14 .5-39 0-6 0 9 0 2.5 .5 47 0-51.5 0 12 0-17.5 0 15.5 0 36 0-1 0-28 .5-2.5 0-7.5 0-15.5 0 63 .5-36.5 0-19.5 0 33.5 0-21.5 .5 .5 0-15 0 50 .5-37.5 0 39.5 .5-52.5 0 50 .5-42 0 20.5 .5 27 0-40 0 44 0-52 .5-7.5 0 52.5 .5-21.5 0-19 0-15.5 0 59 .5-15 .5-42.5 0 59 0-58 .5 10.5 0 7.5 0 5 0-24 .5 43 0 19.5 0-9.5 .5-57 0 .5 0 15.5 0-3 0-12.5 .5 34 0 21 0 3.5 1.5-21 0-51.5 0 55.5 0-54 0 15 .5-7 0 64.5 0-70.5 0 65.5 .5-20 0-65.5 0 35 0 45 .5-75 0 26 0-33.5 0 75 0-20 .5-15.5 0 33 0 1 0-40.5 0-30.5 0 4 .5 27.5 .5 22.5 .5 11 0 0 .5-57 0-.5 0 48.5 0-56.5 0 23 0-25 0 4.5 0 19.5 .5-3.5 0 53.5 0-54 0 27.5 0-10.5 0-12.5 0 19 .5-25 0 48 0-1.5 .5-65 0 18.5 .5 4 0 53 0-19 .5 8 0-41.5 0 31.5 0 24 .5-55 0 1 0 8.5 0 38 .5-34 0-36 0 6 0 27.5 0-10.5 0 14 0-18 .5 54.5 0-50 0 35.5 0-28 0-32 0 23.5 .5 48.5 0-68 0 22.5 .5 60 0-73.5 0-4.5 0 85.5 .5-68 .5 7 0 2 0-21 0-1.5 0 2 0 63.5 .5-5 0-3 0-35 .5 4 0-10 0 49 0-64 0 15 .5 27.5 0 14.5 0-29.5 0-36.5 .5-1.5 0 31.5 0 7 0-3 0-32.5 0 73 0-20 0-25 .5-15 0-18 0 14.5 0-9 0 19.5 0 48.5 0-39.5 0 47.5 .5-.5 0-69.5 0 15.5 0 6.5 0 9 0-29 .5-12.5 0 21 0-7 0 19 0 36.5 .5-61 0 23.5 0-27 0-4 0 76 0-33.5 .5 4.5 0-15 0 31 .5-.5 0-47.5 0 59 0-42 .5 6.5 0-33 0 48.5 0-25.5 .5 22.5 0-54.5 0 27.5 0-24.5 0 31.5 .5 19.5 0 14 0-16 0 15.5 .5-45.5 0 27.5 .5-5 0 8.5 .5-1.5 0-3 0-3.5 0 5 1-4 0-1.5 .5 13 .5-14.5 0-15 .5 29.5 0-28 0 1.5 .5 16 .5-16.5 .5 .5 0-2 .5-6.5 0-14 .5 16 0 3 .5-29 0 24.5 0-15.5 .5 .5 .5-2 0 19 0-29.5 .5 21 .5-28 0 12 0 7.5 0-27.5 0 15 0-13.5 0 9 .5-16 0 23.5 0-15 0 28 .5-25 0 12 0-1.5 0-6 0-12.5 0 15 .5 6.5 0 15 .5-21 .5-.5 0-1 0 12 .5 5.5 0-15.5 0 19 .5-12.5 0 12"/>
<path class="so" d="M277 1863.7L277 1795.1L279 1778.7L281 1791.6L283 1783.5L285 1770.9L287 1781.1L289 1776.3L291 1787L293 1794.3L295 1785.6L297 1771.8L299 1778.7L301 1807L303 1823.4L305 1835.1L307 1830.7L309 1832.3L311 1834L313 1828.5L315 1825.4L317 1834.4L319 1838.1L321 1833.7L323 1830.3L325 1827.2L327 1838.2L329 1827.9L331 1829.7L333 1835.1L335 1810.8L337 1793.3L339 1782.8L341 1768.4L343 1768.5L345 1774.4L347 1767.7L349 1756.8L351 1757.6L352 1863.7Z"/>
<path class="mod" d="M276.5 1771.5l0 22.5 .5-9 .5-10 0 8 .5-21 0 3 .5 22.5 0-20.5 .5 5.5 0-16.5 0-5 0 13.5 .5 3.5 0-7.5 0-1 .5 22 .5 1.5 0-3.5 0 11.5 .5 1.5 .5-47.5 0 32 0-23 .5 24 0-33 0 29.5 1.5 4.5 0-32.5 0 22 0-26 0 24.5 0 6 .5-5 1-14.5 0 4.5 .5-.5 0 15.5 0-27.5 0-31.5 0 61 .5-6 .5 2.5 .5-3.5 0 4.5 .5-31.5 .5 24.5 0 3.5 0 6 .5 4 0-23 .5 17.5 .5 1 .5-37 0 32 .5-26 0 46.5 1-3 0-8 0-8 0 11.5 0 10.5 .5-22 0 16 0-17 1 23.5 .5-18 0 11.5 0-15.5 0 16 .5-11.5 0 15 .5-43 .5 40.5 0-17 .5-7 0 17 0 8 .5-20.5 0 8.5 .5-31 0-26.5 .5 37 0 9.5 .5-8 0 17 0-13.5 1 9.5 0 7.5 0-44 .5 42 0-15.5 1 17.5 .5 3.5 0 9.5 .5-3.5 0 15.5 .5 1 .5 3.5 .5-.5 0-9 .5 20.5 0-2.5 .5-15 0 29.5 0-5.5 1.5 .5 0 5 0 2.5 1.5-24.5 0 18 .5-34 0 40 0-5.5 .5-6 .5-8.5 0 15 0-4.5 1-1 .5 8 0-6 0-28 .5 29.5 1-35 0 44.5 0-6 0-16.5 .5-14 .5 27 1 3 0-9.5 .5 4.5 0-31.5 0 1.5 1.5 14.5 0 17.5 .5-13 0 19.5 .5-.5 .5 5.5 .5-11.5 1-36 0 41.5 .5-37 0 40 1-3 0-16.5 0 14.5 0-30.5 .5 35 1-7.5 0-13.5 0 23.5 1-13.5 0-29.5 .5 25.5 0 10 .5 2.5 0-6 .5-5.5 0 11.5 0-20.5 1 8.5 0-21.5 .5 21 .5 16 1-15.5 0 5.5 0-8.5 .5-6.5 0 31.5 .5-15 .5 7 .5-40.5 0 34 .5-33 0 28.5 .5 0 .5-5 .5-11.5 0 2 .5 19.5 .5-4.5 0-1 0 5 .5-37.5 0 35.5 1 1.5 0-2 .5 8 0-35 0 6 .5 17.5 .5-8 0-14 .5 11.5 0-15.5 .5-4.5 0 12.5 .5-4.5 0-30.5 .5 2 1 6 0 13 0-2 0-21.5 .5 26.5 0-7.5 0-7.5 .5-5 .5-12.5 0 24.5 .5-6 0-17.5 .5 11.5 .5-6.5 0-8.5 .5 2 0-8 .5 9.5 .5 8 .5-15.5 .5-2.5 0 2.5 0 4.5 .5 4 .5 9.5 .5-18 0 6.5 .5-1 .5-19 0 28.5 0 0 0-14.5 0-1 0 15.5 1-6.5 .5-9.5 0 1 0 4 1 8 .5-6 .5-14.5 0 12 .5-3 0-2 .5-4 1 2 .5-3 0 13 0 0 1-1.5"/>
<path class="sb" d="M352 1863.7L352 1784L354 1762.7L356 1757.2L358 1778.2L360 1778L362 1810.8L364 1831.6L366 1838.9L368 1836.9L370 1837.3L372 1842.1L374 1842.1L376 1839L378 1841.3L380 1842.9L382 1836.3L384 1836.1L386 1842L388 1837.2L390 1845.6L392 1844.3L394 1842.9L396 1832.4L398 1815.7L400 1794.4L402 1788L404 1786.9L406 1789.5L408 1786.3L410 1778.9L412 1783.3L414 1779.6L416 1796.7L416 1863.7Z"/>
<path class="mbd" d="M352 1756l0 13 .5 12 0-1 0-19.5 .5-9.5 .5 10 0-13.5 .5 9 0 8.5 .5-51 .5 48 .5-5.5 0-9 .5 6.5 0 6 .5-3 .5-2.5 0 9 .5 17 .5-19.5 0 20.5 .5-6.5 0-31.5 0 22 .5 1.5 0-1 .5-15.5 0 7.5 .5 2.5 0-20.5 0 27.5 0-9.5 .5-5.5 .5 33 0 9.5 0-10.5 1 15 .5-37.5 0 47 0 4.5 .5-3 0-53.5 0-6.5 1 77.5 0 1 0-10.5 0-46.5 1 28.5 0 40 0-49 .5 51 .5-7.5 .5-18 0 5.5 1 15 0-1 .5-53.5 0 50.5 .5 1 .5 2.5 0-30 .5 4 1-78.5 0 105.5 .5-68 0 67.5 .5-8 0 12.5 1-2 0-50.5 0 52.5 .5-34.5 .5 28.5 .5 5.5 0-3 0-25 0 21.5 1-1.5 0-18.5 1 12.5 0 7.5 0-9.5 .5-42 0 26 .5 26.5 .5-.5 0 9.5 .5-10.5 .5 8 .5-111 0 81.5 0-115 .5 123.5 0 16.5 0-52.5 .5 54.5 1 3 .5-15.5 0 6 .5 2.5 .5-25.5 0-27 .5 50.5 0-10.5 0 11 1 3 .5-24 0-83.5 0 99.5 1 7 0-54 .5-4 0 9 .5 52.5 .5-3 .5 6.5 0-45.5 .5 34.5 .5-13.5 0 22 .5-86.5 .5 80.5 .5 14 0-12.5 .5-3.5 0 8.5 0 .5 .5-34 .5-20.5 .5 54.5 0-11.5 .5-44.5 0 19 .5 36.5 .5 3 .5-6 0-2.5 1-58 0 57.5 .5 .5 .5-9 0-44 0 4.5 0 44.5 .5-12 .5-51 .5 53 .5-58.5 0 47 .5-6 0-2.5 0-4 0-8.5 .5 4 .5-1.5 0-14 .5-18 0 31 0-5.5 1-19 0 10 0 6.5 0 7.5 0-27 0-16.5 .5-4 0-10 0 28.5 0-13 0 7.5 0 18 .5-5 0-18 0 23 0-15.5 0 8 0-12.5 .5-13.5 0 30.5 0-35.5 0 3 0 33.5 0 0 0-25.5 .5 36.5 0-8.5 0 3.5 .5-8.5 .5 7 0 10.5 1-20 0 17 0 3.5 1-20 0 11 0-2 .5-24 0 24.5 0-.5 .5-13.5 .5 10 0 15.5 0-20 .5 2.5 0 3.5 .5-31.5 .5-3 0 7.5 0 24.5 .5-3 0 3 0-5 .5 2 .5-3 0-25 .5 29.5 0 4 0-4.5 1 10.5 .5-5 .5-6 0-6 .5 13.5 0 3.5 0-8 0-29 .5 27 .5-5.5 0-8.5 .5 17 0 18 .5-4.5 0-46 .5-33.5 0 75 0-85.5 0 43 0-29.5 0 9.5 0 3 0 6 0-27 .5 69 0-39.5 0 67.5 0-95 0 11 0-2.5 0 22.5 .5-8.5 0-8.5 0 18.5 0-37"/>
<path class="so" d="M416 1863.7L416 1787.4L418 1782.4L420 1784.3L422 1795.2L424 1775.1L426 1780.8L428 1791.5L430 1781.4L432 1781.1L434 1781.3L436 1794.4L438 1805.5L440 1818.8L442 1817.2L444 1809.4L446 1821.1L448 1819.7L450 1818.8L452 1812.5L454 1819.4L456 1798.2L458 1812.1L460 1824.8L462 1841.4L464 1838.8L466 1833.1L468 1835.1L470 1832L472 1836.4L474 1833.4L476 1833.8L478 1833.3L480 1824.4L482 1801.8L484 1782.2L486 1779.1L488 1771.1L490 1780.8L492 1789.4L494 1774.5L496 1780.7L498 1769L498 1863.7Z"/>
<path class="mod" d="M416 1790l.5-47 0 24.5 0 14 .5-3.5 .5-9 .5-2.5 0-26 0 32 .5-.5 0 0 0 3.5 1-10.5 0 15 0-6.5 .5-12 0 4.5 .5-5 0 30 0-18.5 .5-14 0 14 .5-4 0 27 .5-7.5 0-39.5 0 48.5 .5-11.5 .5-12.5 .5-1 0-11.5 .5 16.5 0-11 .5-7 0 4 0 3.5 1 2.5 .5-1.5 0-2.5 .5-20.5 0 22 0 7 0-1.5 .5-2.5 .5 9 .5 1 0-36 0-3.5 .5 36 0 2.5 0-13 .5 20 0-43 0 30.5 0 3.5 .5-15 0 7.5 .5 13 .5-16 0 7.5 0-18.5 .5 14 0 5 .5-9.5 0 2.5 .5 10 .5-14 0 4.5 0-.5 .5 3 .5-11 0 12.5 0 13 0-28 1 15 0-11 0 28 0-16 .5 4.5 1 15.5 0-43 0 48.5 .5-41.5 .5 31 0-21.5 0 19.5 0 17 .5-11.5 .5-28.5 0-47.5 0 29.5 .5 37 0 23 0-11 .5 1 0 12 .5-7 0 11 0-15 .5 9.5 0 11.5 .5 4.5 0-47.5 0 37.5 0-88.5 0 44.5 .5 45 0-13.5 0 15 .5-15 0 .5 0 13.5 .5 5 .5-22.5 0 6 .5 1 0 1.5 0 9.5 .5 .5 .5-16 0 11.5 0-55.5 .5 29 0 27.5 .5-65 0 54.5 0 12.5 0-26 1-22 0 51.5 0-24.5 0-1.5 .5 27 0-31.5 0 33.5 .5-53 0 55 1-22 0 3 0 14 0 2.5 .5-15.5 0-24.5 .5 32 0 3.5 .5-29.5 0-6.5 .5 11 0 1 0 32.5 .5-6 0-3.5 0-.5 .5-37.5 0 28 0-1 .5-25 0 14 .5 5.5 0 11 0-8 .5 1 .5 3.5 0 6 .5-17.5 0-17 0 42 .5-29 0 25 0-60 .5 35.5 .5 20 0-6 .5-36.5 0 16 .5 12.5 0-33 .5-3.5 0 .5 .5 19 .5 23 .5 4.5 0-.5 .5-62.5 0 67 0-13.5 0-52 .5 65.5 0 8.5 .5-3.5 0-1 .5-65.5 0 74 .5-31 0 1 0 27.5 0-23 0-3 0-2.5 0 0 0 5.5 .5 35 0-36.5 0-56.5 .5 94 0-1 .5-16 0-22.5 0-2 .5 10 0 38 0-94 0 50 0-52.5 0 4 .5-7.5 0 54 .5 44 0 0 0-23 0-21 0-49.5 0 65 0-64.5 0-1.5 .5 50.5 0 48.5 .5-11 0-85 0-4.5 0 92 0-86.5 0 47 .5 44 0-89.5 0 83 0-39.5 0 3.5 .5-1.5 .5 42.5 0-28.5 .5-63.5 0 81 0-78 0-4 .5 87.5 .5 3 0-6 0-85.5 0-.5 .5 66 0 31 0-10.5 .5-83.5 0 1.5 0 45.5 0-52 .5 71.5 0-63.5 0 45.5 0-2.5 0 38 .5-38.5 .5-42 0-7.5 0 80 0-76 .5-2 0 89 0-85 0 81 0-81 0 54.5 0-59 0 88 0-85 .5 51.5 0 2.5 0 36.5 .5-13 .5-80.5 0 53.5 0 42.5 .5-98 0 88.5 0-80.5 .5-2.5 0-4 0 62.5 0 33.5 .5-90 .5 54.5 0 29 0-86.5 .5 72.5 0 11.5 .5 6.5 0-92.5 .5 4 0 80.5 0-83.5 0-.5 0 3 0 89 0 1.5 .5-97 0 71.5 0-68.5 0 81.5 .5-78.5 0 61 0 31.5 .5-92 0 2 .5-3 0 49.5 .5-52.5 0 94 0-.5 0-41.5 0-50 0 47 0-49.5 .5 90 .5-6 0-80 1 66 0 13.5 0-8.5 0-74 .5 82 0-83 0 56 0-55.5 0 59.5 .5 7 0-35 .5 13 0-1 .5 20 .5-46 0 18.5 0-2.5 .5-1.5 .5 0 .5 4.5 .5-15 0-.5 0 19.5 .5-22.5 0 23 .5-12.5 0 3.5 0-10 .5-1.5 0 8.5 .5-6.5 .5 3 0-3.5 1 3 0-10 .5 9 0 8.5 .5-11 0 3 .5 9 .5-6.5 0 9.5 .5-11 0 20.5 .5-18 0 1 .5-22.5 .5 25.5 0-20 .5 19 0 14.5 .5-21.5 0 4.5 0-4.5 .5 9.5 0 3 .5-33 0 14 .5 17 0 2 .5 1.5 .5-22 .5 17.5 0-10 .5 13 .5-10 0 9 .5-9 0-3.5 .5-4 0 3.5"/>
<path class="sb" d="M498 1863.7L498 1783.8L500 1769.5L502 1772.6L504 1768.1L506 1783L508 1825.3L510 1853.1L512 1853.1L514 1851.3L516 1850.6L518 1849.6L520 1849.8L522 1854.8L524 1854.6L526 1853.3L528 1853.6L530 1855.8L532 1854.7L534 1839.3L536 1812.1L538 1770.1L540 1789L542 1790.4L544 1785.6L546 1794.5L548 1779.1L550 1789.8L552 1788.9L554 1787.8L556 1776.4L556 1863.7Z"/>
<path class="mbd" d="M498 1766.5l0 9 0-45 .5 45.5 0-10 .5-8.5 0-4.5 .5 18 0 2.5 .5-17.5 .5-3 0-6.5 0-3.5 0 11.5 .5 8.5 0-37 .5 35 0-42.5 0 6.5 0 42.5 0-37 0 13.5 0-11 .5-3 0 6.5 0 24.5 0-9.5 0-28 0 4.5 0 39 .5 6.5 0-57.5 0 41 0-10.5 0-25 0 28 0-11 .5-4 0 6.5 0 14 0-6.5 0-26.5 .5 26.5 0-7.5 .5 15 0 5.5 0-11.5 1-26 0 1.5 0 33.5 0 4 .5-9 0 21.5 0-9 .5 15.5 0-13.5 .5-48.5 .5 70.5 0 16 0-12 1-20.5 0 52.5 0-15 .5 6.5 .5 19 .5-39.5 0 53 1-.5 .5-18 0 22 .5 0 .5-30.5 .5-4 .5 34.5 .5-3.5 .5-14.5 0-56 1 43 .5 29 .5-28 0 29.5 0-13 1 6 .5 7 1-6 0 5 .5-.5 0-29 .5 4.5 1 23.5 0-9.5 .5 10.5 1 .5 0-63 1 17.5 0 46.5 .5-23.5 .5 22.5 0-38 .5 39.5 .5-50.5 .5 52 .5-54 1 12 .5 44.5 0-7 1-30.5 0 37 .5-27 1 12.5 .5 13.5 .5 1 .5-76 .5 74.5 .5-67.5 .5 63.5 0-15 0-55.5 .5 59.5 1-16 0 1 .5 3.5 0-14 .5-20.5 1 15.5 0-31 .5 8 .5-5 0 4.5 0-14 0-17.5 .5 10.5 .5 12.5 1-9 0 11.5 0-4.5 1 0 0 5.5 .5-7.5 .5 13 0 2 0-18 .5 8 0 8 .5-9 .5-4 0-29 0 46.5 0-10.5 .5-41.5 .5 30 0-20.5 .5 33 0-3.5 .5-3.5 0-2 0-21.5 .5 20.5 0 11 .5-11.5 0 18.5 0 5 .5-7.5 0-3.5 .5-40.5 0 24 0 3 1-.5 0-19 0 26 .5 5.5 0-6 .5-27.5 0-7 .5-2.5 0-1.5 0-24 .5 45 0 7 0-56.5 0 82.5 0-76 0 51.5 0-22.5 0-2.5 0 4.5 0-23.5 0 3 0-7 0 68.5 0-35.5 .5 11 0-13.5 0-28.5 0 12 0 21.5 0 10 0-4 0-25.5 0 45.5 0-52.5 0-16.5 0 45.5 0-25.5 0 13.5 .5 38 .5-2 .5 10.5 0-22 .5-13 .5 10 0 14 0-3.5 .5 6.5 1-17 0 17 0-17 .5-11.5 0 14 0-5 0 10.5 .5-.5 .5-11.5 .5-7.5"/>
<path class="so" d="M556 1863.7L556 1754.6L558 1759L560 1759.9L562 1753.9L564 1771.1L566 1769.1L568 1765.5L570 1779L572 1768L574 1756.2L576 1751.4L578 1747.5L580 1746L582 1748.4L584 1755.8L586 1755.4L588 1789.7L590 1812.4L592 1817.9L594 1809.5L596 1810.9L598 1812L600 1816.3L602 1811.4L604 1836.3L606 1835.5L608 1840.5L610 1842.5L612 1838.5L614 1839.7L616 1846.3L618 1847.6L620 1840.3L622 1827L624 1803.1L626 1773.6L628 1775.3L630 1763.9L632 1761.5L634 1776.1L636 1781.4L636 1863.7Z"/>
<path class="mod" d="M556 1751l.5-9 .5 1.5 0-3.5 0 3.5 .5-19 0 36.5 0-2 0-18 1 2 0 18 .5-12.5 0-6 0-.5 .5-8.5 .5 8 0 14 0-11.5 .5 7 0 2.5 .5-12.5 .5-15.5 0 35.5 0-25 0 3.5 0-5.5 1-11.5 .5 16.5 .5 22.5 0-5.5 0-15 0-16.5 .5 42 0-10 0 8 .5-44.5 .5 18 0 19 0 13.5 .5-34.5 0 22.5 0-6 0-2 .5 11 .5 9 .5-15.5 0-13 0 8.5 0 4.5 .5 11 0-26.5 0 9.5 .5 12.5 .5 0 .5-26.5 .5 32.5 0-1.5 0-4.5 0 3 0 17.5 .5-15.5 .5-32 .5 32 0-15 0 12 .5-25.5 0 31 .5-15.5 0 13 0-36.5 .5 15.5 0 17 0-22 .5 5.5 0 7 .5-4 1-5.5 0-13.5 0-7.5 .5 23 0 5 0-3.5 0-37 .5 34 0-6 .5 3.5 .5-3 .5-6.5 0 7 0 6 .5-39.5 0 27 .5 8.5 0 4.5 0-19 .5-12 0-9.5 0 19.5 0 19.5 0-10 .5-11.5 0-2.5 0 8.5 .5 10.5 0-23 0-4 0 17.5 0 4 0-15 0 13.5 0-25 0 3 1 1.5 0 22 0-3.5 .5 .5 0 15.5 .5-4.5 .5-30.5 0 36.5 0 2 .5-2.5 0-3.5 .5 8 .5-19 0 23 0-30 .5 15.5 .5 1.5 0-18.5 .5 11.5 0 1.5 0-19 1 20 0 14 0 6 .5-18.5 0 24.5 0-2 .5 12.5 0-21 1 13.5 0 11.5 0 8 0-20 0 0 0 0 .5-16 0 46.5 0-26 0 27 .5-31 0 1.5 0-1.5 0-.5 .5 23.5 0 7.5 0-22 0-11 0 38 0-31 .5 29.5 0-2 0 11 0-9.5 0-31 .5 28 0 1.5 0-32 0 3 0 27.5 .5-20 0 21 0-1 0 3 .5-25.5 0 44.5 0-11 0-43 0 29 0 22.5 .5-6 0-16 0 3.5 0-31.5 .5 52 0-22.5 0-6 0 5.5 0 12 0-37 .5 40.5 0-14 1-1 0-.5 0 16 0-13.5 0 7.5 .5-13 0 8.5 0 0 0-36.5 0 32.5 .5-10 0 11.5 0 5.5 .5-4 .5-14 0-15.5 .5 34.5 0-16 0 19.5 .5-42.5 0 31.5 0 1 .5 9 0-29.5 0-7 .5 26 .5-.5 0-27 0-3 0 30.5 0 14 0-46 0 4.5 0 31 .5 7 0-9.5 0-5.5 0-26.5 0 5.5 .5-5.5 0 36 .5-34.5 0 31.5 0 1 .5 11.5 0-42.5 0 43 .5-14 0-32.5 .5 34 0-28 0 32.5 0-4.5 .5-28.5 0-5.5 0 31.5 0 3 .5-1 0-13 0 17 .5 7.5 0 4.5 .5-44 0 30 0-4.5 0-28 0 31 .5 1 0 27 0 9.5 0-37.5 1-1.5 0 27 0 5 .5-7 0-6 .5 16 0 .5 0-31.5 1 37.5 0 .5 .5-13 .5-29.5 0 35 .5-30 0 0 .5 30.5 .5 4.5 .5-4.5 .5 2.5 .5-16.5 .5 13.5 0 4 0-13.5 .5 14 0-12.5 .5 13.5 0-16 .5 9 .5-12 .5 22 .5-7 0-15 .5-39.5 0 59 0-47.5 .5 45.5 .5-18.5 0 25.5 0-5.5 1-8.5 0 13.5 .5 5.5 .5-53 .5 47 0-7 .5 10.5 0-12 .5-.5 .5-53.5 0 55 1 1.5 0-6.5 .5-29 .5 27.5 0-5 .5-6.5 0-10 .5 7.5 .5-22 .5-25.5 0 39 0-29 .5 23.5 0-11 0-16.5 .5-12.5 .5 24.5 0-15.5 .5 2.5 0-38.5 0 31.5 .5-26 0-9.5 .5 45.5 0-15.5 0-22.5 1 38 0-10 .5-2 0-1.5 0-9.5 1 3 0 5.5 0-9.5 0-13.5 0 26.5 .5-13 1 6 0-3 0-6 .5-3 0-2 0 4 1 5 0 18.5 0-6 0-16 .5 9 1 4 0-17 0 29 .5 3 0-17.5 .5-13 0 25.5 0 5.5 .5-23.5 0 7.5 0-12 .5 16.5 0 2 0-5 0 21"/>
<path class="sb" d="M636 1863.7L636 1798.2L638 1784.2L640 1783.1L642 1780.8L644 1786.5L646 1799.7L648 1791.1L650 1786.2L652 1790.8L654 1787.2L656 1794.5L658 1792.2L660 1775.2L662 1791.3L664 1814.3L666 1811.4L668 1811.3L670 1820.8L672 1828L674 1816.6L676 1831.8L678 1825.6L680 1825.2L682 1814.6L684 1816.1L686 1803.2L688 1796L690 1810.9L692 1811.4L694 1807.6L696 1816L698 1811.4L700 1818L702 1809.6L702 1863.7Z"/>
<path class="mbd" d="M636 1780.5l0 5.5 0 13.5 .5-38 0 16.5 .5 12 0-14 0-6 .5 4 .5-4.5 0-1 0-22.5 .5 28.5 .5-14 .5 23.5 0-19.5 0 18 .5 1 .5-10.5 .5-3 0-2.5 .5-7.5 0 7 .5 15 .5-10 0-17.5 .5 26.5 0-37 0 26 .5 17.5 .5 2 0-20.5 .5 16 .5-6.5 0-2 .5 1.5 0 1.5 0 17.5 0-38 .5-5.5 0 40.5 0-72 0 33.5 .5 14.5 0-12.5 0-24.5 0 40.5 0-7 0 23.5 .5-50 0-12.5 0-11.5 0 64.5 0-56 0 18.5 0 29 0-12 0 2.5 0 17 0-7.5 0-37 .5 33.5 0-49.5 0 45.5 0-12 0-2.5 0-12.5 0 35 0-27.5 .5 2 0-17 0 33.5 0 16 0 11 1-20 0 20 0-1 .5-17.5 0 13 .5-22 0 25.5 0-2 .5-19 .5 5.5 0-22 0 38 .5-16 0 2 0 14 .5-26.5 .5-17 0 34 .5-9.5 .5 14 0-8.5 0 2 0-32 .5-5.5 .5 32.5 0 15.5 0-7.5 0-5 .5 8 .5-8 .5-9 0 13.5 0 13.5 0-3 .5-51.5 0 31 0-11 0-13.5 0-2 0 20.5 0-15.5 .5 18.5 0 25 0-10.5 0-47.5 0 19.5 .5-17.5 0 26 0 19 0-25.5 0-5 0-9.5 0 31 .5 23.5 .5-7.5 0-12 0-13 .5 21.5 .5-12 0 8 0-14 0 7 1 10 0-28.5 1 11 0 28 .5-6 .5-12 0-3 1 23 0 9.5 0-19 .5 19 0 8.5 .5-12.5 .5-2.5 0 14 .5 6.5 .5-11.5 0 4 0-6 0-18.5 0 0 .5 2 0 8 0-8 1 17 0-13.5 0-10 0 1.5 0 17 .5-18.5 0 31 .5-11 0-17 0 27.5 0-24 0-4.5 0 23.5 .5-22.5 0-3 0 7 0 21.5 0-24 .5 9.5 .5 11.5 0-3.5 .5 15.5 .5-34.5 0 30 0 2.5 0-19.5 0-13 .5-1.5 0 4.5 0 29.5 0-29 0 15 0 16 0 3.5 .5-37 0-3 .5 2.5 0 36.5 0-9.5 0 11 0-11 .5-30 .5 1 0 23.5 .5-19 0 12.5 .5-6 0 24 .5-6 0-7 .5-3.5 0 12 0-5 0 13.5 .5-35 .5 41.5 0-44.5 .5 4.5 0 38 0-10 0 13 0-43.5 .5 6.5 0-5.5 0-3.5 0 4.5 0 40 .5-29 0 19 0-11 .5-23.5 0 23.5 .5 17 .5-6.5 .5 5.5 0-4.5 .5-19.5 .5 8.5 .5 4.5 0-19 .5 22.5 0-11.5 0 8 .5-17.5 0 11 0-3 .5 0 .5 6.5 0-9 .5 1.5 0 9 .5-19.5 0 21.5 .5-32 0 17 .5 7.5 .5-3.5 0-15.5 0 14 .5-11 0-10.5 1 17 0-17.5 0 15 1 4.5 0-2 1 0 0 16.5 .5-10.5 0 0 .5 10 .5-11 0-8.5 0 20.5 .5-.5 .5-13.5 0-2.5 1 8.5 0-6 0-20 0 15.5 1-2 0 6 .5-1.5 0 4 0 6.5 .5-.5 .5-24.5 0 10 .5 21.5 0-17 .5 12 .5-11.5 0 17 .5-3.5 0 2 0-3 .5-13 .5-17.5 .5 22 0 .5 .5-14.5 0 33.5 0-52 .5 40.5 0-17.5 0 19.5 .5-12.5 0-8 .5 18 0 6.5 .5-16 1-2 0-.5"/>
<path class="so" d="M702 1863.7L702 1771.7L704 1774.6L706 1769.9L708 1781.3L710 1784.4L712 1783L714 1786.9L716 1776.6L718 1766L720 1772.4L722 1787.8L724 1773.8L726 1775.5L728 1785.9L730 1769.2L732 1782.7L734 1790.6L736 1782.3L738 1783.3L740 1791.8L742 1791.8L744 1786L746 1799L748 1784.5L750 1774.6L752 1793.7L754 1789.2L756 1785.2L758 1801.7L760 1789.5L762 1794.1L764 1782L766 1785L768 1799.3L770 1793L772 1790.4L774 1787.6L775 1863.7Z"/>
<ellipse cx="746.5" cy="1816" rx="6.5" ry="34" fill="#fff"/>
<path class="mod" d="M701.5 1763l.5-2.5 .5 3 .5 5.5 .5-7 .5 6 0-16.5 0 17.5 .5 7 .5-11 0-13.5 0 8 .5 5 .5-3 0-22 0 3.5 .5 9.5 0-21.5 0 47.5 0-53.5 0 38 .5-7.5 0-4.5 0 11.5 0-28.5 0 2.5 0 5 0-19.5 0 26.5 0 14 0-22.5 0 25 .5 3.5 0-54.5 0 6 0 27 0 12 0-14 0 21 0-49.5 0 11.5 0 56 .5-18.5 0 17 .5-4.5 0-6 .5-13.5 .5 15 0-.5 0-19.5 0 17.5 0-3 1-3.5 0 10.5 .5-7 0 8.5 .5-22 .5 24 0-14 0-3.5 .5-12 0 37 .5-20.5 0-15.5 .5 15.5 0 3 .5 0 .5 9 0 1.5 0-17.5 .5 4.5 0 2 .5 8.5 .5-12.5 0-1.5 0 7.5 .5 5 0-18 .5 6.5 .5-4 .5 7.5 1-1 0-5 .5-10.5 .5 10 .5 2 0 10.5 .5-8 0 6 .5-3 .5 6 0 4 .5 6 0-23.5 1 15 0 8 .5-26 0 4.5 0 2.5 .5 0 0 4.5 1-6.5 0 7.5 .5 9 0-14.5 1 11 .5 4 0-21 .5 24 0-4.5 .5-2 0-14.5 .5 12 .5-23.5 0 19.5 .5-6.5 0-10.5 .5 7.5 0 19.5 0-14 1.5 20.5 0-10 0-24.5 0 16 1-5 0 21 .5-10.5 0-10.5 .5 29.5 0-34 0 32.5 0-18.5 .5 4.5 .5-7 0-5.5 .5 7 0-6 0 9 .5-5 .5-15 .5 8.5 0 21.5 0 2 0-1.5 1 .5 0-12 0-15.5 .5 5 0 24.5 .5-15 0-3.5 .5 11 0 2.5 .5-3.5 0 5 .5-15.5 0 11 .5 31 0-38.5 0 6.5 0-17.5 0 36.5 1-15.5 0 28 0-49.5 .5 15 0 4.5 .5-13 0 16.5 .5-16 0 19.5 0-11 .5 1 .5 46 0-39.5 0-2 .5 46.5 .5-62 0 15.5 .5 22.5 0 27.5 1-53.5 0 26 .5-16 0-5.5 0-9.5 .5 0 0-9 0 18.5 1 49 0-67.5 0 19.5 .5 64 0-72 .5-8 0 21.5 .5 49.5 0-60.5 0-7 .5 56 1.5 .5 0-47.5 0 36 .5-37 .5-3 .5-2.5 0 70 .5-60 0-9.5 .5-1 .5-2 0 3 0-5 0 2 1 7 .5 3 0 0 0-12.5 .5 17 0-15.5 .5 22.5 .5 10 0-31 .5 14.5 .5-1.5 .5-28.5 0 34 0-20.5 0 11 .5 9 0-13.5 .5 11 .5 7 0-11 .5-6 1 8.5 0-10.5 .5 12.5 0-19.5 .5 12 .5 2.5 .5-21 0 24.5 1-3 0-27.5 .5 12 0-.5 .5 17.5 0 5 .5-29 .5-4 0 44 0-14.5 0 8.5 .5-19.5 .5 16.5 .5-1 0-8 0-6 .5 4.5 0-3 .5 5.5 0-5.5 1 .5 0 8 .5-11.5 0-9.5 0 11.5 0 7 .5-5.5 .5-4.5 .5 0 .5 1 0 .5 .5 14.5 0-2.5 0-28 0 15.5 1 11"/>
<path class="sb" d="M775 1863.7L775 1779L777 1778.5L779 1765.3L781 1760.5L783 1766L785 1790L787 1828.9L789 1828.8L791 1817.2L793 1823.7L795 1819.9L797 1825.4L799 1814.1L801 1813.7L803 1820.6L805 1815.3L807 1813.1L809 1830.4L811 1828.9L813 1833.7L815 1826.2L817 1818.9L819 1832.6L821 1833.8L823 1828.9L825 1811.5L827 1794.5L829 1781L831 1790.5L833 1782.9L835 1784.1L837 1775.2L839 1773.4L841 1779.4L843 1788.2L845 1781.5L846 1863.7Z"/>
<path class="mbd" d="M774.5 1758l0-2.5 .5 7 0-77.5 0 29.5 .5 13 0 8.5 0 41 0-46.5 0-12.5 0 2.5 0-11 0 61.5 0-74 0 48 .5-45.5 0 42 0-18.5 0-28.5 0 69 0-57 0 59 0-33 0-16.5 .5 33.5 0-48 0 56.5 0-67 0 21.5 0-24.5 0 46 0 14 0 29.5 0-14 0-60.5 .5 22.5 0 13 0 24 0 16.5 .5-16.5 0-10 .5 12.5 .5-5 .5 7.5 0-5 0-12.5 .5 2.5 0-18.5 .5 22 .5-4 .5 11.5 0-29.5 .5 8.5 .5 11 .5-4 .5 6.5 .5 5.5 0 8.5 0 6 .5-46 0 45 .5 6 .5 8.5 .5-7.5 0 5 0 10 .5-24.5 0 30.5 .5 10.5 .5-24 0 36.5 .5-38 0 28.5 .5 13 .5-16.5 0 9.5 0 1.5 0 4 .5-1 .5-2 0-19 .5 9 .5-33 1 3 0 30.5 0 2 .5-6.5 .5 4 0-2 0 6.5 0 5.5 .5-42 .5 9 .5 24.5 0-19 .5 10 0 .5 0 0 1 15 0-26 0 17.5 .5-3.5 .5 0 0-13.5 .5 9.5 0 16 0 4 0-14.5 1 3.5 0-14.5 .5-18.5 0 29 0-3 0-11.5 1 13 0-30.5 .5 15 0 18 .5-4 .5-17 0-4.5 .5 28.5 0-22.5 0 3 .5 14 .5-6.5 .5 19.5 0-30 .5 19.5 .5 5 0 3 0-8.5 .5 2.5 0-23 .5-5 1-3 0 14.5 0 10.5 .5 8.5 .5-10.5 0 .5 0 2.5 .5-14.5 0 9 .5-3 .5 17 .5 7 0 6 .5-8.5 0 6.5 .5-10 0 5 0-10.5 .5-1.5 .5 10 0-26 .5 29 .5 7.5 0-16.5 .5-33.5 0 48 0-3 0-1 .5-26 1 29 .5-9 0-15.5 0 16 0-9 .5 0 0 17 .5-43 .5 35.5 0-42 0 5 .5 39 0-13 .5-7.5 0 13.5 0-24.5 0 21.5 .5-16.5 .5-3.5 .5 26 0-9 0 4 .5-15 0 31 0-3 .5-24 0 23.5 .5-23 0 7.5 0 22 .5-10 .5-41 0 47.5 0-133.5 1 130 0 1.5 0-34 .5 1 0 29 0-4 0 9 1-10 .5-2.5 0-8.5 .5 12 0-18.5 0 4 .5 3.5 0-33.5 .5 12.5 .5-13 0 1.5 0 29 .5-2 .5-38 0 25.5 .5-5 0-8 0-2.5 .5-5 0-9.5 .5 31 .5-30 0 16.5 0 5 .5-30.5 .5-3.5 0 12.5 0 7 0 2.5 .5 5 .5 10 0-9 0 10.5 .5-43 .5 35 0 6 0-19.5 .5 6 .5-3 0-24 .5 19.5 0 6 0-11 .5 15.5 0-7 0 9.5 1-15.5 0 7.5 0-1 0 11 .5-13.5 0 13 .5-4.5 .5-28.5 0 15.5 .5-11.5 0 17.5 .5-10.5 .5 19 0-2.5 0-9 .5-3 .5 1.5 .5 2 0 11.5 .5-12 0-3.5 .5-17 .5 11.5 0 20.5 0-12.5 0 9.5 1 9 0-31 0 28.5 .5-18 0 25 .5 .5 0-24 0 1.5 0-9 .5 15 .5-5 0 16 .5-36 0 10 .5 3.5 0 0 0 1 0 3 .5-3 .5 6 .5 17.5 0 .5"/>
<path class="so" d="M846 1863.7L846 1750.5L848 1741.1L850 1735L852 1741.6L854 1753.6L856 1757.5L858 1760.1L860 1792.1L862 1826.5L864 1851.2L866 1847.5L868 1847.6L870 1850.3L872 1851.2L874 1846.6L876 1848.1L878 1848L880 1845.2L882 1846.5L884 1848.7L886 1846.2L888 1849.9L890 1850.7L892 1847.4L894 1844.5L896 1832.8L898 1808L900 1795.2L902 1791.8L904 1800.7L906 1792.4L908 1794.8L910 1789.9L912 1791.2L914 1785.4L916 1779.4L918 1784L920 1799.1L922 1798L924 1803.4L924 1863.7Z"/>
<path class="mod" d="M846 1729.5l0 9.5 0 14.5 .5-24 .5 11.5 .5-10 0-7.5 .5 7 .5 5 0-4.5 .5 3.5 0-12 0 7.5 .5 8 .5-23 .5 10 .5 3 0-2 .5-3 0 21.5 .5-4.5 0-13 1-3 0 1.5 0-4 0-6 0-3.5 .5 20 0 15 0 1 0-30 0 18.5 0 6.5 .5 14 .5-27 0 8 .5-29 0 41.5 0 2.5 0-18.5 .5-19 0 42 .5-15.5 0-13.5 0 13.5 .5-3.5 0 20.5 0-30.5 .5 6 0 15.5 0-1.5 1 11.5 0-5 0-4.5 0-8.5 .5 21.5 0 9.5 0-1.5 .5-24.5 0-14 .5 45 0 7 .5-4.5 .5 12 0-39.5 0 41.5 .5 0 0-73.5 0 74 .5 15 0-21 0 3.5 .5 33.5 .5-7 .5-20.5 0 50.5 .5 2.5 .5-58.5 .5 35.5 0 22.5 .5-41 .5 8.5 .5 30 0-25.5 0 1.5 1 20 0-49 .5 48.5 0 2 .5-16 .5 21 0-20 .5 12.5 0 3.5 .5 6 .5-43.5 0 31.5 .5 7.5 .5 6.5 0-13 .5 4.5 0-42.5 0 50 1-64 0 49.5 .5 11 .5-22.5 .5 19.5 0-53.5 .5 50.5 0-43.5 .5 49.5 .5-3 0-.5 .5-12.5 0-10.5 .5 19.5 0-38.5 1 41 .5-46.5 .5 52.5 0-7 0-29.5 .5 29.5 .5-17.5 0 15.5 .5-42.5 0 48.5 0-45 0 14.5 .5-16 .5 34 0-34 0-7.5 .5 3.5 0 38.5 0-28.5 0 36.5 .5-45 0 3.5 0 3 .5 43 0-45 .5-2.5 0 48 0-26 0-20 0-6.5 .5 47 0-41.5 0 2 0-8.5 0-2.5 .5 53 .5-44 0 18.5 0-16 0-8 .5-2.5 0 54 0-43 0-13 0 41.5 .5 11.5 0-12 .5-28.5 .5-8.5 0 24.5 .5-26 0 33 .5-6 0 22.5 0 3 0-54 0 1.5 0 4.5 0 47 .5-48.5 .5 40.5 0-35 0 45 0-40.5 .5-13 0 9.5 0-7.5 0 3.5 0 40.5 .5-48 .5 12 0-12 0 2 0 6.5 0-8 .5 57 0-51.5 0 18.5 0-19 0 7.5 0 36.5 0-46 0 51.5 .5-48 .5-5.5 0 5.5 0 38 .5-38 0 13.5 0 30.5 0-51.5 .5 13 0-7.5 0 51.5 0-53.5 0-1.5 .5 26 0 17 1.5-30 0-7.5 0 43.5 0-.5 .5-29.5 .5 36 0-13.5 1-52.5 0 49 1-50.5 0 38 0-6 0-10.5 .5-39.5 0 1 1 27.5 0 4 .5-1.5 .5-33.5 .5 25.5 0-37.5 0 25.5 1 9.5 0-.5 .5 8.5 0-.5 0-1 .5-25.5 0 17.5 .5-2.5 0 8 .5-8 .5 16.5 0-2 0-42.5 1 32.5 0 5 .5 7.5 .5-32 0 .5 .5 21 0 3.5 .5-29.5 .5 36.5 .5-13 0-29 0 40.5 .5-1 .5-6 0-21 .5 17.5 .5-1 0-7 .5 6.5 .5 .5 .5-32 0 12 .5 29 0-19.5 .5 13.5 0-34.5 0 28.5 .5-2 1 2.5 .5-23 0 15 .5 5 0-2 .5-8.5 .5 .5 0 2.5 0 4 1 2 .5-27 0 15 .5-14 0 24.5 .5-.5 0 9 .5 6.5 .5-43 0 36 .5 17 0-15 .5 14.5 .5-7.5 0-13.5 0-5.5 0 19.5 .5-17 0-32 .5 50 0-16 .5 9 0 15 .5-1.5 0-38.5 0 34.5 .5-21 0 11.5 .5 5 .5-13.5 0 14"/>
<path class="sb" d="M924 1863.7L924 1786.4L926 1788.7L928 1799.9L930 1783.1L932 1779.5L934 1797.4L936 1781.3L938 1795.6L940 1791.4L942 1781.8L944 1818.6L946 1834.1L948 1850.2L950 1849.4L952 1850.5L954 1852.3L956 1851.2L958 1847.3L960 1834.7L962 1825.3L964 1816.4L966 1813.4L968 1788.4L970 1793.6L972 1797.7L973 1863.7Z"/>
<path class="mbd" d="M924 1779.5l0-24 .5 22.5 .5 8.5 0-11.5 0-21 1 31.5 0-21 .5 25 0-23 0 23 0 .5 .5 5.5 .5-17 0 11 .5 5 0-34 .5 33 0-29.5 .5 20.5 0-14.5 0 9.5 1 3.5 0-36 .5 30.5 .5-4 0-1.5 .5 10 0-25 .5 18.5 .5-17 0 29.5 .5-7 1-5.5 0 19 0-22.5 .5 28 .5-22 0 10.5 1-15.5 .5 1.5 0-6 0-3 .5 11 0 1 0 10.5 .5 2 .5 9 .5-53.5 .5-.5 .5 14.5 0 30.5 0-69.5 0 27 .5 40 .5 .5 .5-10.5 0 11.5 .5-6.5 .5 1 .5-10.5 .5 29.5 0-1.5 0-16 .5 31.5 .5-7.5 0 5 1.5 3.5 0 7 0-45.5 .5 34 .5 20.5 0-39.5 .5 54 .5 1 0-44 1 38.5 .5 8 .5-48.5 0 43.5 .5 2 .5 2.5 0-27.5 0 12.5 .5 12.5 1 4.5 0-6.5 1 .5 .5 1.5 .5-27.5 0 31 .5-39.5 0-27.5 .5 66.5 0-13 1 5.5 0-10 .5 17.5 0-1 1-1 .5-50.5 1 0 0 40.5 0-28.5 .5-44.5 0-26.5 .5 95 .5-50.5 0-20.5 0-17.5 0 9.5 0-18 0 14.5 0 44 0 14 0-16 .5-63.5 0 76.5 0-40.5 0 32 0-38.5 0 8 0-24 0-16.5 0 48.5 0 51 0-12.5 0-41.5 .5-2.5 0 10.5 0 20.5 0-68.5 0 56.5 0-40.5 0 8 0 29 0 6.5 0-52.5 0 37.5 0-35 0 66.5 .5-74.5 0 70.5 0-40 0 61 .5-2.5 0-3.5 0-108 0 92.5 1 11.5 .5-12 0 8 1-1.5 0-11.5 1 14.5 0-12.5 .5 7 0-38.5 .5 30.5 0-31 0 25.5 .5-18.5 .5 13.5 1-2.5 .5-2 0-3 0 2.5 0 2.5 1.5-2.5 0 2.5 1-.5 0-2 0 9.5 .5-4 .5-3 .5-2.5 0 14"/>
<path class="so" d="M973 1863.7L973 1791.2L975 1770.7L977 1778.5L979 1763.6L981 1778.6L983 1778.8L985 1774.6L987 1778L989 1782.8L991 1789.1L993 1822.8L995 1859L997 1859.4L999 1859.6L1001 1859L1003 1860.4L1005 1860L1007 1858L1009 1857.4L1011 1858.4L1013 1858.3L1015 1859.9L1017 1858.1L1019 1859L1021 1808.5L1023 1777.6L1025 1750.9L1027 1752L1029 1755L1031 1750.1L1033 1752.9L1035 1763.2L1036 1863.7Z"/>
<path class="mod" d="M973 1788l0-17 0-6.5 0 25.5 1-18.5 0-10 0 2.5 .5-6 0-13.5 .5 8.5 0 17 .5-52.5 0 45 0-6.5 .5 6 0-1 0-26 0 13.5 .5-5 0-22.5 0 17 .5 19.5 0 23.5 0-65 0 12.5 0 1 .5 46.5 0-43 0 13 0-5.5 0 11 0-32 0 8 0-3 0 30 .5 8 0-2 0 3.5 0-3 .5 3 .5-13 .5 4.5 0-17.5 .5-7 .5 39.5 0-9 0 12.5 .5-17.5 .5 22.5 .5-43.5 .5 43 .5-17.5 0 20 0-1.5 .5-21 0 18.5 .5-3 .5-30.5 .5 29 0-6.5 .5-.5 0-32 0-.5 .5 45.5 0-13 0-8.5 1-8.5 0 12.5 0 2 0 17.5 .5-23.5 .5 17.5 0-17 0 21 .5-13 0-10 0 15.5 0 4.5 0-18 1 14 0-39.5 0 2.5 0 33 .5 11 0-13.5 .5-21 .5 11.5 0 25.5 0 9.5 0-4 0-61.5 .5 46 .5 31 .5 .5 .5 2.5 0-10.5 0 16.5 .5 11 0-4 0-1.5 0 25.5 0-.5 0-2.5 1-29 0-.5 .5 7.5 0 41.5 .5-17 0-13.5 .5-16.5 0 47 0-43.5 0 44 .5-42 0-6 0 49.5 0-3 .5-43.5 0 43 0 .5 0-39 .5-5.5 .5 21.5 0-16.5 0-4 0-3.5 .5 2.5 0 25.5 .5-23.5 0-6.5 0 50.5 0-41.5 .5 .5 .5 35.5 .5-20.5 0-16 0 42 0-38.5 0 22.5 .5-31.5 0 32.5 .5-32.5 0 2.5 0-6.5 .5 0 0 7 0-2 0-1.5 0 7 .5-3.5 0-1 0 3 .5 32 0-13.5 0-17 0 42 .5-53 .5 9.5 0-8 .5 .5 0 .5 0 42.5 .5-43 0 51.5 0-1.5 0-40 0 26 .5-24.5 .5 33 0 2.5 .5-7 .5-30.5 0 39.5 .5-2 0-48 0 52 1-16.5 .5-4.5 .5-3 .5 21.5 .5 1 0-13 .5-3 0 16 .5-30.5 0-7 .5 34 .5-10.5 .5 11.5 0 3 .5-13.5 .5-29.5 .5 43 .5-12.5 0 12.5 .5 1.5 0-1.5 0-15 1 16 1-5.5 0-3 0 1.5 .5-45.5 .5 47 0 5 1-42.5 0 16 .5-5.5 0-22.5 0 31.5 .5-5.5 0-60.5 0 10.5 1 24.5 0-31 0 13.5 .5-3 .5 7.5 .5-22.5 0-1.5 .5-34 .5 11 0-11.5 0 7 0-8.5 .5 3.5 .5 6.5 0-14 0-10.5 1 36.5 0-25 .5 5.5 0 8.5 0 3.5 0-15 .5-3.5 .5 16 0-16 .5 15.5 0 1.5 .5 8.5 0-39 0 10 .5 12 .5 21 0-12.5 0 .5 .5 6 0-33.5 0 35.5 1-1.5 .5-5.5 0-6 0-12.5 0 11 0 10 .5-5 0-24.5 .5 34 0-31.5 0 23.5 0 0 1-9.5 .5 11.5 .5 12 0-2 0 1.5 0-23 0 3 1-12.5 0 24 0 12.5 0 1.5 0-32 0 7.5 .5 7 0 1 .5-2"/>
<path class="sb" d="M1036 1863.7L1036 1858.5L1038 1859.5L1040 1860.9L1042 1859.4L1044 1859.8L1046 1858.7L1048 1861L1050 1831.8L1052 1783.4L1054 1763.5L1056 1771.4L1058 1761L1060 1765.9L1062 1773L1064 1783.2L1066 1802.2L1068 1797.9L1070 1804.9L1072 1790.7L1074 1795.7L1076 1776.7L1078 1779.5L1080 1789.8L1082 1788.9L1084 1790.4L1086 1785.2L1088 1779.7L1090 1783.2L1092 1790.1L1094 1795.8L1096 1788.4L1098 1785L1099 1863.7Z"/>
<path class="mbd" d="M1036 1849l0-5 .5-126 0 79 .5 56.5 0 5.5 .5-19 .5 12 .5 4 0-45.5 0 48 .5-79 0 34 .5-25 .5-28.5 .5 98.5 0-91.5 .5-7 0 99 .5-17.5 .5-1.5 0 17 .5-9 0 3.5 0 7 .5-8.5 1 7 0-43.5 .5 46 0-63 .5-19 .5 63.5 .5 19 .5-8 0-45 .5 35 .5-26.5 0-20.5 0 39 .5 3 1-24.5 0 14 0 22 .5-6 0-2 0-15.5 0 .5 .5 6.5 1-20.5 0-65.5 0 61 .5-10.5 0-14.5 .5-7 .5-2 .5-12 0-15 0 17 .5-21.5 0 8 .5 11 0-23.5 0 14.5 .5-4.5 0 8.5 0 10.5 .5-8.5 .5 9.5 0 0 .5-16.5 .5 23.5 0-24 0-12 .5 8 .5-.5 0 11 0-14.5 0 4.5 .5-3 .5-15 .5 21.5 0-8.5 0 13.5 0-4.5 .5-3.5 .5 21 0-31 0 19 1-6 0-25 0 31 0-9.5 .5 13 0-18.5 0 35 .5-33.5 0 34.5 .5-25 .5 24.5 0-6.5 0-22 0 29 .5-22 0 27 0-26.5 0 4 .5 19 1 16.5 0-29.5 0 7.5 0 7 .5 23 0-42 .5 27.5 .5-3 .5 11.5 0-28.5 0 18.5 0 5 0-32 .5 21 .5-3 0-3 .5 12.5 0 13 0 3.5 0-19.5 .5-5 0 10 .5 0 0 6.5 .5-36.5 0 46 .5-18 0-6.5 .5-21 .5 16 0 6 .5-12 .5 21.5 0 3 0-31 0 12.5 0-36 0 40 .5-36.5 .5 50 0-26 .5 12.5 0 2 0 6 1-16 0 8.5 .5-29.5 0 29.5 .5-15 0 8.5 .5-33.5 0 0 0 24.5 .5 12 0-7 1-6 0-19.5 0 35 .5-4 .5 2.5 0-2 0-4.5 1 7 0 1 .5 1 .5-.5 0-29 0 29.5 0-13 .5 18.5 .5 7 0-29 .5 21 0-9 0 12.5 0-20.5 .5 6 0-7 .5-17 0 25.5 .5 7.5 0-28.5 .5 19.5 .5 16 0-16.5 0-15 .5 23 .5 7.5 0-23.5 0 8.5 0-12.5 0-1.5 .5 11 .5 7.5 0 2 0-31.5 .5 21 0 4 1-31 0 31.5 0-14 .5 20.5 0-16.5 0-2 .5 6 .5-3 0 9 .5 12 0-4.5 .5-6.5 0-1 0-5 1-18.5 0 41 0-10.5 .5-4 0-22.5 .5 17 0 4.5 .5 1.5 0 14.5 0-4.5 0-15 .5 4.5 .5 16.5 0-20.5 0-9.5 .5 11 0 6 0-8.5 .5-6.5 0-8.5 .5 24.5 .5-2 0 10.5 .5-21.5 0 14 0-21 .5 1.5 0 10.5 .5-11.5 0 23.5 0-12.5 .5-27 0 31 .5-21 0 16.5 0 19.5 .5-12"/>
<path class="so" d="M1099 1863.7L1099 1762.4L1101 1768.7L1103 1755L1105 1761.5L1107 1773.6L1109 1762L1111 1768.7L1113 1774.8L1115 1781.4L1117 1777.5L1119 1774.2L1121 1787.9L1123 1792.4L1125 1807.8L1127 1827.8L1129 1823.3L1131 1828.3L1133 1824L1135 1816.7L1137 1811.5L1139 1814.8L1141 1814.2L1143 1805.5L1145 1803.8L1147 1796.7L1149 1801.4L1151 1808.7L1153 1803L1155 1816.3L1157 1802.8L1159 1813.8L1161 1805.3L1163 1789.4L1165 1789L1167 1797.2L1169 1783.8L1171 1772.4L1173 1779.1L1175 1791.5L1176 1863.7Z"/>
<path class="mod" d="M1099 1756l0-12.5 0-2 0-2.5 .5 4 .5 10 0 1 0-11.5 1 10.5 0 4.5 .5-18.5 0 23.5 .5-14.5 0-24 0 3 0 32.5 0-4.5 .5-3.5 .5-32.5 0 33.5 .5-11.5 0 15 0 4 .5-13 0-9.5 .5 8 0 10 .5-4 0-19.5 0 31 .5-33.5 0 18 0-10.5 .5 25 .5-4.5 0 4.5 .5 14.5 0-7.5 0-21.5 .5 29.5 0-33 .5 6 0-11 0-29 0 32 .5 25 0-10 .5-11 0 4.5 .5-7.5 0-12.5 0 20.5 .5-13 0 8.5 0-19.5 0 13 0 13.5 .5-.5 0 15.5 .5-28.5 0 14 0-17.5 1-9 0 19 0-1.5 .5-.5 0 6 0-18 0 42.5 0 1.5 .5-26.5 0 26 .5-29 0 6 .5 5.5 .5-7.5 0 8.5 0-10 0 9.5 0 5 0-44 .5 46.5 .5-11.5 0 1.5 0-.5 .5 3.5 0 4.5 .5-17.5 0-.5 0 35 .5-6.5 .5-12.5 0-2.5 0-22.5 0 24.5 0 3.5 .5-2 .5 19.5 .5-30.5 0 25 .5 0 .5-16 0 19 0-40 .5 40.5 0-28 0 23.5 .5 6.5 0-4.5 .5 .5 .5 12.5 0-14 .5 19.5 .5-4.5 0-35.5 0 12.5 .5 33.5 0-7 .5-46.5 .5 38.5 0-8 .5 29.5 .5 1 0-10.5 0 6.5 .5-8.5 0 22.5 1 11.5 0-40 .5 30 0-.5 .5 1.5 0-70.5 0 7 .5 64.5 .5-25.5 0 18.5 .5 3 .5-48 0 56 0-9.5 1 11.5 0-12.5 0-60 .5 26 0 41 0-74 0 53 .5 21.5 .5-15 0 4.5 .5-10 .5 13 0-1 0-13 0 9.5 .5 2.5 .5-40 0 23.5 0 8.5 .5-2.5 0 3 0-47.5 .5 47.5 0-47 .5 40.5 0-.5 .5-12.5 0-18.5 .5 43.5 0-1.5 .5-27 .5 16.5 0-8 .5-13.5 0 21 0 7 0-23.5 .5 27 0-10 0-35.5 .5 37.5 .5 .5 0 10.5 .5-40 0 25.5 .5 15.5 0-41.5 0 17.5 .5 19 .5-.5 0-15.5 0 7.5 0 7.5 .5-5.5 .5-7.5 .5-25 .5 11.5 0 20 0-6 1 5 0-3 .5 0 0-26.5 0 23.5 0-2 1-22 0 16 .5 10.5 0-4.5 .5-18.5 0 13 .5-17 .5 29.5 0-7 0 3 .5-9 .5-2.5 .5 14.5 0 1.5 .5-29 0-20 0 44.5 0-1.5 0 0 0-37 1 35 0-16 0 0 .5 22.5 0-13.5 .5 18.5 0-31 1-8 0 28.5 0-4 0 5.5 0 16 .5 0 .5-44 0-14.5 0 56 .5-31 0-22.5 0 54 .5-7 0-11.5 .5 9 0-3 .5 5.5 .5-18.5 0 7.5 0-7.5 .5-34 .5 56 0 1 0-14.5 0-21 1 .5 0 39 0-27 .5 25.5 0-4 0-8 1-18 0 17.5 0 7.5 0-9.5 .5-9.5 0-7.5 .5 16 .5-5.5 0-9.5 0 11.5 .5-23 0 2 .5 16.5 0-.5 .5-14 .5 13.5 0-10.5 .5 1 0-7 .5 19.5 .5-15.5 0 17 .5-1 0 4 .5-4.5 .5-13.5 0 18 0-27.5 .5 32.5 0-18.5 .5 4.5 .5-14.5 0 19.5 0-3.5 1-12.5 .5 7 0-5.5 .5-8 0 9.5 2-3 0 1 .5 2.5 .5 3 .5 7.5 0-12.5 .5 9 0 5 0-5 .5-10.5 1 17.5 0-2"/>
<path class="sb" d="M1176 1863.7L1176 1784.2L1178 1782.8L1180 1786.8L1182 1777.9L1184 1766.9L1186 1759.2L1188 1778.7L1190 1772.9L1192 1765.8L1194 1752.8L1196 1763.3L1198 1754.5L1200 1792.2L1202 1831.6L1204 1852L1206 1851.1L1208 1853.4L1210 1854.4L1212 1854.2L1214 1848.8L1216 1853.6L1218 1851.6L1220 1853.9L1222 1852L1224 1852.6L1226 1851L1228 1853.2L1230 1851.9L1232 1853.3L1234 1853.7L1236 1851.8L1238 1853.5L1240 1855.8L1242 1851.9L1244 1841.3L1246 1815L1248 1782.2L1250 1775.8L1250 1863.7Z"/>
<path class="mbd" d="M1175.5 1773l0 2.5 .5-27 0 37 .5-6 .5 0 0-14.5 0-9 0 4 .5 0 0-20 .5 28 0-3.5 0 5.5 1-4.5 0 11.5 0-12 .5 18 0-31.5 0 30.5 0-11.5 .5 5 .5-6.5 0 13 .5-10.5 0-10.5 .5 8 0-3.5 .5-10 0 7 1 .5 0-.5 .5-16.5 .5 10.5 0-7.5 .5 20.5 0-8.5 .5-26 0 26.5 .5 .5 0-20 0-1.5 .5 15 0-20 0 10 1-2.5 0-9 .5 34 0-1.5 0-16.5 0 25.5 .5-4 0-46.5 .5 30 0 18.5 0 3.5 0-27.5 .5 6.5 0-71 0 76 0-9.5 .5 29 0-23 .5-29.5 0 28 0-3 .5-1 0 10 0-1 1-18.5 0 16 .5-6 0-6 0-10.5 .5 29 0-10.5 .5-27 0 17 0 13.5 1-5.5 0-10 .5 5.5 .5 10.5 .5-17 0 18 .5 3 0-11 0 .5 .5-4 .5-1.5 .5 8 0-17 .5 3.5 .5-.5 0 12.5 0 15.5 .5-5 0 0 0-7.5 1 9 0 22.5 0-27.5 .5 27 0-34 0 50.5 0-44.5 .5 28.5 .5 18 0 30 0-56.5 .5 46.5 0-27.5 0 27.5 .5-18 0-30 0 74 0-3 .5-70 0 28.5 .5 31 .5-48 0 29 0 14.5 0 19.5 0-4 .5-23.5 .5-17 0 48 .5-27 0-2 0 5.5 .5-29 0 42 0-10 0 15 .5 3 .5-48.5 0 11 0-38.5 .5 1.5 0 73.5 .5-67.5 0-12 0 47.5 .5 29 0-64.5 0 64 0 6 0-64.5 .5 61 0-57.5 .5 42 0 9 .5-39.5 0 44.5 .5-29 .5 33 0-3 .5-19.5 0-31.5 0 5 .5 22 .5 24 0-10.5 0 14 0-74 0 33.5 .5-54.5 0 80.5 .5 10 0-11 0 5.5 .5-37.5 0 8.5 0-13.5 0-31.5 .5 76 0-34 0 38 0-76 .5 31 .5-36.5 0 86.5 .5-35.5 .5 23.5 0-48.5 0 11 0 49 .5-40.5 0 31.5 0-69.5 0 59 .5-21 .5-14 0 38.5 0-66 .5 78 0-38 .5-3.5 0-3.5 0 51 .5-13.5 0-40.5 .5 17.5 0 1.5 0 29.5 .5-10 0-46.5 0-13.5 .5 12 0 28.5 .5 19.5 0 12.5 .5-74.5 0 68.5 .5-33 0 38 0-65.5 0 46 0-2.5 0 20 .5-6 .5-26.5 0-51 0 9.5 .5 70.5 0 2 0-35 .5 28.5 0 1 0-66.5 .5 34.5 .5-3 0 38.5 0 2 .5-39 0 30.5 .5-45 0 44 .5-13 0 24 0-14 0-38 0 29 .5-44.5 0 58.5 .5 9.5 0 0 .5 0 0-59 0 62 0-23.5 0 19.5 .5-27 .5-1 0-59 0 51.5 0 39 .5-10.5 .5-71 0 73 0-26 .5 27.5 0 3.5 0-.5 .5-5.5 0-81.5 .5 88 0-67 0 64.5 1-18.5 0 18 .5 1.5 0-44 0 48 .5-7.5 0 4.5 0-78.5 0 74.5 .5-44 0 16 .5 12.5 .5-20 0 42.5 0-29.5 0 21 0-10.5 0-68.5 .5 77 0-53.5 0 65.5 .5-66 .5 61 0-58 .5 58.5 0-1 0 7 0-8 0 6.5 0-9 .5 1 0-31 .5-4.5 0 19.5 0 23 .5-93.5 0 89 0-18.5 .5 10.5 .5-57.5 0-11 0 75 .5 10 0-9 0-4.5 .5-29.5 0 37.5 0-3.5 .5-71 0-9 .5 40.5 .5 33 0 12 0-6 0-71.5 .5-1 .5 79 0-8.5 0-89 .5 24 0 55.5 .5-32.5 0-42 0 71.5 0-90.5 0 62.5 .5-41 0 22 0 39 0 1.5 .5-22 0 5 .5-7.5 0-41.5 0-3 .5-40.5 0 2 0 22.5 0-28 0 24.5 0 42 0-58 0 32 0 2 0-30 0-1.5 .5 63.5 0-49.5 0 12 0-4.5 0 41.5 0-57 0 13 .5-15.5 0 7.5 0 7 0-9 0 15.5 0 14.5 .5 10 0-3 1-57 0 59.5 0-11 .5-11.5 0 9.5 0 14.5 0-12.5 .5-7 .5 22.5 0-27.5"/>
<path class="so" d="M1250 1863.7L1250 1773L1252 1776.1L1254 1785.1L1256 1783.1L1258 1772.4L1260 1776.1L1262 1772.9L1264 1779.8L1266 1814L1268 1830.3L1270 1835.7L1272 1833.1L1274 1834L1276 1838.8L1278 1840.6L1280 1838.2L1282 1839.9L1284 1842.2L1286 1831.2L1288 1841.1L1290 1808.8L1292 1764.4L1294 1687.7L1296 1688.1L1298 1701.8L1300 1722L1302 1747.8L1304 1766.4L1306 1762.8L1308 1766.1L1309 1863.7Z"/>
<path class="mod" d="M1250 1769.5l.5-7 .5 14 0-3.5 .5-19 0 21.5 0-16.5 .5 15.5 0 1.5 .5-20.5 0 8 0 13.5 .5-20.5 0 16 0 6.5 1 4.5 0-19.5 0 12 .5-21.5 0 6.5 0-11 .5 37 0-13 .5 10 0 1 0-42 .5 23 0 3.5 .5 .5 1 4.5 0-16.5 0 16.5 0 0 .5-12.5 0-8 .5 20.5 .5 1 0-17 0 10 0-8 .5 0 .5 2.5 0 7 0-12.5 .5-9.5 .5 10 0 17 0-6.5 1-11 .5 2 0-4.5 0 15 .5-26.5 0 12.5 .5-16 0 17 .5 17 .5 9.5 0-18 0 29 .5-20 .5 15.5 .5 18 0 0 0-18 .5 9.5 .5 15 .5 4.5 0 4 .5-27 .5 1 .5 30 .5-3.5 0 3 0-21 1 27.5 .5-6.5 .5 .5 .5-11 0 19 1-5 .5 4.5 0-20.5 1 19 0-37.5 .5 37 0-10 1-26.5 0 45.5 1-4 1-1.5 0 2 0 0 .5-3.5 .5-5.5 1-28 0 37.5 1-6 0-8.5 .5 7.5 .5-21 0 31.5 .5-4 0-5 1.5 9.5 0-9.5 0 6.5 .5-28 .5 22 1-35 0 28.5 0 5 1-2 .5 7.5 0-37.5 1 37 .5-4 .5 7.5 .5-51.5 0 22.5 .5 .5 .5-25 0-22 0 12.5 .5-13.5 .5-96 0 89.5 0-6 .5-23.5 0-10.5 .5-2 0-9 .5-27 1 .5 0 3 .5-6.5 .5 21 0-11.5 0-7.5 0 4.5 0-9 .5 8.5 0 6.5 0 2.5 0-8.5 0-6.5 .5 18 0-8 0-8.5 0 2.5 .5 19 0-5.5 0-27.5 .5 20 0 8 0-24.5 .5 19.5 0 5.5 1-20 0 30 .5-8.5 0 11.5 .5 9 .5-12.5 0 18 0-24.5 .5 16 0-3 0 15 0 9.5 .5 1 .5-5.5 0 18.5 0-19 0 9.5 .5-17 0 7.5 0 12 1-1.5 0 19 1-6.5 0 1.5 .5-1 0 2 0-9 .5 12.5 .5-6.5 .5 3.5 .5-14.5 0 24.5 .5-1.5 0-10 .5-4 .5 4.5 .5-6 0 11.5 0-7"/>
<path class="sb" d="M1309 1863.7L1309 1774L1311 1761.2L1313 1760.7L1315 1768.7L1317 1781.9L1319 1770.3L1321 1775.6L1323 1769.5L1325 1790.6L1327 1786.4L1329 1788.6L1331 1809L1333 1814.3L1335 1823.2L1337 1810.9L1339 1804.3L1341 1818.7L1343 1810.2L1345 1805.5L1347 1807.9L1349 1805.8L1351 1807.3L1353 1818.2L1355 1803L1357 1801.4L1359 1789.1L1361 1795.2L1363 1805.4L1365 1802.1L1366 1863.7Z"/>
<ellipse cx="1343" cy="1831.5" rx="12" ry="13.5" fill="#fff"/>
<path class="mbd" d="M1309 1764l.5-10 0 15 .5-14 0 5 .5-6 .5-5.5 0 11.5 .5-7 0-8.5 0 13.5 .5-4.5 0-6 1-16 .5 29.5 0-6.5 .5-2 .5 6 0-4.5 0-19.5 .5-13.5 .5 40.5 0-4.5 0-2.5 0 23.5 .5-22 0 13 .5-12.5 0 3.5 0 25 .5-25 0 15.5 .5-21.5 .5 13 0 8 .5-17.5 0 13 0 .5 .5 .5 0-45 .5-1.5 0 49.5 .5-4.5 .5-24 .5 7 0 16.5 .5 6 0-34 0-11 .5 40.5 0-3 .5-9.5 .5-7.5 0-20.5 0 28.5 0-46.5 .5 6.5 0 3 0 18 0 22.5 0-79.5 0 3 0 67.5 0-18.5 .5 49 0-75 0 39.5 0-11.5 0 14 0-21 0-3 0-2 .5 40.5 0-19 0-4 0-27 0 53.5 0-24.5 0-27 0 15.5 0 56.5 0-55 0 34.5 .5-15 0 0 .5 34 0-27.5 .5 18.5 0-11 0-22 0 46.5 .5-25.5 0 14.5 .5-40 0-21.5 0 58.5 .5-3 0-22 .5 14.5 0-.5 .5-2 .5 2 0-13 0 20.5 0 12 0 2 .5-20 0 2 .5 30.5 0-7 .5-5 .5 16 0-40 0 30.5 .5 15.5 0 20.5 0-7.5 .5-29.5 .5 11.5 0-10 0 30 0-22.5 .5 10 .5-4 .5 .5 0-11.5 .5 19.5 0-4.5 0 0 .5 2 .5-4.5 0-13 .5 29 1-23.5 .5 7.5 0-11 .5-1 0-9.5 .5 10.5 0 5 .5-3.5 0 3 .5 6 0-20.5 0 17.5 0-.5 0-1 .5 3 0-2.5 .5-4.5 0 9.5 .5 1 .5 5 0-7.5 0-1 .5-3.5 0 20.5 0-19 0-4.5 .5 12.5 0-8 .5-.5 0-.5 0 6 0-2.5 .5-3 0-6.5 0-3.5 0 12.5 0-9 .5 1 0 27.5 0-22.5 0 2 .5-.5 0 3.5 .5-8.5 0-2.5 0 14 .5 0 0-2.5 0 3 0 24 0-38.5 .5 10 0-5 0 3.5 0-6.5 0 0 .5 7 0-14.5 0 34.5 0 7 0-32 .5 8.5 0-7.5 0-4 0 7 0 3.5 .5-11 .5 15 0-18.5 0 31 .5-16 0-5.5 0-8.5 0 4 0 10 .5-3 0 2.5 0 14 0-17 .5-5 0 8.5 0-3 .5 5 0-19 0 16 .5-7 0 5 0-7 0 10.5 0-12 0-1 .5-.5 0-1 0 25.5 .5-12 0-3.5 .5-.5 0-1 0-12 0 10 .5 7.5 .5-2 0 2 .5-18 0 7 0 12.5 .5-13.5 0 5 0-1 0 20.5 .5-25 0 3.5 0 3.5 0 0 0-12.5 0 20.5 0-10.5 0 3 .5 24.5 0-34.5 0-1.5 0 13.5 0 4.5 .5-13 0 3.5 .5-4 0 15 0-6.5 .5-13 .5 3 0-39.5 .5 31 0 7 .5-5.5 0-32.5 0 37.5 .5-21.5 .5 11 0-7.5 .5-5 0-5 .5 16.5 .5-.5 .5-1.5 0 14 0-41 .5 37 .5-11.5 0 4.5 .5 4 0 14 .5-65.5 0 54 0 3.5 .5-65.5 0 60 0 10 .5-25 0 25 1-10.5 .5-4.5 0 18.5 0-88.5 .5 41.5 .5 42 0-1.5 0-10.5"/>
<path class="so" d="M1366 1863.7L1366 1762L1368 1754.4L1370 1763.3L1372 1773.7L1374 1779.7L1376 1798.5L1378 1781.2L1380 1792.7L1382 1781.9L1384 1803.5L1386 1799.2L1388 1799L1390 1800.5L1392 1809.6L1394 1826.8L1396 1836.5L1398 1826.2L1400 1827.5L1402 1836.4L1404 1831.3L1406 1832.8L1408 1830.8L1410 1831.9L1412 1827.3L1414 1830.7L1416 1836.8L1418 1829.9L1420 1826.7L1422 1825.8L1424 1826.5L1426 1836.9L1428 1806.2L1430 1788.7L1432 1778.9L1434 1787.4L1436 1776.9L1438 1785.9L1440 1779.3L1442 1777.6L1444 1785.6L1446 1779.2L1448 1785L1450 1791.6L1452 1793.6L1454 1788.2L1456 1781.7L1456 1863.7Z"/>
<path class="mod" d="M1365.5 1738l0 14.5 1 6.5 0-11.5 .5 12 0-11 0-10.5 .5 .5 .5 2.5 .5 4 0 1.5 .5-5 0-1.5 0 0 1 15 0-9.5 .5 8 .5-9 0-19.5 .5 40.5 0-13.5 0 2 0 12.5 0 3.5 .5-26.5 0 18.5 .5-25.5 0 27 0-11 .5 4.5 0 3 0 10 .5 11 0-16.5 1 11 0 5 .5-5 0-11 0 2 0 9.5 .5 17.5 0-32 .5 40.5 .5-9 .5-15.5 .5 6.5 .5-9 0-19 0 27.5 .5-4 1 9.5 0 .5 .5-24 .5 24.5 .5-34 0 22 .5-18.5 0 22 .5-8 .5-18 0 24.5 0 5.5 0-30.5 1 27.5 0 9.5 .5 0 0-11 .5-1 .5 8 0-3.5 0 3 .5 .5 0-9.5 0 5.5 0 5 1-2.5 0 6 .5-18.5 0 15.5 0-3.5 0-11 .5 8 1 9.5 0-25.5 0 14 1-2.5 0 3.5 0-1.5 0 2.5 .5 4 0-29.5 0 30 0 14.5 .5-28.5 .5 30 0-5.5 .5-17.5 0 9.5 0 2.5 .5 8 0-.5 .5-5 0-8 .5 26 0-8 .5-52.5 .5 44 0 11.5 0 12.5 .5 8.5 0-80 0 81.5 .5-3 0-4 0 .5 0-1.5 0-4.5 .5 0 0-9.5 .5 23.5 0-6.5 0-8.5 0-3 0 4.5 .5 4 0-54 0 54.5 .5-3 0 9.5 0-9.5 0 1 0 15 .5-11.5 .5 0 0 2.5 0-30.5 0 24 0 2.5 0 4 .5-6 0-34 0 27.5 0 6 .5-27 0 29 0 5.5 .5 3.5 0-4.5 0-17 .5 13 0-3.5 0 6.5 0-21.5 0 3.5 .5 15 0 5.5 .5 3.5 0-60 0 51 .5-2 0-6.5 0-2.5 0-21 .5 48.5 0-19 0 1.5 .5-8 0 11 0-6.5 0 17 .5-9 0-6 0 1.5 .5-2 0 4 1-2.5 0 7 0-17.5 0 22.5 0-6 .5-7 0 .5 0 13.5 0-13 .5-34.5 0-19.5 0 58 .5-12.5 .5 10 0 3 0-45.5 0 55.5 .5-51 0 41 .5-6 0-5.5 0 4 0 2 0 2.5 0-8.5 0 6 0-1.5 .5 9.5 0-3.5 0-3 0 3 .5-9 0-39 0 48.5 0 3 0-7.5 .5 7.5 0-48.5 .5 37.5 0 6 0 3 .5 4.5 0-15 0-8.5 0 17 .5-2 0 3 0-22.5 0 20 0-55.5 0 39.5 1 21.5 0 0 0-7.5 .5 6 0-52.5 0 49.5 0-4.5 0 7.5 0-17 0 14.5 0 3 0-2.5 .5 3 0-14 0 9 0-.5 .5-6.5 0 8.5 0-.5 .5-26 0 28 0-11 0-52 .5 66 0-2.5 0-2 .5-34.5 .5 40 0-64.5 .5 53.5 0-1.5 .5 15 0-17 0-70.5 .5 80 0-10.5 0 18 0-29.5 0 30 .5-5 0-3 0-19 .5 19 0-1.5 0 1.5 0 2.5 .5 1.5 0-33.5 0 28.5 .5-25.5 0 21 0-19 .5 14 0 6.5 0-4 0-.5 0-.5 0 0 0 4 .5 7.5 0-47.5 0 48.5 .5-8 0-22.5 .5 30.5 0-17.5 0 5 0 5.5 0-1.5 .5 6.5 0-62.5 0-7.5 0 66.5 .5 1.5 0-7.5 .5-7.5 0 7 0 5.5 .5 1 0 .5 0-1 .5 1.5 0 6 0-10 0-3 .5-16 0 28.5 0-79 .5 67 0 4 0-5.5 .5 9 0-6 .5 8.5 0-2.5 0 3.5 0-58.5 .5 65 0-41 .5-2 0 24 .5 3 0-4.5 .5 10 0 4 .5-3 0-22.5 0 19.5 .5-23.5 0-46 0 49.5 0-21 1 10 0-41 0 49.5 .5-17 0-2 .5 5 1-6.5 0-46 0 38.5 .5-8.5 0 9 0-6.5 1 9.5 0 10.5 .5-12 .5-14 .5 21.5 0-35 .5 35 0 1 1-10.5 .5-3.5 0-23.5 .5 25 0-6.5 0 5 .5 5.5 0-3.5 .5-13.5 .5 21.5 0-5.5 0-37 .5 17 0 19 .5-12.5 .5 26 .5-9 0-16.5 .5 20.5 0-49.5 0 10.5 0 22 .5 4 0 0 .5 6 .5-3.5 .5-16.5 0 15 .5-18.5 0 28 0-9.5 .5-30.5 .5 37.5 0 6 .5-22 0 10.5 .5 12 .5-42.5 0 24.5 .5 3 0 9 .5-20 0 27.5 .5-.5 0-8.5 .5-43.5 .5 39.5 0-25 0 31 .5 7.5 0-44.5 0 9 .5 36.5 0-9 .5 13.5 0 1.5 .5-25 0 12 .5 2 0-.5 0-37.5 0 31.5 .5 3 .5 17.5 0-61.5 .5 51 0-1 .5 .5 .5-1 .5 0 .5-38.5 0 42 .5-15.5 .5-18.5 0 26.5 .5 9 0-4 0-42.5 .5-.5 0 43"/>
<path class="sb" d="M1456 1863.7L1456 1775.7L1458 1761.9L1460 1773.2L1462 1770.8L1464 1773.6L1466 1767.7L1468 1781.9L1470 1788.9L1472 1812.3L1474 1828.2L1476 1831.4L1478 1833.7L1480 1826.5L1482 1822.7L1484 1823.8L1486 1826L1488 1830.1L1490 1826L1492 1826.3L1494 1825.7L1496 1839.7L1498 1822.2L1500 1780.5L1502 1747.3L1504 1751.2L1506 1760.5L1508 1742.4L1510 1742L1512 1743.4L1514 1752.2L1516 1756.7L1518 1766.9L1520 1748L1522 1759.1L1524 1766.5L1526 1755.5L1527 1863.7Z"/>
<ellipse cx="1484.5" cy="1845.5" rx="13.5" ry="12.5" fill="#fff"/>
<path class="mbd" d="M1455.5 1775.5l.5-35.5 .5 24.5 .5-27 .5 28 .5-36.5 0 33 0-10 .5 13 0-9 .5 7 1-29 0 34 .5-32.5 .5 22 0 5.5 0 3.5 .5-38 .5 37 0-2.5 .5-4 0 4.5 .5-31 0 27.5 0 2.5 1 5 0-17.5 .5 17.5 0-13.5 .5 2 0 11 0-9.5 .5-10 0 23 .5-13 0-6 .5 26.5 .5-3 0-25 .5-25 0 47 .5 14 0-19 0 16 .5-14 .5 15 .5 1.5 0-1.5 1 7.5 0-12 .5 .5 0 19 .5-10.5 .5 21 .5 2 0-24.5 0 35 1-3 0 2 .5 6.5 .5-13 .5 2 0 4.5 0 2 .5 1 0 5 0 10 0-20 .5 34 0-29.5 0-3 0 11.5 0-6.5 .5 2 0-3 0 2.5 .5-4.5 0 6 0-6 0 12 .5-33.5 0 48 .5-22 0-2.5 .5 2.5 0 0 0 1 0-8 .5 5 0 0 0 30.5 .5-44.5 0 10.5 .5 1 0 3 0 23 0-24.5 0-1.5 1 3 0-19.5 0 21.5 .5-5 .5 3.5 0-3.5 .5 7.5 0-14 0 41.5 .5-50.5 .5 18 0 1 0 1 0 28 .5-34.5 0 7.5 0-1.5 0-26.5 0 22.5 .5-.5 .5 2 0-5.5 .5 3.5 0 .5 0 16.5 0-9.5 .5-15.5 0 3.5 0 7 0-2 .5 6 0-3.5 .5-23 0 28 .5-6.5 0 2.5 .5-3.5 0-8 0 7 0 2 .5-19.5 0 23 .5-5.5 0 5.5 1-5.5 0-5 0 7 .5 2 .5-.5 0 5 0-3.5 0-1.5 0-17.5 0 20 0-2.5 .5 12 0-8 .5-5.5 .5-7.5 0 9.5 0-.5 0 0 .5-3 0 24 0-18 0-3 0-11.5 0 16.5 1 13 0-19 .5-19.5 0 18 0 .5 .5 10 0-8 0-23 .5 44.5 1-11 0-22 .5 12.5 .5-1.5 .5-9.5 0 7 0 4 0-1.5 0-16.5 .5 17 0 3 0-2.5 .5 .5 0 1.5 0 2.5 0-32.5 .5-6.5 0 9 0-37.5 .5 15.5 .5-5.5 0-28.5 0 13.5 0-20.5 .5 17 .5-23 .5 13.5 0-27.5 .5 30.5 0-19 0 22.5 0-11.5 .5-16 0 12 .5 5.5 .5 1 .5-13 0 10.5 0 5.5 0-36 .5 40.5 0-18.5 0 5 0-36 .5 62.5 0-8.5 1-12.5 0 23 .5-11.5 .5-15 0-24 0 0 .5-7.5 0 32 0 1 0-11 .5 16.5 .5-14 .5 7 0-16 0 8.5 .5-8 0 20 .5-29 0 25 1-36 0 29 .5 10.5 0 2 .5-20.5 0-1.5 0-36.5 0 28.5 0 15.5 .5 6 .5 6.5 .5-6 0 15.5 0-23 .5 22 0-13 0-10 .5-12.5 0 29 0-6 .5-8.5 .5 12 0-9 0 8 .5 15 0 7 .5-59.5 0 34.5 0 2.5 .5 2.5 .5 10 0-9.5 0 12.5 0-51 .5 56.5 0-3 .5-39 0 23.5 .5-4 0-5 .5-26 0 41.5 0-22.5 .5 18 0-8 .5-16 0-39.5 0 4.5 .5 67 0 7 .5-18 0-1 0-9.5 .5-12 0 31.5 .5 7.5 0-42 0 47 .5-20.5 0-11.5 .5 10 0 10 0 14.5 0-12 .5-1 0 6 0-24 .5 0 0 3 0 15 .5-19 0-18.5 .5 26.5 0 5.5 .5-3.5 0-1.5 0 12.5 .5-17.5 0-2.5 0-23.5"/>
<path class="so" d="M1527 1863.7L1527 1748.8L1529 1761.5L1531 1758.4L1533 1758.9L1535 1765L1537 1794.9L1539 1827.5L1541 1848.5L1543 1843.6L1545 1847L1547 1848.7L1549 1850L1551 1847.5L1553 1846.7L1555 1843.2L1557 1839.7L1559 1837.8L1561 1833.6L1563 1826.6L1565 1837.5L1567 1832.9L1569 1830.8L1571 1832.4L1573 1829.2L1575 1821.8L1577 1788.2L1579 1765.6L1581 1775.8L1583 1765.6L1585 1771.5L1587 1767.4L1589 1777.4L1591 1781.2L1593 1772L1595 1774.1L1597 1766.9L1599 1782.5L1601 1784.8L1603 1795.5L1604 1863.7Z"/>
<path class="mod" d="M1526.5 1725.5l0 23.5 .5-7 1 9.5 0-4 0-8.5 .5-3.5 0 22 0-.5 .5-6 0-9 .5 6 .5 4.5 0-10 0-31.5 .5 0 0 6 0-3 0 17.5 0-9.5 .5 2 0-11.5 0 7 0-3.5 0 13 0-2.5 0 7.5 0 26.5 0-7 .5-.5 0-16 0 1.5 .5 13 0-5.5 0-12.5 1 1 0 21 0-4 .5-2 0 12 0-7.5 .5-12.5 0-3.5 0 3 .5-24.5 0 49.5 0-8.5 0 9.5 .5-27.5 .5-14.5 0 45 .5-4.5 0-38.5 .5 55 0-3.5 .5-3 0 17.5 .5-14.5 0-.5 0 29.5 .5-12.5 0 11.5 .5 13.5 .5-61.5 0 64 .5-10.5 0 37.5 .5-37.5 1 40 0-15 1 12 0-6 0-40 1-11 0 54 .5 1 .5-1.5 0-113.5 0 77.5 .5 37 .5-12.5 .5-51.5 .5 15 0-18.5 0 7.5 0-1 0 66.5 .5-69.5 .5 66 0-61 0 3.5 .5-5.5 0 37 0 30.5 .5-70.5 0 7.5 0 24 0-32 0 5.5 .5-10.5 0 15.5 .5-11.5 0 4.5 0 6 0-12 .5-2 0 71 .5-38 1-28 0 65 0-38 .5-30 0 7.5 0-2.5 0-7.5 .5 16 0-7.5 .5 61 0-25 .5 24 0-3 .5 1.5 0-63 .5 5.5 .5 4.5 0-14.5 0 9.5 0-5.5 0 3.5 .5 57.5 0-58 .5 37.5 0-34 0-9 0-1.5 .5 59.5 0-66 0 66 0-11.5 .5-33.5 0-10 0 57 .5-53 0 40.5 0-14.5 .5-28.5 0 4 0 32 0-42 .5 4.5 0 48 0-42.5 .5 48.5 0 0 .5-1 0-36.5 0 18 .5-3.5 0 21.5 .5-31 .5 3.5 0 25 .5 .5 .5-8.5 .5 1.5 0 0 0-4 1-40.5 0 47 0-4 .5-12 0-22 0 32.5 .5 1 0 2 .5-7 .5-4.5 .5 17 0-6.5 .5 15 0-34.5 .5 4 0 22.5 0-2 .5-29.5 .5 30 0-18.5 .5 18.5 .5 4.5 0-16 .5-8.5 0 16 .5-2.5 0-13.5 .5 17.5 0-1 .5-45.5 0 10 0 43.5 .5-47.5 .5 25.5 .5 17 .5-11 0 11 0-30 1 29 0-5.5 .5-1 .5 6.5 0-3.5 0-20 0 9 .5 8.5 0-21.5 .5-6 1-1.5 0-21 0 23 0-4 .5-1.5 .5-12.5 .5-.5 0-9 .5-19 .5 19.5 0-5 .5-9 0-6 .5 18.5 1 3.5 0-29.5 0 15.5 .5 16 0-28.5 0 19.5 1 10 0-15.5 0-4.5 0-13.5 .5 23.5 1.5 10 0-40 .5 32.5 0-2 0-1 .5-2.5 .5 1 0-2.5 .5 4 0 1.5 .5-5 0-32.5 .5 2 .5 36.5 0 3 .5-16.5 0 12 0 11.5 0-16 1 21 0-21 .5 9 0 0 0 5 .5 4.5 .5-17 0 0 0-15.5 .5 4 0-19.5 .5 38 0-1.5 .5-4.5 0-5.5 0-4.5 0 13 .5 8 .5-11.5 0 3.5 0 5.5 1-37.5 0 23.5 0-41.5 0 29.5 0-13.5 0 20 0-27 .5 2.5 0-4 0 52 0-54 0 18.5 0 20.5 0 3.5 0 9 0-37.5 0 7 .5-13 0 33 0 11.5 0-19.5 .5-36 0 19 0 11.5 0-5.5 0-24.5 .5 42 0 3.5 .5-6.5 0-21.5 .5 38 .5-49.5 0 33.5 0 14.5 .5-29 .5-22 0 54 0 5 0 2.5 .5-3.5 0-7 .5-24.5 .5 26 .5-5 0 20.5 0-60 .5 36.5 0 1.5 0 13.5 0-3 .5 15.5 0-32 1 36 0-15 0 4.5 0-60.5 .5-.5 0 33 0 28.5 1 5 0-6"/>
</g>
<text x="13.5" y="29.5" font-size="48" font-weight="bold">a</text>
<text x="11.5" y="503.3" font-size="48.5" font-weight="bold">b</text>
<text x="13.5" y="985.5" font-size="48" font-weight="bold">c</text>
<text x="15.3" y="1492.3" font-size="49" font-weight="bold">d</text>
<text x="1601" y="72.3" font-size="42" text-anchor="end">America</text>
<text x="1602" y="573.8" font-size="42" text-anchor="end">China</text>
<text x="1612" y="1055.2" font-size="42.6" text-anchor="end">Japan</text>
<text x="1602" y="1498.4" font-size="42.6" text-anchor="end">Spatial Ancestry Analysis</text>
<path class="ax" d="M132.3 109.3V430.4M132.3 109.3H119.30000000000001M132.3 269.9H119.30000000000001M132.3 430.4H119.30000000000001"/>
<text transform="translate(103.3 109.8) rotate(-90)" font-size="32" text-anchor="middle">1.0</text>
<text transform="translate(103.3 270.4) rotate(-90)" font-size="32" text-anchor="middle">0.5</text>
<text transform="translate(103.3 433) rotate(-90)" font-size="32" text-anchor="middle">0</text>
<text transform="translate(38.6 273.5) rotate(-90)" font-weight="bold" font-style="italic"><tspan font-size="47.5">F</tspan><tspan font-size="33" dy="9" dx="-4" letter-spacing="-3">ST</tspan></text>
<line class="dt" x1="132.3" y1="271.0" x2="1640" y2="271.0"/>
<line class="sl" x1="132.3" y1="312.1" x2="1650" y2="312.1"/>
<path class="ax" d="M229.7 443.6H1551.7M229.7 443.6v13M307.1 443.6v13M376.7 443.6v13M449.3 443.6v13M518.3 443.6v13M587.0 443.6v13M659.8 443.6v13M730.0 443.6v13M801.0 443.6v13M875.7 443.6v13M939.3 443.6v13M994.4 443.6v13M1057.6 443.6v13M1127.7 443.6v13M1201.7 443.6v13M1267.7 443.6v13M1326.0 443.6v13M1399.3 443.6v13M1479.0 443.6v13M1551.7 443.6v13"/>
<text x="229.7" y="489.9" font-size="28" text-anchor="middle">1</text>
<text x="307.1" y="489.9" font-size="28" text-anchor="middle">2</text>
<text x="376.7" y="489.9" font-size="28" text-anchor="middle">3</text>
<text x="449.3" y="489.9" font-size="28" text-anchor="middle">4</text>
<text x="518.3" y="489.9" font-size="28" text-anchor="middle">5</text>
<text x="587" y="489.9" font-size="28" text-anchor="middle">6</text>
<text x="659.8" y="489.9" font-size="28" text-anchor="middle">7</text>
<text x="730" y="489.9" font-size="28" text-anchor="middle">8</text>
<text x="801" y="489.9" font-size="28" text-anchor="middle">9</text>
<text x="875.7" y="489.9" font-size="28" text-anchor="middle">10</text>
<text x="939.3" y="489.9" font-size="28" text-anchor="middle">11</text>
<text x="994.4" y="489.9" font-size="28" text-anchor="middle">12</text>
<text x="1057.6" y="489.9" font-size="28" text-anchor="middle">13</text>
<text x="1127.7" y="489.9" font-size="28" text-anchor="middle">14</text>
<text x="1201.7" y="489.9" font-size="28" text-anchor="middle">15</text>
<text x="1267.7" y="489.9" font-size="28" text-anchor="middle">16</text>
<text x="1326" y="489.9" font-size="28" text-anchor="middle">17</text>
<text x="1399.3" y="489.9" font-size="28" text-anchor="middle">18</text>
<text x="1479" y="489.9" font-size="28" text-anchor="middle">19</text>
<text x="1551.7" y="489.9" font-size="28" text-anchor="middle">20</text>
<path class="ax" d="M132.2 568.0V888.6M132.2 568.0H119.19999999999999M132.2 728.0H119.19999999999999M132.2 888.6H119.19999999999999"/>
<text transform="translate(100.2 568.5) rotate(-90)" font-size="32" text-anchor="middle">1.0</text>
<text transform="translate(100.2 728.5) rotate(-90)" font-size="32" text-anchor="middle">0.5</text>
<text transform="translate(100.2 889) rotate(-90)" font-size="32" text-anchor="middle">0</text>
<text transform="translate(35.2 765.8) rotate(-90)" font-weight="bold" font-style="italic"><tspan font-size="47.5">F</tspan><tspan font-size="33" dy="9" dx="-4" letter-spacing="-3">ST</tspan></text>
<line class="dt" x1="132.2" y1="720.2" x2="1640" y2="720.2"/>
<line class="sl" x1="132.2" y1="763.6" x2="1650" y2="763.6"/>
<path class="ax" d="M229.7 902.4H1551.7M229.7 902.4v13M307.1 902.4v13M376.7 902.4v13M449.3 902.4v13M518.3 902.4v13M587.0 902.4v13M659.8 902.4v13M730.0 902.4v13M801.0 902.4v13M875.7 902.4v13M939.3 902.4v13M994.4 902.4v13M1057.6 902.4v13M1127.7 902.4v13M1201.7 902.4v13M1267.7 902.4v13M1326.0 902.4v13M1399.3 902.4v13M1479.0 902.4v13M1551.7 902.4v13"/>
<text x="229.7" y="948.7" font-size="28" text-anchor="middle">1</text>
<text x="307.1" y="948.7" font-size="28" text-anchor="middle">2</text>
<text x="376.7" y="948.7" font-size="28" text-anchor="middle">3</text>
<text x="449.3" y="948.7" font-size="28" text-anchor="middle">4</text>
<text x="518.3" y="948.7" font-size="28" text-anchor="middle">5</text>
<text x="587" y="948.7" font-size="28" text-anchor="middle">6</text>
<text x="659.8" y="948.7" font-size="28" text-anchor="middle">7</text>
<text x="730" y="948.7" font-size="28" text-anchor="middle">8</text>
<text x="801" y="948.7" font-size="28" text-anchor="middle">9</text>
<text x="875.7" y="948.7" font-size="28" text-anchor="middle">10</text>
<text x="939.3" y="948.7" font-size="28" text-anchor="middle">11</text>
<text x="994.4" y="948.7" font-size="28" text-anchor="middle">12</text>
<text x="1057.6" y="948.7" font-size="28" text-anchor="middle">13</text>
<text x="1127.7" y="948.7" font-size="28" text-anchor="middle">14</text>
<text x="1201.7" y="948.7" font-size="28" text-anchor="middle">15</text>
<text x="1267.7" y="948.7" font-size="28" text-anchor="middle">16</text>
<text x="1326" y="948.7" font-size="28" text-anchor="middle">17</text>
<text x="1399.3" y="948.7" font-size="28" text-anchor="middle">18</text>
<text x="1479" y="948.7" font-size="28" text-anchor="middle">19</text>
<text x="1551.7" y="948.7" font-size="28" text-anchor="middle">20</text>
<path class="ax" d="M132.2 1016.4V1337.0M132.2 1016.4H119.19999999999999M132.2 1176.4H119.19999999999999M132.2 1337.0H119.19999999999999"/>
<text transform="translate(99.8 1016.9) rotate(-90)" font-size="32" text-anchor="middle">1.0</text>
<text transform="translate(99.8 1176.9) rotate(-90)" font-size="32" text-anchor="middle">0.5</text>
<text transform="translate(99.8 1334.6) rotate(-90)" font-size="32" text-anchor="middle">0</text>
<text transform="translate(35.2 1235.3) rotate(-90)" font-weight="bold" font-style="italic"><tspan font-size="47.5">F</tspan><tspan font-size="33" dy="9" dx="-4" letter-spacing="-3">ST</tspan></text>
<line class="dt" x1="132.2" y1="1304.2" x2="1640" y2="1304.2"/>
<line class="sl" x1="132.2" y1="1317.1" x2="1650" y2="1317.1"/>
<path class="ax" d="M229.7 1349.7H1551.7M229.7 1349.7v13M307.1 1349.7v13M376.7 1349.7v13M449.3 1349.7v13M518.3 1349.7v13M587.0 1349.7v13M659.8 1349.7v13M730.0 1349.7v13M801.0 1349.7v13M875.7 1349.7v13M939.3 1349.7v13M994.4 1349.7v13M1057.6 1349.7v13M1127.7 1349.7v13M1201.7 1349.7v13M1267.7 1349.7v13M1326.0 1349.7v13M1399.3 1349.7v13M1479.0 1349.7v13M1551.7 1349.7v13"/>
<text x="229.7" y="1396" font-size="28" text-anchor="middle">1</text>
<text x="307.1" y="1396" font-size="28" text-anchor="middle">2</text>
<text x="376.7" y="1396" font-size="28" text-anchor="middle">3</text>
<text x="449.3" y="1396" font-size="28" text-anchor="middle">4</text>
<text x="518.3" y="1396" font-size="28" text-anchor="middle">5</text>
<text x="587" y="1396" font-size="28" text-anchor="middle">6</text>
<text x="659.8" y="1396" font-size="28" text-anchor="middle">7</text>
<text x="730" y="1396" font-size="28" text-anchor="middle">8</text>
<text x="801" y="1396" font-size="28" text-anchor="middle">9</text>
<text x="875.7" y="1396" font-size="28" text-anchor="middle">10</text>
<text x="939.3" y="1396" font-size="28" text-anchor="middle">11</text>
<text x="994.4" y="1396" font-size="28" text-anchor="middle">12</text>
<text x="1057.6" y="1396" font-size="28" text-anchor="middle">13</text>
<text x="1127.7" y="1396" font-size="28" text-anchor="middle">14</text>
<text x="1201.7" y="1396" font-size="28" text-anchor="middle">15</text>
<text x="1267.7" y="1396" font-size="28" text-anchor="middle">16</text>
<text x="1326" y="1396" font-size="28" text-anchor="middle">17</text>
<text x="1399.3" y="1396" font-size="28" text-anchor="middle">18</text>
<text x="1479" y="1396" font-size="28" text-anchor="middle">19</text>
<text x="1551.7" y="1396" font-size="28" text-anchor="middle">20</text>
<path class="ax" d="M139.2 1539.9V1862.4M139.2 1539.9H127.19999999999999M139.2 1593.5H127.19999999999999M139.2 1647.3H127.19999999999999M139.2 1700.8H127.19999999999999M139.2 1754.8H127.19999999999999M139.2 1808.4H127.19999999999999M139.2 1862.4H127.19999999999999"/>
<text transform="translate(111.4 1539.9) rotate(-90)" font-size="27" text-anchor="middle">30</text>
<text transform="translate(111.4 1593.5) rotate(-90)" font-size="27" text-anchor="middle">25</text>
<text transform="translate(111.4 1647.3) rotate(-90)" font-size="27" text-anchor="middle">20</text>
<text transform="translate(111.4 1700.8) rotate(-90)" font-size="27" text-anchor="middle">15</text>
<text transform="translate(111.4 1754.8) rotate(-90)" font-size="27" text-anchor="middle">10</text>
<text transform="translate(111.4 1808.4) rotate(-90)" font-size="27" text-anchor="middle">5</text>
<text transform="translate(111.4 1862.4) rotate(-90)" font-size="27" text-anchor="middle">0</text>
<text transform="translate(53 1699.4) rotate(-90)" font-size="36" text-anchor="middle">SPA Scores</text>
<line class="dt" x1="139.2" y1="1686.6" x2="1646" y2="1686.6"/>
<line class="sl" x1="139.2" y1="1725.4" x2="1650" y2="1725.4"/>
<path class="ax" d="M236.7 1874.8H1563.9M236.7 1874.8v13M314.8 1874.8v13M384.8 1874.8v13M457.0 1874.8v13M527.0 1874.8v13M596.0 1874.8v13M669.1 1874.8v13M738.8 1874.8v13M810.6 1874.8v13M886.0 1874.8v13M950.0 1874.8v13M1004.8 1874.8v13M1068.5 1874.8v13M1138.0 1874.8v13M1213.0 1874.8v13M1278.8 1874.8v13M1337.4 1874.8v13M1410.3 1874.8v13M1491.0 1874.8v13M1563.9 1874.8v13"/>
<text x="236.7" y="1919.3" font-size="28" text-anchor="middle">1</text>
<text x="314.8" y="1919.3" font-size="28" text-anchor="middle">2</text>
<text x="384.8" y="1919.3" font-size="28" text-anchor="middle">3</text>
<text x="457" y="1919.3" font-size="28" text-anchor="middle">4</text>
<text x="527" y="1919.3" font-size="28" text-anchor="middle">5</text>
<text x="596" y="1919.3" font-size="28" text-anchor="middle">6</text>
<text x="669.1" y="1919.3" font-size="28" text-anchor="middle">7</text>
<text x="738.8" y="1919.3" font-size="28" text-anchor="middle">8</text>
<text x="810.6" y="1919.3" font-size="28" text-anchor="middle">9</text>
<text x="886" y="1919.3" font-size="28" text-anchor="middle">10</text>
<text x="950" y="1919.3" font-size="28" text-anchor="middle">11</text>
<text x="1004.8" y="1919.3" font-size="28" text-anchor="middle">12</text>
<text x="1068.5" y="1919.3" font-size="28" text-anchor="middle">13</text>
<text x="1138" y="1919.3" font-size="28" text-anchor="middle">14</text>
<text x="1213" y="1919.3" font-size="28" text-anchor="middle">15</text>
<text x="1278.8" y="1919.3" font-size="28" text-anchor="middle">16</text>
<text x="1337.4" y="1919.3" font-size="28" text-anchor="middle">17</text>
<text x="1410.3" y="1919.3" font-size="28" text-anchor="middle">18</text>
<text x="1491" y="1919.3" font-size="28" text-anchor="middle">19</text>
<text x="1563.9" y="1919.3" font-size="28" text-anchor="middle">20</text>
<text x="897.3" y="1968.2" font-size="27.6" text-anchor="middle">Chromosome</text>
<text x="453.3" y="140.3" font-size="26.5" text-anchor="middle">QTL for <tspan font-style="italic">SCN</tspan>, seed size, pods</text>
<text x="453.3" y="171.6" font-size="26.5" text-anchor="middle">per node and seed protein</text>
<text x="459.2" y="556.7" font-size="26.5" text-anchor="middle">QTL for <tspan font-style="italic">SCN</tspan>, seed size, pods</text>
<text x="458.6" y="588.3" font-size="26.5" text-anchor="middle">per node and seed protein</text>
<text x="1255.5" y="144" font-weight="bold" font-style="italic" font-size="38">Pdh<tspan font-size="26.5" dy="4.4" dx="2.5">1</tspan></text>
<text x="1282" y="1576.5" font-weight="bold" font-style="italic" font-size="38">Pdh<tspan font-size="26.5" dy="4.4" dx="1.5">1</tspan></text>
<text x="1522.5" y="1582.4" font-weight="bold" font-style="italic" font-size="38">Dt<tspan font-size="26.5" dy="4.4" dx="1.5">1</tspan></text>
<text x="733" y="603.3" font-weight="bold" font-style="italic" font-size="38.5">I</text>
<text x="733.7" y="1175.8" font-weight="bold" font-style="italic" font-size="38.5">I</text>
<g style="filter:drop-shadow(1.5px 1.5px 1.2px rgba(0,0,0,.28))">
<line x1="448.4" y1="183" x2="419.3" y2="244" stroke="#000" stroke-width="3.3"/><path d="M416 250.8L415.8 238.7L425.5 243.4Z" fill="#000"/>
<line x1="1314.9" y1="156" x2="1285.1" y2="216.8" stroke="#000" stroke-width="3.3"/><path d="M1281.8 223.6L1281.7 211.5L1291.4 216.3Z" fill="#000"/>
<line x1="451.8" y1="607.6" x2="423.3" y2="665.7" stroke="#000" stroke-width="3.3"/><path d="M420 672.5L419.9 660.4L429.6 665.2Z" fill="#000"/>
<line x1="741" y1="624.2" x2="711.7" y2="683.8" stroke="#000" stroke-width="3.3"/><path d="M708.4 690.6L708.3 678.5L718 683.3Z" fill="#000"/>
<line x1="739.6" y1="1195.3" x2="710.6" y2="1255.9" stroke="#000" stroke-width="3.3"/><path d="M707.3 1262.7L707.1 1250.6L716.8 1255.3Z" fill="#000"/>
<line x1="1325.3" y1="1591.1" x2="1295.6" y2="1651.2" stroke="#000" stroke-width="3.3"/><path d="M1292.3 1658L1292.2 1645.9L1301.9 1650.7Z" fill="#000"/>
<line x1="1547.3" y1="1592" x2="1518.1" y2="1651.6" stroke="#000" stroke-width="3.3"/><path d="M1514.8 1658.4L1514.7 1646.3L1524.4 1651.1Z" fill="#000"/>
</g>
</svg></body></html>
